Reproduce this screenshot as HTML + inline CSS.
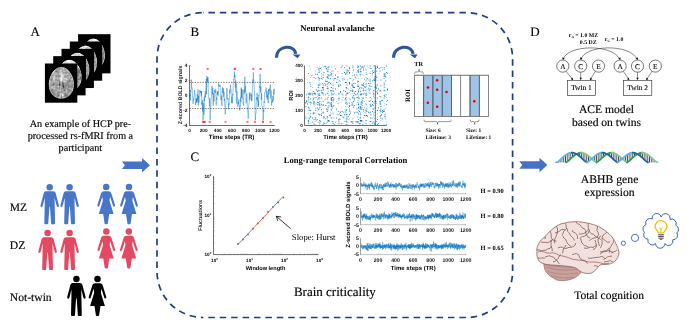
<!DOCTYPE html><html><head><meta charset="utf-8"><style>html,body{margin:0;padding:0;background:#fff;width:692px;height:336px;overflow:hidden}svg{display:block;will-change:transform}</style></head><body><svg text-rendering="geometricPrecision" width="692" height="336" viewBox="0 0 692 336"><text x="30.40" y="36.00" font-family='"Liberation Serif", serif' font-size="13" font-weight="normal" text-anchor="start" fill="#000" stroke="#000" stroke-width="0.15" >A</text><text x="190.50" y="35.70" font-family='"Liberation Serif", serif' font-size="13" font-weight="normal" text-anchor="start" fill="#000" stroke="#000" stroke-width="0.15" >B</text><text x="190.60" y="161.20" font-family='"Liberation Serif", serif' font-size="13" font-weight="normal" text-anchor="start" fill="#000" stroke="#000" stroke-width="0.15" >C</text><text x="530.20" y="35.80" font-family='"Liberation Serif", serif' font-size="13" font-weight="normal" text-anchor="start" fill="#000" stroke="#000" stroke-width="0.15" >D</text><rect x="78.10" y="34.18" width="32.4" height="39.2" fill="#000"/><path d="M91 38h1v1h-1zM104 60h1v1h-1z" fill="rgb(16,16,16)"/><path d="M97 39h1v1h-1z" fill="rgb(32,32,32)"/><path d="M104 50h1v1h-1z" fill="rgb(48,48,48)"/><path d="M94 38h1v1h-1zM89 39h1v1h-1zM103 47h1v1h-1zM102 64h1v1h-1z" fill="rgb(64,64,64)"/><path d="M92 38h1v1h-1zM102 45h1v1h-1z" fill="rgb(80,80,80)"/><path d="M93 38h1v1h-1zM98 40h1v1h-1zM104 51h1v1h-1zM104 59h1v1h-1zM103 62h1v1h-1z" fill="rgb(96,96,96)"/><path d="M102 53h1v1h-1zM102 59h1v1h-1z" fill="rgb(112,112,112)"/><path d="M102 48h1v1h-1zM103 52h1v1h-1zM104 52h1v1h-1zM103 53h1v1h-1zM102 54h1v1h-1zM102 57h1v1h-1zM103 57h1v1h-1zM102 58h1v1h-1zM103 58h1v1h-1zM102 60h1v1h-1zM102 61h1v1h-1z" fill="rgb(128,128,128)"/><path d="M88 40h1v1h-1zM99 41h1v1h-1zM103 48h1v1h-1zM103 51h1v1h-1zM103 54h1v1h-1zM102 55h1v1h-1zM103 55h1v1h-1zM102 56h1v1h-1zM103 56h1v1h-1zM104 58h1v1h-1zM103 59h1v1h-1zM102 62h1v1h-1z" fill="rgb(144,144,144)"/><path d="M102 49h1v1h-1zM103 49h1v1h-1zM103 50h1v1h-1zM102 52h1v1h-1zM104 53h1v1h-1zM104 55h1v1h-1z" fill="rgb(160,160,160)"/><path d="M96 39h1v1h-1zM102 47h1v1h-1zM102 50h1v1h-1zM104 54h1v1h-1zM104 56h1v1h-1zM104 57h1v1h-1zM103 60h1v1h-1zM103 61h1v1h-1z" fill="rgb(176,176,176)"/><path d="M87 41h1v1h-1zM102 46h1v1h-1zM102 51h1v1h-1zM102 63h1v1h-1z" fill="rgb(192,192,192)"/><path d="M90 39h1v1h-1zM92 39h1v1h-1z" fill="rgb(208,208,208)"/><path d="M91 39h1v1h-1zM91 40h1v1h-1zM92 40h1v1h-1zM97 40h1v1h-1zM88 41h1v1h-1zM89 41h1v1h-1zM95 41h1v1h-1zM96 41h1v1h-1zM97 41h1v1h-1z" fill="rgb(224,224,224)"/><path d="M93 39h1v1h-1zM95 39h1v1h-1zM89 40h1v1h-1zM90 40h1v1h-1zM93 40h1v1h-1zM96 40h1v1h-1zM90 41h1v1h-1zM93 41h1v1h-1zM94 41h1v1h-1z" fill="rgb(240,240,240)"/><path d="M94 39h1v1h-1zM94 40h1v1h-1zM95 40h1v1h-1zM91 41h1v1h-1zM92 41h1v1h-1zM98 41h1v1h-1z" fill="rgb(255,255,255)"/><rect x="69.80" y="41.51" width="32.4" height="39.2" fill="#000"/><path d="M89 46h1v1h-1zM96 56h1v1h-1zM96 68h1v1h-1z" fill="rgb(16,16,16)"/><path d="M84 45h1v1h-1zM86 45h1v1h-1zM81 46h1v1h-1zM95 70h1v1h-1z" fill="rgb(48,48,48)"/><path d="M85 45h1v1h-1zM96 67h1v1h-1z" fill="rgb(80,80,80)"/><path d="M90 47h1v1h-1zM95 54h1v1h-1zM96 57h1v1h-1z" fill="rgb(96,96,96)"/><path d="M94 52h1v1h-1z" fill="rgb(112,112,112)"/><path d="M91 48h1v1h-1zM94 56h1v1h-1zM94 57h1v1h-1zM94 58h1v1h-1zM94 61h1v1h-1zM94 62h1v1h-1zM96 64h1v1h-1zM96 65h1v1h-1zM94 71h1v1h-1z" fill="rgb(128,128,128)"/><path d="M94 54h1v1h-1zM94 55h1v1h-1zM94 59h1v1h-1zM95 62h1v1h-1zM95 64h1v1h-1zM94 65h1v1h-1zM95 65h1v1h-1zM96 66h1v1h-1z" fill="rgb(144,144,144)"/><path d="M80 47h1v1h-1zM95 55h1v1h-1zM95 56h1v1h-1zM95 57h1v1h-1zM95 58h1v1h-1zM96 58h1v1h-1zM94 60h1v1h-1zM95 60h1v1h-1zM95 61h1v1h-1zM94 63h1v1h-1zM95 63h1v1h-1zM96 63h1v1h-1zM94 66h1v1h-1zM94 67h1v1h-1zM94 68h1v1h-1zM94 69h1v1h-1zM95 69h1v1h-1z" fill="rgb(160,160,160)"/><path d="M82 46h1v1h-1zM88 46h1v1h-1zM79 48h1v1h-1zM94 53h1v1h-1zM95 59h1v1h-1zM96 59h1v1h-1zM96 60h1v1h-1zM96 62h1v1h-1zM94 64h1v1h-1zM95 66h1v1h-1zM95 67h1v1h-1zM95 68h1v1h-1zM94 70h1v1h-1z" fill="rgb(176,176,176)"/><path d="M87 47h1v1h-1zM96 61h1v1h-1z" fill="rgb(192,192,192)"/><path d="M83 46h1v1h-1zM83 47h1v1h-1zM86 47h1v1h-1zM88 47h1v1h-1zM89 47h1v1h-1zM81 48h1v1h-1zM85 48h1v1h-1zM86 48h1v1h-1zM87 48h1v1h-1zM88 48h1v1h-1zM89 48h1v1h-1zM90 48h1v1h-1z" fill="rgb(208,208,208)"/><path d="M87 46h1v1h-1zM81 47h1v1h-1zM84 47h1v1h-1zM85 47h1v1h-1z" fill="rgb(224,224,224)"/><path d="M84 46h1v1h-1zM82 47h1v1h-1zM80 48h1v1h-1zM82 48h1v1h-1zM84 48h1v1h-1z" fill="rgb(240,240,240)"/><path d="M85 46h1v1h-1zM86 46h1v1h-1zM83 48h1v1h-1z" fill="rgb(255,255,255)"/><rect x="61.50" y="48.84" width="32.4" height="39.2" fill="#000"/><path d="M78 52h1v1h-1zM87 60h1v1h-1zM88 76h1v1h-1zM87 78h1v1h-1z" fill="rgb(16,16,16)"/><path d="M76 52h1v1h-1zM77 52h1v1h-1zM89 67h1v1h-1zM89 72h1v1h-1z" fill="rgb(32,32,32)"/><path d="M73 53h1v1h-1zM89 71h1v1h-1z" fill="rgb(48,48,48)"/><path d="M88 63h1v1h-1zM89 68h1v1h-1zM89 69h1v1h-1zM89 70h1v1h-1zM86 79h1v1h-1z" fill="rgb(64,64,64)"/><path d="M88 75h1v1h-1z" fill="rgb(80,80,80)"/><path d="M82 54h1v1h-1z" fill="rgb(96,96,96)"/><path d="M86 65h1v1h-1zM86 75h1v1h-1zM87 75h1v1h-1zM86 76h1v1h-1zM87 76h1v1h-1zM87 77h1v1h-1z" fill="rgb(128,128,128)"/><path d="M74 53h1v1h-1zM80 53h1v1h-1zM72 54h1v1h-1zM83 55h1v1h-1zM87 61h1v1h-1zM86 62h1v1h-1zM88 64h1v1h-1zM87 65h1v1h-1zM86 66h1v1h-1zM87 66h1v1h-1zM86 69h1v1h-1zM86 71h1v1h-1zM87 71h1v1h-1zM87 73h1v1h-1zM87 74h1v1h-1zM86 77h1v1h-1z" fill="rgb(144,144,144)"/><path d="M86 59h1v1h-1zM86 61h1v1h-1zM87 62h1v1h-1zM86 64h1v1h-1zM87 64h1v1h-1zM88 66h1v1h-1zM88 67h1v1h-1zM87 68h1v1h-1zM88 68h1v1h-1zM87 69h1v1h-1zM88 69h1v1h-1zM86 70h1v1h-1zM87 70h1v1h-1zM88 70h1v1h-1zM88 71h1v1h-1zM87 72h1v1h-1zM86 73h1v1h-1zM86 74h1v1h-1zM88 74h1v1h-1zM86 78h1v1h-1z" fill="rgb(160,160,160)"/><path d="M86 63h1v1h-1zM87 63h1v1h-1zM88 65h1v1h-1zM86 67h1v1h-1zM87 67h1v1h-1zM86 68h1v1h-1zM86 72h1v1h-1zM88 72h1v1h-1zM88 73h1v1h-1z" fill="rgb(176,176,176)"/><path d="M78 55h1v1h-1zM81 55h1v1h-1zM86 60h1v1h-1z" fill="rgb(192,192,192)"/><path d="M75 53h1v1h-1zM76 53h1v1h-1zM73 54h1v1h-1zM74 54h1v1h-1zM75 54h1v1h-1zM76 54h1v1h-1zM77 54h1v1h-1zM78 54h1v1h-1zM79 54h1v1h-1zM81 54h1v1h-1zM71 55h1v1h-1zM74 55h1v1h-1zM75 55h1v1h-1zM76 55h1v1h-1zM77 55h1v1h-1zM79 55h1v1h-1zM82 55h1v1h-1z" fill="rgb(208,208,208)"/><path d="M77 53h1v1h-1zM78 53h1v1h-1zM80 54h1v1h-1zM73 55h1v1h-1zM80 55h1v1h-1z" fill="rgb(224,224,224)"/><path d="M79 53h1v1h-1zM72 55h1v1h-1z" fill="rgb(240,240,240)"/><rect x="53.20" y="56.17" width="32.4" height="39.2" fill="#000"/><path d="M68 59h1v1h-1zM69 59h1v1h-1zM78 65h1v1h-1zM80 69h1v1h-1z" fill="rgb(16,16,16)"/><path d="M65 60h1v1h-1z" fill="rgb(32,32,32)"/><path d="M81 73h1v1h-1z" fill="rgb(48,48,48)"/><path d="M79 67h1v1h-1zM81 80h1v1h-1z" fill="rgb(64,64,64)"/><path d="M77 64h1v1h-1zM81 79h1v1h-1zM80 83h1v1h-1zM79 85h1v1h-1z" fill="rgb(80,80,80)"/><path d="M74 61h1v1h-1zM80 70h1v1h-1zM81 74h1v1h-1zM81 77h1v1h-1zM81 78h1v1h-1z" fill="rgb(96,96,96)"/><path d="M75 62h1v1h-1zM78 70h1v1h-1zM79 70h1v1h-1zM77 71h1v1h-1zM78 71h1v1h-1zM79 71h1v1h-1zM77 72h1v1h-1zM78 72h1v1h-1zM79 72h1v1h-1zM81 76h1v1h-1zM80 77h1v1h-1zM80 78h1v1h-1zM78 79h1v1h-1z" fill="rgb(112,112,112)"/><path d="M72 60h1v1h-1zM76 63h1v1h-1zM78 69h1v1h-1zM77 73h1v1h-1zM78 73h1v1h-1zM79 73h1v1h-1zM77 74h1v1h-1zM78 74h1v1h-1zM77 75h1v1h-1zM78 75h1v1h-1zM81 75h1v1h-1zM79 78h1v1h-1zM79 79h1v1h-1zM78 86h1v1h-1z" fill="rgb(128,128,128)"/><path d="M64 61h1v1h-1zM79 69h1v1h-1zM77 70h1v1h-1zM80 72h1v1h-1zM80 73h1v1h-1zM77 76h1v1h-1zM78 76h1v1h-1zM80 76h1v1h-1zM78 78h1v1h-1zM77 79h1v1h-1zM80 79h1v1h-1zM77 80h1v1h-1zM77 81h1v1h-1zM78 81h1v1h-1zM77 82h1v1h-1zM77 87h1v1h-1z" fill="rgb(144,144,144)"/><path d="M66 60h1v1h-1zM78 68h1v1h-1zM77 69h1v1h-1zM80 71h1v1h-1zM79 74h1v1h-1zM79 75h1v1h-1zM79 76h1v1h-1zM77 77h1v1h-1zM78 77h1v1h-1zM79 77h1v1h-1zM77 78h1v1h-1zM78 80h1v1h-1zM78 82h1v1h-1zM78 83h1v1h-1zM78 84h1v1h-1zM77 85h1v1h-1zM78 85h1v1h-1zM77 86h1v1h-1z" fill="rgb(160,160,160)"/><path d="M77 68h1v1h-1zM79 68h1v1h-1zM80 74h1v1h-1zM80 75h1v1h-1zM79 80h1v1h-1zM80 80h1v1h-1zM79 81h1v1h-1zM79 82h1v1h-1zM77 83h1v1h-1zM79 83h1v1h-1zM77 84h1v1h-1zM79 84h1v1h-1z" fill="rgb(176,176,176)"/><path d="M64 63h1v1h-1zM77 65h1v1h-1zM77 67h1v1h-1zM80 81h1v1h-1zM80 82h1v1h-1z" fill="rgb(192,192,192)"/><path d="M73 61h1v1h-1zM65 63h1v1h-1zM66 63h1v1h-1zM67 63h1v1h-1zM68 63h1v1h-1zM71 63h1v1h-1zM73 63h1v1h-1zM77 66h1v1h-1z" fill="rgb(208,208,208)"/><path d="M71 60h1v1h-1zM65 61h1v1h-1zM71 61h1v1h-1zM64 62h1v1h-1zM65 62h1v1h-1zM66 62h1v1h-1zM67 62h1v1h-1zM70 62h1v1h-1zM71 62h1v1h-1zM73 62h1v1h-1zM70 63h1v1h-1zM72 63h1v1h-1zM75 63h1v1h-1zM78 66h1v1h-1zM78 67h1v1h-1z" fill="rgb(224,224,224)"/><path d="M70 60h1v1h-1zM66 61h1v1h-1zM70 61h1v1h-1zM72 61h1v1h-1zM63 62h1v1h-1zM68 62h1v1h-1zM69 62h1v1h-1zM72 62h1v1h-1zM74 62h1v1h-1zM62 63h1v1h-1zM63 63h1v1h-1zM69 63h1v1h-1zM74 63h1v1h-1z" fill="rgb(240,240,240)"/><path d="M67 60h1v1h-1zM68 60h1v1h-1zM69 60h1v1h-1zM67 61h1v1h-1zM68 61h1v1h-1zM69 61h1v1h-1z" fill="rgb(255,255,255)"/><rect x="44.90" y="63.50" width="32.4" height="39.2" fill="#000"/><path d="M57 67h1v1h-1zM48 82h1v1h-1zM48 86h1v1h-1zM73 89h1v1h-1z" fill="rgb(16,16,16)"/><path d="M70 72h1v1h-1zM48 84h1v1h-1zM48 85h1v1h-1zM49 90h1v1h-1zM50 92h1v1h-1zM71 93h1v1h-1zM55 97h1v1h-1z" fill="rgb(32,32,32)"/><path d="M51 73h1v1h-1zM50 75h1v1h-1zM73 79h1v1h-1zM48 83h1v1h-1zM63 86h1v1h-1zM68 96h1v1h-1zM64 98h1v1h-1z" fill="rgb(48,48,48)"/><path d="M66 68h1v1h-1zM49 78h1v1h-1zM59 84h1v1h-1zM72 91h1v1h-1zM58 98h1v1h-1z" fill="rgb(64,64,64)"/><path d="M64 67h1v1h-1zM71 74h1v1h-1zM72 76h1v1h-1zM59 85h1v1h-1zM63 85h1v1h-1zM63 87h1v1h-1zM73 88h1v1h-1zM70 94h1v1h-1zM69 95h1v1h-1zM66 97h1v1h-1zM61 98h1v1h-1zM63 98h1v1h-1z" fill="rgb(80,80,80)"/><path d="M56 68h1v1h-1zM69 71h1v1h-1zM59 83h1v1h-1zM62 83h1v1h-1zM62 84h1v1h-1zM62 85h1v1h-1zM54 96h1v1h-1z" fill="rgb(96,96,96)"/><path d="M58 67h1v1h-1zM67 69h1v1h-1zM68 70h1v1h-1zM56 71h1v1h-1zM69 80h1v1h-1zM73 80h1v1h-1zM59 82h1v1h-1zM62 82h1v1h-1zM63 83h1v1h-1zM53 84h1v1h-1zM63 84h1v1h-1zM62 86h1v1h-1zM49 89h1v1h-1zM64 90h1v1h-1zM51 93h1v1h-1zM58 95h1v1h-1zM65 95h1v1h-1zM66 95h1v1h-1zM56 97h1v1h-1zM61 97h1v1h-1zM59 98h1v1h-1zM62 98h1v1h-1z" fill="rgb(112,112,112)"/><path d="M55 71h1v1h-1zM57 71h1v1h-1zM49 79h1v1h-1zM59 81h1v1h-1zM69 81h1v1h-1zM73 81h1v1h-1zM67 82h1v1h-1zM53 83h1v1h-1zM60 84h1v1h-1zM60 85h1v1h-1zM65 85h1v1h-1zM66 85h1v1h-1zM68 85h1v1h-1zM72 85h1v1h-1zM64 86h1v1h-1zM68 86h1v1h-1zM69 86h1v1h-1zM71 86h1v1h-1zM59 87h1v1h-1zM64 87h1v1h-1zM73 87h1v1h-1zM63 88h1v1h-1zM51 89h1v1h-1zM52 89h1v1h-1zM64 89h1v1h-1zM51 90h1v1h-1zM52 90h1v1h-1zM68 90h1v1h-1zM69 90h1v1h-1zM50 91h1v1h-1zM52 91h1v1h-1zM52 92h1v1h-1zM53 92h1v1h-1zM53 93h1v1h-1zM65 93h1v1h-1zM54 94h1v1h-1zM65 94h1v1h-1zM66 94h1v1h-1zM53 95h1v1h-1zM57 95h1v1h-1zM57 96h1v1h-1zM61 96h1v1h-1zM65 96h1v1h-1zM66 96h1v1h-1zM60 98h1v1h-1z" fill="rgb(128,128,128)"/><path d="M59 67h1v1h-1zM63 67h1v1h-1zM59 68h1v1h-1zM59 69h1v1h-1zM65 69h1v1h-1zM56 70h1v1h-1zM58 72h1v1h-1zM65 72h1v1h-1zM66 72h1v1h-1zM69 73h1v1h-1zM51 75h1v1h-1zM56 75h1v1h-1zM58 75h1v1h-1zM59 75h1v1h-1zM68 75h1v1h-1zM70 75h1v1h-1zM56 76h1v1h-1zM58 76h1v1h-1zM59 76h1v1h-1zM65 76h1v1h-1zM70 77h1v1h-1zM71 77h1v1h-1zM51 78h1v1h-1zM70 78h1v1h-1zM50 79h1v1h-1zM51 79h1v1h-1zM69 79h1v1h-1zM51 80h1v1h-1zM57 80h1v1h-1zM58 80h1v1h-1zM59 80h1v1h-1zM68 80h1v1h-1zM70 80h1v1h-1zM67 81h1v1h-1zM68 81h1v1h-1zM70 81h1v1h-1zM72 81h1v1h-1zM63 82h1v1h-1zM68 82h1v1h-1zM54 83h1v1h-1zM60 83h1v1h-1zM64 83h1v1h-1zM65 83h1v1h-1zM66 83h1v1h-1zM67 83h1v1h-1zM68 83h1v1h-1zM52 84h1v1h-1zM54 84h1v1h-1zM56 84h1v1h-1zM57 84h1v1h-1zM58 84h1v1h-1zM66 84h1v1h-1zM67 84h1v1h-1zM68 84h1v1h-1zM71 84h1v1h-1zM72 84h1v1h-1zM51 85h1v1h-1zM52 85h1v1h-1zM53 85h1v1h-1zM56 85h1v1h-1zM57 85h1v1h-1zM64 85h1v1h-1zM67 85h1v1h-1zM69 85h1v1h-1zM71 85h1v1h-1zM59 86h1v1h-1zM65 86h1v1h-1zM70 86h1v1h-1zM72 86h1v1h-1zM56 87h1v1h-1zM62 87h1v1h-1zM65 87h1v1h-1zM68 87h1v1h-1zM69 87h1v1h-1zM70 87h1v1h-1zM71 87h1v1h-1zM72 87h1v1h-1zM56 88h1v1h-1zM59 88h1v1h-1zM61 88h1v1h-1zM62 88h1v1h-1zM64 88h1v1h-1zM65 88h1v1h-1zM67 88h1v1h-1zM61 89h1v1h-1zM63 89h1v1h-1zM67 89h1v1h-1zM68 89h1v1h-1zM69 89h1v1h-1zM55 90h1v1h-1zM63 90h1v1h-1zM65 90h1v1h-1zM70 90h1v1h-1zM53 91h1v1h-1zM61 91h1v1h-1zM68 91h1v1h-1zM70 91h1v1h-1zM58 92h1v1h-1zM59 92h1v1h-1zM61 92h1v1h-1zM67 92h1v1h-1zM68 92h1v1h-1zM71 92h1v1h-1zM54 93h1v1h-1zM57 93h1v1h-1zM58 93h1v1h-1zM64 93h1v1h-1zM52 94h1v1h-1zM53 94h1v1h-1zM55 94h1v1h-1zM57 94h1v1h-1zM58 94h1v1h-1zM64 94h1v1h-1zM67 94h1v1h-1zM61 95h1v1h-1zM64 95h1v1h-1zM67 95h1v1h-1zM58 96h1v1h-1zM64 96h1v1h-1zM67 96h1v1h-1z" fill="rgb(144,144,144)"/><path d="M60 67h1v1h-1zM62 67h1v1h-1zM57 68h1v1h-1zM58 68h1v1h-1zM60 68h1v1h-1zM55 69h1v1h-1zM56 69h1v1h-1zM57 69h1v1h-1zM58 69h1v1h-1zM62 69h1v1h-1zM64 69h1v1h-1zM55 70h1v1h-1zM57 70h1v1h-1zM58 70h1v1h-1zM62 70h1v1h-1zM65 70h1v1h-1zM58 71h1v1h-1zM62 71h1v1h-1zM66 71h1v1h-1zM52 72h1v1h-1zM55 72h1v1h-1zM56 72h1v1h-1zM57 72h1v1h-1zM63 72h1v1h-1zM64 72h1v1h-1zM67 72h1v1h-1zM68 72h1v1h-1zM57 73h1v1h-1zM58 73h1v1h-1zM65 73h1v1h-1zM66 73h1v1h-1zM68 73h1v1h-1zM70 73h1v1h-1zM51 74h1v1h-1zM58 74h1v1h-1zM52 75h1v1h-1zM55 75h1v1h-1zM57 75h1v1h-1zM65 75h1v1h-1zM67 75h1v1h-1zM69 75h1v1h-1zM50 76h1v1h-1zM51 76h1v1h-1zM55 76h1v1h-1zM57 76h1v1h-1zM64 76h1v1h-1zM66 76h1v1h-1zM67 76h1v1h-1zM68 76h1v1h-1zM70 76h1v1h-1zM51 77h1v1h-1zM52 77h1v1h-1zM58 77h1v1h-1zM64 77h1v1h-1zM65 77h1v1h-1zM72 77h1v1h-1zM52 78h1v1h-1zM68 78h1v1h-1zM71 78h1v1h-1zM52 79h1v1h-1zM55 79h1v1h-1zM56 79h1v1h-1zM57 79h1v1h-1zM58 79h1v1h-1zM70 79h1v1h-1zM50 80h1v1h-1zM52 80h1v1h-1zM55 80h1v1h-1zM56 80h1v1h-1zM67 80h1v1h-1zM71 80h1v1h-1zM72 80h1v1h-1zM57 81h1v1h-1zM62 81h1v1h-1zM71 81h1v1h-1zM51 82h1v1h-1zM53 82h1v1h-1zM54 82h1v1h-1zM55 82h1v1h-1zM56 82h1v1h-1zM57 82h1v1h-1zM60 82h1v1h-1zM66 82h1v1h-1zM69 82h1v1h-1zM71 82h1v1h-1zM72 82h1v1h-1zM50 83h1v1h-1zM51 83h1v1h-1zM52 83h1v1h-1zM55 83h1v1h-1zM56 83h1v1h-1zM57 83h1v1h-1zM69 83h1v1h-1zM71 83h1v1h-1zM72 83h1v1h-1zM73 83h1v1h-1zM51 84h1v1h-1zM55 84h1v1h-1zM61 84h1v1h-1zM64 84h1v1h-1zM65 84h1v1h-1zM69 84h1v1h-1zM73 84h1v1h-1zM50 85h1v1h-1zM54 85h1v1h-1zM55 85h1v1h-1zM58 85h1v1h-1zM61 85h1v1h-1zM70 85h1v1h-1zM73 85h1v1h-1zM56 86h1v1h-1zM66 86h1v1h-1zM67 86h1v1h-1zM73 86h1v1h-1zM49 87h1v1h-1zM50 87h1v1h-1zM55 87h1v1h-1zM57 87h1v1h-1zM61 87h1v1h-1zM66 87h1v1h-1zM67 87h1v1h-1zM50 88h1v1h-1zM55 88h1v1h-1zM57 88h1v1h-1zM58 88h1v1h-1zM66 88h1v1h-1zM68 88h1v1h-1zM71 88h1v1h-1zM50 89h1v1h-1zM53 89h1v1h-1zM55 89h1v1h-1zM56 89h1v1h-1zM59 89h1v1h-1zM62 89h1v1h-1zM65 89h1v1h-1zM70 89h1v1h-1zM50 90h1v1h-1zM53 90h1v1h-1zM54 90h1v1h-1zM56 90h1v1h-1zM67 90h1v1h-1zM71 90h1v1h-1zM51 91h1v1h-1zM54 91h1v1h-1zM55 91h1v1h-1zM57 91h1v1h-1zM58 91h1v1h-1zM59 91h1v1h-1zM62 91h1v1h-1zM63 91h1v1h-1zM64 91h1v1h-1zM67 91h1v1h-1zM69 91h1v1h-1zM71 91h1v1h-1zM51 92h1v1h-1zM54 92h1v1h-1zM57 92h1v1h-1zM60 92h1v1h-1zM62 92h1v1h-1zM65 92h1v1h-1zM69 92h1v1h-1zM70 92h1v1h-1zM52 93h1v1h-1zM55 93h1v1h-1zM56 93h1v1h-1zM59 93h1v1h-1zM66 93h1v1h-1zM67 93h1v1h-1zM56 94h1v1h-1zM59 94h1v1h-1zM54 95h1v1h-1zM55 95h1v1h-1zM56 95h1v1h-1zM59 95h1v1h-1zM68 95h1v1h-1zM56 96h1v1h-1zM65 97h1v1h-1z" fill="rgb(160,160,160)"/><path d="M61 67h1v1h-1zM61 68h1v1h-1zM64 68h1v1h-1zM65 68h1v1h-1zM60 69h1v1h-1zM61 69h1v1h-1zM66 69h1v1h-1zM59 70h1v1h-1zM63 70h1v1h-1zM64 70h1v1h-1zM66 70h1v1h-1zM59 71h1v1h-1zM65 71h1v1h-1zM67 71h1v1h-1zM54 72h1v1h-1zM59 72h1v1h-1zM62 72h1v1h-1zM69 72h1v1h-1zM53 73h1v1h-1zM54 73h1v1h-1zM55 73h1v1h-1zM56 73h1v1h-1zM63 73h1v1h-1zM64 73h1v1h-1zM67 73h1v1h-1zM52 74h1v1h-1zM53 74h1v1h-1zM55 74h1v1h-1zM56 74h1v1h-1zM57 74h1v1h-1zM65 74h1v1h-1zM68 74h1v1h-1zM69 74h1v1h-1zM70 74h1v1h-1zM53 75h1v1h-1zM60 75h1v1h-1zM64 75h1v1h-1zM66 75h1v1h-1zM71 75h1v1h-1zM52 76h1v1h-1zM60 76h1v1h-1zM71 76h1v1h-1zM55 77h1v1h-1zM56 77h1v1h-1zM57 77h1v1h-1zM66 77h1v1h-1zM67 77h1v1h-1zM68 77h1v1h-1zM50 78h1v1h-1zM55 78h1v1h-1zM56 78h1v1h-1zM58 78h1v1h-1zM67 78h1v1h-1zM69 78h1v1h-1zM59 79h1v1h-1zM68 79h1v1h-1zM53 80h1v1h-1zM65 80h1v1h-1zM66 80h1v1h-1zM50 81h1v1h-1zM51 81h1v1h-1zM52 81h1v1h-1zM53 81h1v1h-1zM55 81h1v1h-1zM56 81h1v1h-1zM58 81h1v1h-1zM60 81h1v1h-1zM66 81h1v1h-1zM50 82h1v1h-1zM52 82h1v1h-1zM61 82h1v1h-1zM64 82h1v1h-1zM65 82h1v1h-1zM70 82h1v1h-1zM73 82h1v1h-1zM58 83h1v1h-1zM61 83h1v1h-1zM70 83h1v1h-1zM49 84h1v1h-1zM50 84h1v1h-1zM70 84h1v1h-1zM49 85h1v1h-1zM49 86h1v1h-1zM50 86h1v1h-1zM51 86h1v1h-1zM53 86h1v1h-1zM55 86h1v1h-1zM57 86h1v1h-1zM61 86h1v1h-1zM53 87h1v1h-1zM54 87h1v1h-1zM58 87h1v1h-1zM60 87h1v1h-1zM49 88h1v1h-1zM51 88h1v1h-1zM52 88h1v1h-1zM60 88h1v1h-1zM69 88h1v1h-1zM70 88h1v1h-1zM54 89h1v1h-1zM57 89h1v1h-1zM58 89h1v1h-1zM60 89h1v1h-1zM66 89h1v1h-1zM71 89h1v1h-1zM57 90h1v1h-1zM58 90h1v1h-1zM59 90h1v1h-1zM61 90h1v1h-1zM62 90h1v1h-1zM56 91h1v1h-1zM60 91h1v1h-1zM65 91h1v1h-1zM55 92h1v1h-1zM56 92h1v1h-1zM63 92h1v1h-1zM64 92h1v1h-1zM66 92h1v1h-1zM63 93h1v1h-1zM68 93h1v1h-1zM69 93h1v1h-1zM70 93h1v1h-1zM68 94h1v1h-1zM69 94h1v1h-1zM63 96h1v1h-1zM57 97h1v1h-1zM63 97h1v1h-1zM64 97h1v1h-1z" fill="rgb(176,176,176)"/><path d="M62 68h1v1h-1zM63 69h1v1h-1zM54 70h1v1h-1zM67 70h1v1h-1zM54 71h1v1h-1zM60 71h1v1h-1zM61 71h1v1h-1zM63 71h1v1h-1zM64 71h1v1h-1zM68 71h1v1h-1zM60 72h1v1h-1zM59 73h1v1h-1zM62 73h1v1h-1zM54 74h1v1h-1zM59 74h1v1h-1zM63 74h1v1h-1zM64 74h1v1h-1zM66 74h1v1h-1zM67 74h1v1h-1zM54 75h1v1h-1zM53 76h1v1h-1zM69 76h1v1h-1zM50 77h1v1h-1zM53 77h1v1h-1zM59 77h1v1h-1zM63 77h1v1h-1zM69 77h1v1h-1zM57 78h1v1h-1zM59 78h1v1h-1zM72 78h1v1h-1zM53 79h1v1h-1zM62 79h1v1h-1zM63 79h1v1h-1zM64 79h1v1h-1zM65 79h1v1h-1zM67 79h1v1h-1zM71 79h1v1h-1zM49 80h1v1h-1zM54 80h1v1h-1zM62 80h1v1h-1zM63 80h1v1h-1zM64 80h1v1h-1zM54 81h1v1h-1zM61 81h1v1h-1zM63 81h1v1h-1zM65 81h1v1h-1zM58 82h1v1h-1zM49 83h1v1h-1zM52 86h1v1h-1zM54 86h1v1h-1zM60 86h1v1h-1zM51 87h1v1h-1zM52 87h1v1h-1zM53 88h1v1h-1zM54 88h1v1h-1zM72 88h1v1h-1zM60 90h1v1h-1zM66 90h1v1h-1zM72 90h1v1h-1zM66 91h1v1h-1zM60 93h1v1h-1zM61 93h1v1h-1zM62 93h1v1h-1zM60 94h1v1h-1zM63 94h1v1h-1zM55 96h1v1h-1zM59 96h1v1h-1zM60 96h1v1h-1zM62 96h1v1h-1zM58 97h1v1h-1zM59 97h1v1h-1zM60 97h1v1h-1zM62 97h1v1h-1z" fill="rgb(192,192,192)"/><path d="M63 68h1v1h-1zM60 70h1v1h-1zM61 70h1v1h-1zM53 71h1v1h-1zM53 72h1v1h-1zM61 72h1v1h-1zM52 73h1v1h-1zM60 73h1v1h-1zM61 73h1v1h-1zM60 74h1v1h-1zM62 74h1v1h-1zM63 75h1v1h-1zM54 76h1v1h-1zM63 76h1v1h-1zM54 77h1v1h-1zM60 77h1v1h-1zM62 77h1v1h-1zM53 78h1v1h-1zM54 78h1v1h-1zM62 78h1v1h-1zM63 78h1v1h-1zM64 78h1v1h-1zM65 78h1v1h-1zM66 78h1v1h-1zM54 79h1v1h-1zM66 79h1v1h-1zM72 79h1v1h-1zM49 81h1v1h-1zM64 81h1v1h-1zM49 82h1v1h-1zM58 86h1v1h-1zM72 89h1v1h-1zM61 94h1v1h-1zM60 95h1v1h-1zM63 95h1v1h-1z" fill="rgb(208,208,208)"/><path d="M61 74h1v1h-1zM61 75h1v1h-1zM62 75h1v1h-1zM61 76h1v1h-1zM62 76h1v1h-1zM60 78h1v1h-1zM60 79h1v1h-1zM60 80h1v1h-1zM62 94h1v1h-1z" fill="rgb(224,224,224)"/><path d="M61 77h1v1h-1zM61 78h1v1h-1zM61 79h1v1h-1zM61 80h1v1h-1zM62 95h1v1h-1z" fill="rgb(240,240,240)"/><text x="80.40" y="127.10" font-family='"Liberation Serif", serif' font-size="10.2" font-weight="normal" text-anchor="middle" fill="#000" stroke="#000" stroke-width="0.15" >An example of HCP pre-</text><text x="80.40" y="138.80" font-family='"Liberation Serif", serif' font-size="10.2" font-weight="normal" text-anchor="middle" fill="#000" stroke="#000" stroke-width="0.15" >processed rs-fMRI from a</text><text x="80.40" y="150.50" font-family='"Liberation Serif", serif' font-size="10.2" font-weight="normal" text-anchor="middle" fill="#000" stroke="#000" stroke-width="0.15" >participant</text><path d="M121.90,161.60 L142.10,161.60 L142.10,158.10 L149.90,165.30 L142.10,172.50 L142.10,169.00 L121.90,169.00 L124.90,165.30Z" fill="#4472c4"/><path d="M519.30,161.30 L539.50,161.30 L539.50,157.80 L547.30,165.00 L539.50,172.20 L539.50,168.70 L519.30,168.70 L522.30,165.00Z" fill="#4472c4"/><g transform="translate(49.70,187.20) scale(1.0)" fill="#4876c8"><circle cx="0" cy="0" r="3.25"/><path d="M-3.8,4.1 L3.8,4.1 Q5.4,4.1 5.9,5.6 L9.2,18.2 Q9.5,19.5 8.4,19.8 Q7.4,20 7.1,19 L4.9,10.5 L5.0,19 L5.4,36.0 Q5.4,37.0 4.4,37.0 L2.3,37.0 Q1.5,37.0 1.4,36.0 L0.3,19.5 L-0.3,19.5 L-1.4,36.0 Q-1.5,37.0 -2.3,37.0 L-4.4,37.0 Q-5.4,37.0 -5.4,36.0 L-5.0,19 L-4.9,10.5 L-7.1,19 Q-7.4,20 -8.4,19.8 Q-9.5,19.5 -9.2,18.2 L-5.9,5.6 Q-5.4,4.1 -3.8,4.1Z"/></g><g transform="translate(69.60,187.20) scale(1.0)" fill="#4876c8"><circle cx="0" cy="0" r="3.25"/><path d="M-3.8,4.1 L3.8,4.1 Q5.4,4.1 5.9,5.6 L9.2,18.2 Q9.5,19.5 8.4,19.8 Q7.4,20 7.1,19 L4.9,10.5 L5.0,19 L5.4,36.0 Q5.4,37.0 4.4,37.0 L2.3,37.0 Q1.5,37.0 1.4,36.0 L0.3,19.5 L-0.3,19.5 L-1.4,36.0 Q-1.5,37.0 -2.3,37.0 L-4.4,37.0 Q-5.4,37.0 -5.4,36.0 L-5.0,19 L-4.9,10.5 L-7.1,19 Q-7.4,20 -8.4,19.8 Q-9.5,19.5 -9.2,18.2 L-5.9,5.6 Q-5.4,4.1 -3.8,4.1Z"/></g><g transform="translate(106.20,187.00) scale(1.0)" fill="#4876c8"><circle cx="0" cy="0" r="3.25"/><path d="M-2.6,4.3 L2.6,4.3 Q4.4,4.3 5.0,5.9 L8.8,18.0 Q9.1,19.3 8.0,19.6 Q7.1,19.8 6.8,18.8 L4.0,10.0 Q3.2,12.5 3.4,14.0 L7.4,27.1 L3.0,27.1 L1.6,36.4 Q1.5,37.2 0.7,37.2 L-0.7,37.2 Q-1.5,37.2 -1.6,36.4 L-3.0,27.1 L-7.4,27.1 L-3.4,14.0 Q-3.2,12.5 -4.0,10.0 L-6.8,18.8 Q-7.1,19.8 -8.0,19.6 Q-9.1,19.3 -8.8,18.0 L-5.0,5.9 Q-4.4,4.3 -2.6,4.3Z"/></g><g transform="translate(129.00,187.00) scale(1.0)" fill="#4876c8"><circle cx="0" cy="0" r="3.25"/><path d="M-2.6,4.3 L2.6,4.3 Q4.4,4.3 5.0,5.9 L8.8,18.0 Q9.1,19.3 8.0,19.6 Q7.1,19.8 6.8,18.8 L4.0,10.0 Q3.2,12.5 3.4,14.0 L7.4,27.1 L3.0,27.1 L1.6,36.4 Q1.5,37.2 0.7,37.2 L-0.7,37.2 Q-1.5,37.2 -1.6,36.4 L-3.0,27.1 L-7.4,27.1 L-3.4,14.0 Q-3.2,12.5 -4.0,10.0 L-6.8,18.8 Q-7.1,19.8 -8.0,19.6 Q-9.1,19.3 -8.8,18.0 L-5.0,5.9 Q-4.4,4.3 -2.6,4.3Z"/></g><g transform="translate(47.60,233.10) scale(1.0)" fill="#e24a62"><circle cx="0" cy="0" r="3.25"/><path d="M-3.8,4.1 L3.8,4.1 Q5.4,4.1 5.9,5.6 L9.2,18.2 Q9.5,19.5 8.4,19.8 Q7.4,20 7.1,19 L4.9,10.5 L5.0,19 L5.4,36.0 Q5.4,37.0 4.4,37.0 L2.3,37.0 Q1.5,37.0 1.4,36.0 L0.3,19.5 L-0.3,19.5 L-1.4,36.0 Q-1.5,37.0 -2.3,37.0 L-4.4,37.0 Q-5.4,37.0 -5.4,36.0 L-5.0,19 L-4.9,10.5 L-7.1,19 Q-7.4,20 -8.4,19.8 Q-9.5,19.5 -9.2,18.2 L-5.9,5.6 Q-5.4,4.1 -3.8,4.1Z"/></g><g transform="translate(69.60,233.10) scale(1.0)" fill="#e24a62"><circle cx="0" cy="0" r="3.25"/><path d="M-3.8,4.1 L3.8,4.1 Q5.4,4.1 5.9,5.6 L9.2,18.2 Q9.5,19.5 8.4,19.8 Q7.4,20 7.1,19 L4.9,10.5 L5.0,19 L5.4,36.0 Q5.4,37.0 4.4,37.0 L2.3,37.0 Q1.5,37.0 1.4,36.0 L0.3,19.5 L-0.3,19.5 L-1.4,36.0 Q-1.5,37.0 -2.3,37.0 L-4.4,37.0 Q-5.4,37.0 -5.4,36.0 L-5.0,19 L-4.9,10.5 L-7.1,19 Q-7.4,20 -8.4,19.8 Q-9.5,19.5 -9.2,18.2 L-5.9,5.6 Q-5.4,4.1 -3.8,4.1Z"/></g><g transform="translate(106.30,231.40) scale(1.0)" fill="#e24a62"><circle cx="0" cy="0" r="3.25"/><path d="M-2.6,4.3 L2.6,4.3 Q4.4,4.3 5.0,5.9 L8.8,18.0 Q9.1,19.3 8.0,19.6 Q7.1,19.8 6.8,18.8 L4.0,10.0 Q3.2,12.5 3.4,14.0 L7.4,27.1 L3.0,27.1 L1.6,36.4 Q1.5,37.2 0.7,37.2 L-0.7,37.2 Q-1.5,37.2 -1.6,36.4 L-3.0,27.1 L-7.4,27.1 L-3.4,14.0 Q-3.2,12.5 -4.0,10.0 L-6.8,18.8 Q-7.1,19.8 -8.0,19.6 Q-9.1,19.3 -8.8,18.0 L-5.0,5.9 Q-4.4,4.3 -2.6,4.3Z"/></g><g transform="translate(128.80,231.40) scale(1.0)" fill="#e24a62"><circle cx="0" cy="0" r="3.25"/><path d="M-2.6,4.3 L2.6,4.3 Q4.4,4.3 5.0,5.9 L8.8,18.0 Q9.1,19.3 8.0,19.6 Q7.1,19.8 6.8,18.8 L4.0,10.0 Q3.2,12.5 3.4,14.0 L7.4,27.1 L3.0,27.1 L1.6,36.4 Q1.5,37.2 0.7,37.2 L-0.7,37.2 Q-1.5,37.2 -1.6,36.4 L-3.0,27.1 L-7.4,27.1 L-3.4,14.0 Q-3.2,12.5 -4.0,10.0 L-6.8,18.8 Q-7.1,19.8 -8.0,19.6 Q-9.1,19.3 -8.8,18.0 L-5.0,5.9 Q-4.4,4.3 -2.6,4.3Z"/></g><g transform="translate(76.40,278.90) scale(1.0)" fill="#000"><circle cx="0" cy="0" r="3.25"/><path d="M-3.8,4.1 L3.8,4.1 Q5.4,4.1 5.9,5.6 L9.2,18.2 Q9.5,19.5 8.4,19.8 Q7.4,20 7.1,19 L4.9,10.5 L5.0,19 L5.4,36.0 Q5.4,37.0 4.4,37.0 L2.3,37.0 Q1.5,37.0 1.4,36.0 L0.3,19.5 L-0.3,19.5 L-1.4,36.0 Q-1.5,37.0 -2.3,37.0 L-4.4,37.0 Q-5.4,37.0 -5.4,36.0 L-5.0,19 L-4.9,10.5 L-7.1,19 Q-7.4,20 -8.4,19.8 Q-9.5,19.5 -9.2,18.2 L-5.9,5.6 Q-5.4,4.1 -3.8,4.1Z"/></g><g transform="translate(97.50,278.90) scale(1.0)" fill="#000"><circle cx="0" cy="0" r="3.25"/><path d="M-2.6,4.3 L2.6,4.3 Q4.4,4.3 5.0,5.9 L8.8,18.0 Q9.1,19.3 8.0,19.6 Q7.1,19.8 6.8,18.8 L4.0,10.0 Q3.2,12.5 3.4,14.0 L7.4,27.1 L3.0,27.1 L1.6,36.4 Q1.5,37.2 0.7,37.2 L-0.7,37.2 Q-1.5,37.2 -1.6,36.4 L-3.0,27.1 L-7.4,27.1 L-3.4,14.0 Q-3.2,12.5 -4.0,10.0 L-6.8,18.8 Q-7.1,19.8 -8.0,19.6 Q-9.1,19.3 -8.8,18.0 L-5.0,5.9 Q-4.4,4.3 -2.6,4.3Z"/></g><text x="9.80" y="211.00" font-family='"Liberation Serif", serif' font-size="11.5" font-weight="normal" text-anchor="start" fill="#000" stroke="#000" stroke-width="0.15" >MZ</text><text x="9.80" y="248.60" font-family='"Liberation Serif", serif' font-size="11.6" font-weight="normal" text-anchor="start" fill="#000" stroke="#000" stroke-width="0.15" >DZ</text><text x="9.80" y="301.00" font-family='"Liberation Serif", serif' font-size="11.6" font-weight="normal" text-anchor="start" fill="#000" stroke="#000" stroke-width="0.15" >Not-twin</text><path d="M203.0,12.6 L466.6,12.6 A46,46 0 0,1 512.6,58.6 L512.6,271.5 A46,46 0 0,1 466.6,317.5 L203.0,317.5" fill="none" stroke="#1f3d85" stroke-width="1.7" stroke-dasharray="6.5 4.91" stroke-dashoffset="-5.4"/><path d="M203.0,317.5 A46,46 0 0,1 157.0,271.5 L157.0,58.6 A46,46 0 0,1 203.0,12.6" fill="none" stroke="#1f3d85" stroke-width="1.7" stroke-dasharray="6.5 4.91" stroke-dashoffset="-7.08"/><text x="337.50" y="30.70" font-family='"Liberation Serif", serif' font-size="8.75" font-weight="bold" text-anchor="middle" fill="#000" >Neuronal avalanche</text><path d="M189.5,65.5 L189.5,125.5 L274.8,125.5" fill="none" stroke="#333" stroke-width="0.7"/><text x="187.50" y="67.20" font-family='"Liberation Sans", sans-serif' font-size="4.8" font-weight="bold" text-anchor="end" fill="#111" >4</text><line x1="189.5" y1="65.50" x2="190.5" y2="65.50" stroke="#333" stroke-width="0.5"/><text x="187.50" y="82.20" font-family='"Liberation Sans", sans-serif' font-size="4.8" font-weight="bold" text-anchor="end" fill="#111" >2</text><line x1="189.5" y1="80.50" x2="190.5" y2="80.50" stroke="#333" stroke-width="0.5"/><text x="187.50" y="97.20" font-family='"Liberation Sans", sans-serif' font-size="4.8" font-weight="bold" text-anchor="end" fill="#111" >0</text><line x1="189.5" y1="95.50" x2="190.5" y2="95.50" stroke="#333" stroke-width="0.5"/><text x="187.50" y="112.20" font-family='"Liberation Sans", sans-serif' font-size="4.8" font-weight="bold" text-anchor="end" fill="#111" >-2</text><line x1="189.5" y1="110.50" x2="190.5" y2="110.50" stroke="#333" stroke-width="0.5"/><text x="187.50" y="127.20" font-family='"Liberation Sans", sans-serif' font-size="4.8" font-weight="bold" text-anchor="end" fill="#111" >-4</text><line x1="189.5" y1="125.50" x2="190.5" y2="125.50" stroke="#333" stroke-width="0.5"/><text x="189.50" y="131.60" font-family='"Liberation Sans", sans-serif' font-size="4.7" font-weight="bold" text-anchor="middle" fill="#111" >0</text><text x="203.63" y="131.60" font-family='"Liberation Sans", sans-serif' font-size="4.7" font-weight="bold" text-anchor="middle" fill="#111" >200</text><text x="217.77" y="131.60" font-family='"Liberation Sans", sans-serif' font-size="4.7" font-weight="bold" text-anchor="middle" fill="#111" >400</text><text x="231.90" y="131.60" font-family='"Liberation Sans", sans-serif' font-size="4.7" font-weight="bold" text-anchor="middle" fill="#111" >600</text><text x="246.03" y="131.60" font-family='"Liberation Sans", sans-serif' font-size="4.7" font-weight="bold" text-anchor="middle" fill="#111" >800</text><text x="260.17" y="131.60" font-family='"Liberation Sans", sans-serif' font-size="4.7" font-weight="bold" text-anchor="middle" fill="#111" >1000</text><text x="274.30" y="131.60" font-family='"Liberation Sans", sans-serif' font-size="4.7" font-weight="bold" text-anchor="middle" fill="#111" >1200</text><text x="231.60" y="139.20" font-family='"Liberation Sans", sans-serif' font-size="6.1" font-weight="bold" text-anchor="middle" fill="#000" >Time steps (TR)</text><text x="0.00" y="0.00" font-family='"Liberation Sans", sans-serif' font-size="5.3" font-weight="bold" text-anchor="middle" fill="#222" transform="translate(181.7,94.9) rotate(-90)">Z-scored BOLD signals</text><polyline points="189.80,98.67 190.05,93.27 190.30,100.51 190.55,90.05 190.80,92.45 191.05,90.04 191.30,79.54 191.54,86.33 191.79,88.31 192.04,87.66 192.29,89.29 192.54,97.17 192.79,96.75 193.04,103.77 193.29,100.33 193.54,98.52 193.79,99.50 194.04,97.63 194.29,96.32 194.54,90.09 194.79,90.97 195.03,94.23 195.28,96.05 195.53,105.15 195.78,102.26 196.03,101.63 196.28,98.57 196.53,102.95 196.78,98.22 197.03,102.10 197.28,93.91 197.53,100.29 197.78,97.89 198.03,89.41 198.27,105.55 198.52,95.63 198.77,99.30 199.02,102.48 199.27,98.29 199.52,95.57 199.77,90.20 200.02,92.30 200.27,91.55 200.52,90.87 200.77,93.15 201.02,91.02 201.27,96.40 201.52,91.04 201.76,104.80 202.01,102.15 202.26,103.10 202.51,111.55 202.76,99.72 203.01,120.25 203.26,114.44 203.51,114.77 203.76,103.23 204.01,114.38 204.26,97.38 204.51,100.82 204.76,95.68 205.01,96.84 205.25,91.05 205.50,97.32 205.75,91.30 206.00,87.43 206.25,78.99 206.50,94.20 206.75,75.91 207.00,76.64 207.25,81.48 207.50,77.85 207.75,82.29 208.00,77.06 208.25,87.77 208.49,94.34 208.74,97.94 208.99,99.17 209.24,100.26 209.49,106.34 209.74,98.10 209.99,117.46 210.24,120.25 210.49,109.68 210.74,106.84 210.99,100.61 211.24,98.54 211.49,94.30 211.74,89.51 211.98,85.81 212.23,92.40 212.48,94.35 212.73,87.97 212.98,97.01 213.23,105.70 213.48,93.03 213.73,98.54 213.98,101.44 214.23,100.00 214.48,89.97 214.73,91.64 214.98,91.32 215.22,93.03 215.47,92.11 215.72,88.77 215.97,98.55 216.22,105.35 216.47,97.72 216.72,99.73 216.97,94.94 217.22,91.20 217.47,94.51 217.72,92.61 217.97,91.42 218.22,95.66 218.47,87.37 218.71,83.14 218.96,86.48 219.21,86.53 219.46,85.18 219.71,86.33 219.96,86.00 220.21,85.07 220.46,89.50 220.71,91.64 220.96,100.32 221.21,95.48 221.46,98.11 221.71,102.68 221.95,105.88 222.20,94.20 222.45,87.25 222.70,92.98 222.95,91.10 223.20,91.79 223.45,88.16 223.70,96.93 223.95,92.03 224.20,100.59 224.45,98.69 224.70,105.11 224.95,108.18 225.20,114.32 225.44,110.87 225.69,107.33 225.94,100.47 226.19,98.48 226.44,98.80 226.69,91.55 226.94,87.91 227.19,93.08 227.44,96.41 227.69,99.45 227.94,97.95 228.19,101.85 228.44,109.25 228.68,103.54 228.93,105.38 229.18,103.73 229.43,92.08 229.68,90.21 229.93,93.40 230.18,87.76 230.43,84.94 230.68,90.03 230.93,89.86 231.18,89.64 231.43,103.06 231.68,97.00 231.93,96.65 232.17,97.38 232.42,103.48 232.67,94.02 232.92,95.43 233.17,85.54 233.42,81.29 233.67,79.06 233.92,79.92 234.17,76.98 234.42,71.50 234.67,77.70 234.92,74.80 235.17,79.23 235.42,87.44 235.66,80.49 235.91,92.20 236.16,83.90 236.41,101.62 236.66,103.49 236.91,91.36 237.16,94.03 237.41,99.07 237.66,98.83 237.91,106.88 238.16,101.80 238.41,104.24 238.66,102.22 238.90,99.35 239.15,104.58 239.40,104.90 239.65,110.53 239.90,110.06 240.15,107.49 240.40,107.01 240.65,97.19 240.90,102.16 241.15,87.50 241.40,97.58 241.65,89.17 241.90,97.82 242.15,89.63 242.39,97.89 242.64,98.52 242.89,98.03 243.14,103.62 243.39,104.00 243.64,105.75 243.89,89.38 244.14,94.10 244.39,90.75 244.64,86.23 244.89,76.74 245.14,92.20 245.39,85.76 245.63,91.33 245.88,90.81 246.13,103.26 246.38,99.09 246.63,94.47 246.88,93.57 247.13,96.95 247.38,111.10 247.63,110.84 247.88,113.51 248.13,118.80 248.38,117.62 248.63,105.90 248.88,104.55 249.12,102.41 249.37,93.35 249.62,99.85 249.87,92.10 250.12,94.16 250.37,95.44 250.62,94.92 250.87,98.24 251.12,99.63 251.37,100.67 251.62,93.71 251.87,101.19 252.12,92.35 252.36,89.56 252.61,88.66 252.86,79.42 253.11,82.75 253.36,72.48 253.61,80.62 253.86,82.11 254.11,84.11 254.36,89.11 254.61,96.56 254.86,103.86 255.11,114.04 255.36,120.25 255.61,114.34 255.85,112.72 256.10,113.09 256.35,99.45 256.60,97.58 256.85,99.27 257.10,93.04 257.35,101.08 257.60,100.62 257.85,96.99 258.10,106.55 258.35,100.88 258.60,106.53 258.85,95.21 259.09,96.19 259.34,86.38 259.59,87.89 259.84,79.74 260.09,73.98 260.34,78.42 260.59,92.46 260.84,86.56 261.09,91.66 261.34,100.01 261.59,93.38 261.84,105.73 262.09,105.80 262.34,105.80 262.58,109.48 262.83,112.44 263.08,120.25 263.33,120.25 263.58,109.69 263.83,111.71 264.08,101.34 264.33,102.89 264.58,92.49 264.83,92.72 265.08,92.10 265.33,92.31 265.58,90.35 265.83,90.58 266.07,87.58 266.32,89.40 266.57,91.05 266.82,97.82 267.07,91.09 267.32,99.61 267.57,95.40 267.82,94.79 268.07,102.14 268.32,103.28 268.57,89.11 268.82,94.56 269.07,92.25 269.31,92.44 269.56,88.44 269.81,91.15 270.06,84.56 270.31,85.30 270.56,85.13 270.81,98.76 271.06,90.52 271.31,96.06 271.56,105.51 271.81,102.30 272.06,100.74 272.31,99.65 272.56,102.59 272.80,95.87 273.05,99.33 273.30,100.82 273.55,96.91 273.80,89.33 274.05,94.47 274.30,88.47" fill="none" stroke="#0072bd" stroke-width="0.55" stroke-linejoin="round" opacity="0.75"/><line x1="189.5" y1="82.4" x2="274.8" y2="82.4" stroke="#222" stroke-width="0.6" stroke-dasharray="1.3 1.3"/><line x1="189.5" y1="108.5" x2="274.8" y2="108.5" stroke="#222" stroke-width="0.6" stroke-dasharray="1.3 1.3"/><rect x="206.60" y="67.9" width="2.0" height="2.0" fill="#f03838" opacity="0.75"/><rect x="233.80" y="67.9" width="2.0" height="2.0" fill="#f03838" opacity="1.0"/><rect x="252.30" y="67.9" width="2.0" height="2.0" fill="#f03838" opacity="0.75"/><rect x="259.50" y="67.9" width="2.0" height="2.0" fill="#f03838" opacity="0.85"/><rect x="202.20" y="120.9" width="2.0" height="2.0" fill="#f03838" opacity="1.0"/><rect x="203.60" y="120.9" width="2.0" height="2.0" fill="#f03838" opacity="1.0"/><rect x="208.70" y="120.9" width="2.0" height="2.0" fill="#f03838" opacity="0.7"/><rect x="224.50" y="120.9" width="2.0" height="2.0" fill="#f03838" opacity="0.6"/><rect x="246.50" y="120.9" width="2.0" height="2.0" fill="#f03838" opacity="0.7"/><rect x="254.00" y="120.9" width="2.0" height="2.0" fill="#f03838" opacity="0.7"/><rect x="262.00" y="120.9" width="2.0" height="2.0" fill="#f03838" opacity="0.85"/><rect x="269.60" y="120.9" width="2.0" height="2.0" fill="#f03838" opacity="0.65"/><path d="M304.5,65.5 L304.5,125.5 L386.6,125.5" fill="none" stroke="#333" stroke-width="0.7"/><text x="302.90" y="67.20" font-family='"Liberation Sans", sans-serif' font-size="4.6" font-weight="bold" text-anchor="end" fill="#111" >400</text><text x="302.90" y="82.20" font-family='"Liberation Sans", sans-serif' font-size="4.6" font-weight="bold" text-anchor="end" fill="#111" >300</text><text x="302.90" y="97.20" font-family='"Liberation Sans", sans-serif' font-size="4.6" font-weight="bold" text-anchor="end" fill="#111" >200</text><text x="302.90" y="112.20" font-family='"Liberation Sans", sans-serif' font-size="4.6" font-weight="bold" text-anchor="end" fill="#111" >100</text><text x="302.90" y="127.20" font-family='"Liberation Sans", sans-serif' font-size="4.6" font-weight="bold" text-anchor="end" fill="#111" >0</text><text x="304.50" y="131.60" font-family='"Liberation Sans", sans-serif' font-size="4.6" font-weight="bold" text-anchor="middle" fill="#111" >0</text><text x="318.10" y="131.60" font-family='"Liberation Sans", sans-serif' font-size="4.6" font-weight="bold" text-anchor="middle" fill="#111" >200</text><text x="331.70" y="131.60" font-family='"Liberation Sans", sans-serif' font-size="4.6" font-weight="bold" text-anchor="middle" fill="#111" >400</text><text x="345.30" y="131.60" font-family='"Liberation Sans", sans-serif' font-size="4.6" font-weight="bold" text-anchor="middle" fill="#111" >600</text><text x="358.90" y="131.60" font-family='"Liberation Sans", sans-serif' font-size="4.6" font-weight="bold" text-anchor="middle" fill="#111" >800</text><text x="372.50" y="131.60" font-family='"Liberation Sans", sans-serif' font-size="4.6" font-weight="bold" text-anchor="middle" fill="#111" >1000</text><text x="386.10" y="131.60" font-family='"Liberation Sans", sans-serif' font-size="4.6" font-weight="bold" text-anchor="middle" fill="#111" >1200</text><text x="345.50" y="139.00" font-family='"Liberation Sans", sans-serif' font-size="5.95" font-weight="bold" text-anchor="middle" fill="#000" >Time steps (TR)</text><text x="0.00" y="0.00" font-family='"Liberation Sans", sans-serif' font-size="5.8" font-weight="bold" text-anchor="middle" fill="#000" transform="translate(293.4,95.5) rotate(-90)">ROI</text><path d="M305.4 101.9h0.9v0.9h-0.9zM305.4 102.7h0.9v0.9h-0.9zM305.4 106.0h0.9v0.9h-0.9zM305.4 117.6h0.9v0.9h-0.9zM306.2 94.4h0.9v0.9h-0.9zM306.2 100.2h0.9v0.9h-0.9zM306.2 101.0h0.9v0.9h-0.9zM307.0 103.5h0.9v0.9h-0.9zM307.9 72.9h0.9v0.9h-0.9zM307.9 93.6h0.9v0.9h-0.9zM307.9 96.9h0.9v0.9h-0.9zM307.9 99.4h0.9v0.9h-0.9zM307.9 106.8h0.9v0.9h-0.9zM307.9 120.0h0.9v0.9h-0.9zM307.9 120.9h0.9v0.9h-0.9zM307.9 122.5h0.9v0.9h-0.9zM308.7 93.6h0.9v0.9h-0.9zM308.7 101.9h0.9v0.9h-0.9zM308.7 108.5h0.9v0.9h-0.9zM308.7 110.1h0.9v0.9h-0.9zM308.7 117.6h0.9v0.9h-0.9zM308.7 118.4h0.9v0.9h-0.9zM309.5 82.0h0.9v0.9h-0.9zM309.5 92.8h0.9v0.9h-0.9zM309.5 93.6h0.9v0.9h-0.9zM310.3 83.7h0.9v0.9h-0.9zM310.3 86.2h0.9v0.9h-0.9zM310.3 94.4h0.9v0.9h-0.9zM310.3 98.6h0.9v0.9h-0.9zM310.3 101.9h0.9v0.9h-0.9zM310.3 110.1h0.9v0.9h-0.9zM310.3 113.4h0.9v0.9h-0.9zM310.3 115.9h0.9v0.9h-0.9zM310.3 116.7h0.9v0.9h-0.9zM311.2 75.4h0.9v0.9h-0.9zM312.0 93.6h0.9v0.9h-0.9zM312.0 117.6h0.9v0.9h-0.9zM312.0 121.7h0.9v0.9h-0.9zM312.8 91.1h0.9v0.9h-0.9zM312.8 98.6h0.9v0.9h-0.9zM312.8 102.7h0.9v0.9h-0.9zM312.8 112.6h0.9v0.9h-0.9zM312.8 113.4h0.9v0.9h-0.9zM313.6 77.1h0.9v0.9h-0.9zM313.6 92.8h0.9v0.9h-0.9zM313.6 93.6h0.9v0.9h-0.9zM313.6 97.7h0.9v0.9h-0.9zM313.6 101.0h0.9v0.9h-0.9zM313.6 101.9h0.9v0.9h-0.9zM313.6 102.7h0.9v0.9h-0.9zM313.6 104.3h0.9v0.9h-0.9zM313.6 112.6h0.9v0.9h-0.9zM313.6 119.2h0.9v0.9h-0.9zM313.6 123.3h0.9v0.9h-0.9zM314.5 92.8h0.9v0.9h-0.9zM315.3 73.8h0.9v0.9h-0.9zM315.3 77.9h0.9v0.9h-0.9zM315.3 93.6h0.9v0.9h-0.9zM315.3 96.9h0.9v0.9h-0.9zM315.3 110.1h0.9v0.9h-0.9zM315.3 117.6h0.9v0.9h-0.9zM315.3 119.2h0.9v0.9h-0.9zM316.1 89.5h0.9v0.9h-0.9zM316.9 73.8h0.9v0.9h-0.9zM316.9 91.1h0.9v0.9h-0.9zM316.9 99.4h0.9v0.9h-0.9zM316.9 101.9h0.9v0.9h-0.9zM316.9 104.3h0.9v0.9h-0.9zM316.9 107.6h0.9v0.9h-0.9zM316.9 119.2h0.9v0.9h-0.9zM317.8 77.1h0.9v0.9h-0.9zM317.8 84.5h0.9v0.9h-0.9zM317.8 87.0h0.9v0.9h-0.9zM317.8 90.3h0.9v0.9h-0.9zM317.8 94.4h0.9v0.9h-0.9zM317.8 97.7h0.9v0.9h-0.9zM317.8 101.9h0.9v0.9h-0.9zM317.8 109.3h0.9v0.9h-0.9zM317.8 113.4h0.9v0.9h-0.9zM318.6 68.0h0.9v0.9h-0.9zM318.6 69.6h0.9v0.9h-0.9zM318.6 72.1h0.9v0.9h-0.9zM318.6 77.9h0.9v0.9h-0.9zM318.6 79.5h0.9v0.9h-0.9zM318.6 93.6h0.9v0.9h-0.9zM318.6 95.2h0.9v0.9h-0.9zM318.6 96.9h0.9v0.9h-0.9zM318.6 102.7h0.9v0.9h-0.9zM318.6 104.3h0.9v0.9h-0.9zM318.6 108.5h0.9v0.9h-0.9zM318.6 114.3h0.9v0.9h-0.9zM318.6 121.7h0.9v0.9h-0.9zM319.4 77.9h0.9v0.9h-0.9zM319.4 84.5h0.9v0.9h-0.9zM319.4 90.3h0.9v0.9h-0.9zM319.4 95.2h0.9v0.9h-0.9zM319.4 101.0h0.9v0.9h-0.9zM319.4 103.5h0.9v0.9h-0.9zM319.4 105.2h0.9v0.9h-0.9zM319.4 106.8h0.9v0.9h-0.9zM319.4 114.3h0.9v0.9h-0.9zM319.4 120.0h0.9v0.9h-0.9zM319.4 123.3h0.9v0.9h-0.9zM320.2 68.0h0.9v0.9h-0.9zM320.2 120.9h0.9v0.9h-0.9zM321.1 77.9h0.9v0.9h-0.9zM321.1 90.3h0.9v0.9h-0.9zM321.1 97.7h0.9v0.9h-0.9zM321.1 104.3h0.9v0.9h-0.9zM321.1 109.3h0.9v0.9h-0.9zM321.1 113.4h0.9v0.9h-0.9zM321.1 115.1h0.9v0.9h-0.9zM321.9 78.7h0.9v0.9h-0.9zM321.9 82.9h0.9v0.9h-0.9zM321.9 87.0h0.9v0.9h-0.9zM321.9 91.9h0.9v0.9h-0.9zM322.7 74.6h0.9v0.9h-0.9zM322.7 77.1h0.9v0.9h-0.9zM322.7 84.5h0.9v0.9h-0.9zM322.7 87.0h0.9v0.9h-0.9zM322.7 88.6h0.9v0.9h-0.9zM322.7 89.5h0.9v0.9h-0.9zM322.7 92.8h0.9v0.9h-0.9zM322.7 94.4h0.9v0.9h-0.9zM322.7 101.0h0.9v0.9h-0.9zM322.7 104.3h0.9v0.9h-0.9zM322.7 105.2h0.9v0.9h-0.9zM322.7 111.8h0.9v0.9h-0.9zM322.7 112.6h0.9v0.9h-0.9zM322.7 124.2h0.9v0.9h-0.9zM323.5 72.1h0.9v0.9h-0.9zM323.5 115.9h0.9v0.9h-0.9zM323.5 116.7h0.9v0.9h-0.9zM323.5 117.6h0.9v0.9h-0.9zM323.5 122.5h0.9v0.9h-0.9zM324.4 66.3h0.9v0.9h-0.9zM324.4 82.9h0.9v0.9h-0.9zM324.4 123.3h0.9v0.9h-0.9zM325.2 66.3h0.9v0.9h-0.9zM325.2 81.2h0.9v0.9h-0.9zM325.2 84.5h0.9v0.9h-0.9zM325.2 94.4h0.9v0.9h-0.9zM325.2 105.2h0.9v0.9h-0.9zM325.2 118.4h0.9v0.9h-0.9zM326.0 68.0h0.9v0.9h-0.9zM326.0 81.2h0.9v0.9h-0.9zM326.0 108.5h0.9v0.9h-0.9zM326.8 70.5h0.9v0.9h-0.9zM326.8 76.2h0.9v0.9h-0.9zM326.8 77.1h0.9v0.9h-0.9zM326.8 81.2h0.9v0.9h-0.9zM326.8 83.7h0.9v0.9h-0.9zM326.8 86.2h0.9v0.9h-0.9zM326.8 87.8h0.9v0.9h-0.9zM326.8 92.8h0.9v0.9h-0.9zM326.8 98.6h0.9v0.9h-0.9zM326.8 102.7h0.9v0.9h-0.9zM326.8 109.3h0.9v0.9h-0.9zM326.8 111.0h0.9v0.9h-0.9zM326.8 115.9h0.9v0.9h-0.9zM326.8 116.7h0.9v0.9h-0.9zM326.8 118.4h0.9v0.9h-0.9zM326.8 121.7h0.9v0.9h-0.9zM327.6 67.2h0.9v0.9h-0.9zM327.6 68.8h0.9v0.9h-0.9zM327.6 71.3h0.9v0.9h-0.9zM327.6 74.6h0.9v0.9h-0.9zM327.6 77.9h0.9v0.9h-0.9zM327.6 82.9h0.9v0.9h-0.9zM327.6 87.8h0.9v0.9h-0.9zM327.6 96.9h0.9v0.9h-0.9zM327.6 106.8h0.9v0.9h-0.9zM327.6 120.0h0.9v0.9h-0.9zM328.5 66.3h0.9v0.9h-0.9zM328.5 75.4h0.9v0.9h-0.9zM328.5 82.0h0.9v0.9h-0.9zM328.5 95.2h0.9v0.9h-0.9zM328.5 101.9h0.9v0.9h-0.9zM328.5 102.7h0.9v0.9h-0.9zM328.5 105.2h0.9v0.9h-0.9zM328.5 120.0h0.9v0.9h-0.9zM328.5 120.9h0.9v0.9h-0.9zM329.3 115.1h0.9v0.9h-0.9zM330.1 74.6h0.9v0.9h-0.9zM330.1 77.9h0.9v0.9h-0.9zM330.1 82.9h0.9v0.9h-0.9zM330.1 90.3h0.9v0.9h-0.9zM330.1 103.5h0.9v0.9h-0.9zM330.9 72.9h0.9v0.9h-0.9zM330.9 74.6h0.9v0.9h-0.9zM330.9 87.0h0.9v0.9h-0.9zM330.9 90.3h0.9v0.9h-0.9zM330.9 93.6h0.9v0.9h-0.9zM330.9 97.7h0.9v0.9h-0.9zM330.9 98.6h0.9v0.9h-0.9zM330.9 99.4h0.9v0.9h-0.9zM330.9 100.2h0.9v0.9h-0.9zM330.9 101.9h0.9v0.9h-0.9zM330.9 103.5h0.9v0.9h-0.9zM330.9 104.3h0.9v0.9h-0.9zM330.9 105.2h0.9v0.9h-0.9zM330.9 106.0h0.9v0.9h-0.9zM330.9 109.3h0.9v0.9h-0.9zM330.9 117.6h0.9v0.9h-0.9zM331.8 96.9h0.9v0.9h-0.9zM331.8 107.6h0.9v0.9h-0.9zM331.8 120.9h0.9v0.9h-0.9zM332.6 70.5h0.9v0.9h-0.9zM332.6 84.5h0.9v0.9h-0.9zM332.6 87.8h0.9v0.9h-0.9zM332.6 90.3h0.9v0.9h-0.9zM332.6 91.1h0.9v0.9h-0.9zM332.6 93.6h0.9v0.9h-0.9zM332.6 94.4h0.9v0.9h-0.9zM332.6 96.9h0.9v0.9h-0.9zM332.6 99.4h0.9v0.9h-0.9zM332.6 100.2h0.9v0.9h-0.9zM332.6 106.0h0.9v0.9h-0.9zM332.6 113.4h0.9v0.9h-0.9zM332.6 122.5h0.9v0.9h-0.9zM332.6 123.3h0.9v0.9h-0.9zM333.4 79.5h0.9v0.9h-0.9zM333.4 98.6h0.9v0.9h-0.9zM333.4 105.2h0.9v0.9h-0.9zM334.2 77.9h0.9v0.9h-0.9zM334.2 124.2h0.9v0.9h-0.9zM335.1 74.6h0.9v0.9h-0.9zM335.1 77.9h0.9v0.9h-0.9zM335.1 88.6h0.9v0.9h-0.9zM335.1 121.7h0.9v0.9h-0.9zM335.9 82.0h0.9v0.9h-0.9zM335.9 108.5h0.9v0.9h-0.9zM335.9 117.6h0.9v0.9h-0.9zM336.7 78.7h0.9v0.9h-0.9zM337.5 76.2h0.9v0.9h-0.9zM337.5 77.1h0.9v0.9h-0.9zM337.5 102.7h0.9v0.9h-0.9zM337.5 114.3h0.9v0.9h-0.9zM338.4 84.5h0.9v0.9h-0.9zM338.4 85.3h0.9v0.9h-0.9zM338.4 86.2h0.9v0.9h-0.9zM338.4 93.6h0.9v0.9h-0.9zM338.4 97.7h0.9v0.9h-0.9zM338.4 98.6h0.9v0.9h-0.9zM338.4 111.0h0.9v0.9h-0.9zM338.4 119.2h0.9v0.9h-0.9zM338.4 120.9h0.9v0.9h-0.9zM338.4 123.3h0.9v0.9h-0.9zM339.2 80.4h0.9v0.9h-0.9zM339.2 113.4h0.9v0.9h-0.9zM339.2 118.4h0.9v0.9h-0.9zM340.0 84.5h0.9v0.9h-0.9zM340.0 91.1h0.9v0.9h-0.9zM340.0 91.9h0.9v0.9h-0.9zM340.0 111.8h0.9v0.9h-0.9zM340.0 115.1h0.9v0.9h-0.9zM340.8 67.2h0.9v0.9h-0.9zM340.8 115.1h0.9v0.9h-0.9zM340.8 123.3h0.9v0.9h-0.9zM341.7 65.5h0.9v0.9h-0.9zM341.7 72.9h0.9v0.9h-0.9zM341.7 93.6h0.9v0.9h-0.9zM341.7 99.4h0.9v0.9h-0.9zM341.7 111.0h0.9v0.9h-0.9zM342.5 77.9h0.9v0.9h-0.9zM342.5 79.5h0.9v0.9h-0.9zM342.5 96.9h0.9v0.9h-0.9zM343.3 90.3h0.9v0.9h-0.9zM343.3 111.8h0.9v0.9h-0.9zM343.3 116.7h0.9v0.9h-0.9zM344.1 67.2h0.9v0.9h-0.9zM344.1 72.1h0.9v0.9h-0.9zM344.1 78.7h0.9v0.9h-0.9zM344.1 114.3h0.9v0.9h-0.9zM345.0 73.8h0.9v0.9h-0.9zM345.0 82.0h0.9v0.9h-0.9zM345.0 91.1h0.9v0.9h-0.9zM345.0 97.7h0.9v0.9h-0.9zM345.0 98.6h0.9v0.9h-0.9zM345.0 102.7h0.9v0.9h-0.9zM345.8 72.9h0.9v0.9h-0.9zM345.8 82.0h0.9v0.9h-0.9zM345.8 87.0h0.9v0.9h-0.9zM345.8 94.4h0.9v0.9h-0.9zM345.8 96.9h0.9v0.9h-0.9zM345.8 99.4h0.9v0.9h-0.9zM345.8 101.9h0.9v0.9h-0.9zM345.8 109.3h0.9v0.9h-0.9zM345.8 110.1h0.9v0.9h-0.9zM345.8 114.3h0.9v0.9h-0.9zM345.8 118.4h0.9v0.9h-0.9zM345.8 120.9h0.9v0.9h-0.9zM345.8 124.2h0.9v0.9h-0.9zM346.6 65.5h0.9v0.9h-0.9zM346.6 69.6h0.9v0.9h-0.9zM346.6 70.5h0.9v0.9h-0.9zM346.6 72.1h0.9v0.9h-0.9zM346.6 84.5h0.9v0.9h-0.9zM346.6 92.8h0.9v0.9h-0.9zM346.6 103.5h0.9v0.9h-0.9zM346.6 114.3h0.9v0.9h-0.9zM346.6 116.7h0.9v0.9h-0.9zM346.6 118.4h0.9v0.9h-0.9zM346.6 121.7h0.9v0.9h-0.9zM347.4 92.8h0.9v0.9h-0.9zM348.2 70.5h0.9v0.9h-0.9zM348.2 115.9h0.9v0.9h-0.9zM349.1 67.2h0.9v0.9h-0.9zM349.1 68.0h0.9v0.9h-0.9zM349.1 72.1h0.9v0.9h-0.9zM349.1 72.9h0.9v0.9h-0.9zM349.1 82.0h0.9v0.9h-0.9zM349.1 82.9h0.9v0.9h-0.9zM349.1 83.7h0.9v0.9h-0.9zM349.1 102.7h0.9v0.9h-0.9zM349.1 105.2h0.9v0.9h-0.9zM349.1 106.0h0.9v0.9h-0.9zM349.1 108.5h0.9v0.9h-0.9zM349.1 114.3h0.9v0.9h-0.9zM349.9 77.9h0.9v0.9h-0.9zM349.9 90.3h0.9v0.9h-0.9zM349.9 99.4h0.9v0.9h-0.9zM349.9 112.6h0.9v0.9h-0.9zM350.7 120.9h0.9v0.9h-0.9zM350.7 121.7h0.9v0.9h-0.9zM351.5 83.7h0.9v0.9h-0.9zM351.5 85.3h0.9v0.9h-0.9zM351.5 90.3h0.9v0.9h-0.9zM351.5 101.9h0.9v0.9h-0.9zM352.4 65.5h0.9v0.9h-0.9zM352.4 67.2h0.9v0.9h-0.9zM352.4 75.4h0.9v0.9h-0.9zM352.4 80.4h0.9v0.9h-0.9zM352.4 84.5h0.9v0.9h-0.9zM352.4 86.2h0.9v0.9h-0.9zM352.4 89.5h0.9v0.9h-0.9zM352.4 91.1h0.9v0.9h-0.9zM352.4 96.9h0.9v0.9h-0.9zM352.4 97.7h0.9v0.9h-0.9zM352.4 105.2h0.9v0.9h-0.9zM352.4 118.4h0.9v0.9h-0.9zM352.4 120.9h0.9v0.9h-0.9zM352.4 122.5h0.9v0.9h-0.9zM353.2 69.6h0.9v0.9h-0.9zM353.2 78.7h0.9v0.9h-0.9zM353.2 82.9h0.9v0.9h-0.9zM353.2 87.0h0.9v0.9h-0.9zM353.2 95.2h0.9v0.9h-0.9zM353.2 101.0h0.9v0.9h-0.9zM353.2 106.8h0.9v0.9h-0.9zM354.0 74.6h0.9v0.9h-0.9zM354.0 87.0h0.9v0.9h-0.9zM354.0 92.8h0.9v0.9h-0.9zM354.0 97.7h0.9v0.9h-0.9zM354.0 99.4h0.9v0.9h-0.9zM354.0 105.2h0.9v0.9h-0.9zM354.0 112.6h0.9v0.9h-0.9zM354.8 77.1h0.9v0.9h-0.9zM354.8 82.9h0.9v0.9h-0.9zM354.8 91.1h0.9v0.9h-0.9zM354.8 94.4h0.9v0.9h-0.9zM355.7 94.4h0.9v0.9h-0.9zM355.7 111.8h0.9v0.9h-0.9zM355.7 120.9h0.9v0.9h-0.9zM355.7 121.7h0.9v0.9h-0.9zM356.5 74.6h0.9v0.9h-0.9zM356.5 96.9h0.9v0.9h-0.9zM357.3 65.5h0.9v0.9h-0.9zM357.3 67.2h0.9v0.9h-0.9zM357.3 70.5h0.9v0.9h-0.9zM357.3 80.4h0.9v0.9h-0.9zM357.3 84.5h0.9v0.9h-0.9zM357.3 86.2h0.9v0.9h-0.9zM357.3 93.6h0.9v0.9h-0.9zM357.3 96.9h0.9v0.9h-0.9zM357.3 101.9h0.9v0.9h-0.9zM357.3 111.8h0.9v0.9h-0.9zM357.3 116.7h0.9v0.9h-0.9zM357.3 120.9h0.9v0.9h-0.9zM357.3 121.7h0.9v0.9h-0.9zM358.1 66.3h0.9v0.9h-0.9zM358.1 69.6h0.9v0.9h-0.9zM358.1 71.3h0.9v0.9h-0.9zM358.1 81.2h0.9v0.9h-0.9zM358.1 86.2h0.9v0.9h-0.9zM358.1 89.5h0.9v0.9h-0.9zM358.1 91.1h0.9v0.9h-0.9zM358.1 97.7h0.9v0.9h-0.9zM358.1 103.5h0.9v0.9h-0.9zM358.1 104.3h0.9v0.9h-0.9zM358.1 106.8h0.9v0.9h-0.9zM358.1 107.6h0.9v0.9h-0.9zM358.1 113.4h0.9v0.9h-0.9zM358.1 119.2h0.9v0.9h-0.9zM358.1 121.7h0.9v0.9h-0.9zM359.0 87.8h0.9v0.9h-0.9zM359.0 97.7h0.9v0.9h-0.9zM359.0 111.0h0.9v0.9h-0.9zM359.0 123.3h0.9v0.9h-0.9zM359.8 65.5h0.9v0.9h-0.9zM359.8 68.8h0.9v0.9h-0.9zM359.8 71.3h0.9v0.9h-0.9zM359.8 73.8h0.9v0.9h-0.9zM359.8 75.4h0.9v0.9h-0.9zM359.8 91.1h0.9v0.9h-0.9zM359.8 94.4h0.9v0.9h-0.9zM359.8 106.0h0.9v0.9h-0.9zM359.8 106.8h0.9v0.9h-0.9zM359.8 107.6h0.9v0.9h-0.9zM359.8 108.5h0.9v0.9h-0.9zM359.8 112.6h0.9v0.9h-0.9zM359.8 114.3h0.9v0.9h-0.9zM359.8 116.7h0.9v0.9h-0.9zM359.8 117.6h0.9v0.9h-0.9zM359.8 120.0h0.9v0.9h-0.9zM359.8 120.9h0.9v0.9h-0.9zM359.8 123.3h0.9v0.9h-0.9zM360.6 71.3h0.9v0.9h-0.9zM360.6 93.6h0.9v0.9h-0.9zM360.6 94.4h0.9v0.9h-0.9zM360.6 102.7h0.9v0.9h-0.9zM360.6 104.3h0.9v0.9h-0.9zM360.6 120.0h0.9v0.9h-0.9zM361.4 67.2h0.9v0.9h-0.9zM361.4 84.5h0.9v0.9h-0.9zM361.4 87.8h0.9v0.9h-0.9zM361.4 93.6h0.9v0.9h-0.9zM361.4 101.0h0.9v0.9h-0.9zM361.4 101.9h0.9v0.9h-0.9zM361.4 106.8h0.9v0.9h-0.9zM361.4 108.5h0.9v0.9h-0.9zM361.4 120.0h0.9v0.9h-0.9zM361.4 120.9h0.9v0.9h-0.9zM362.3 66.3h0.9v0.9h-0.9zM362.3 84.5h0.9v0.9h-0.9zM362.3 97.7h0.9v0.9h-0.9zM362.3 100.2h0.9v0.9h-0.9zM362.3 102.7h0.9v0.9h-0.9zM362.3 105.2h0.9v0.9h-0.9zM362.3 124.2h0.9v0.9h-0.9zM363.1 69.6h0.9v0.9h-0.9zM363.1 82.9h0.9v0.9h-0.9zM363.1 85.3h0.9v0.9h-0.9zM363.1 88.6h0.9v0.9h-0.9zM363.1 90.3h0.9v0.9h-0.9zM363.1 93.6h0.9v0.9h-0.9zM363.1 97.7h0.9v0.9h-0.9zM363.1 109.3h0.9v0.9h-0.9zM363.9 65.5h0.9v0.9h-0.9zM363.9 78.7h0.9v0.9h-0.9zM363.9 86.2h0.9v0.9h-0.9zM363.9 115.1h0.9v0.9h-0.9zM364.7 87.0h0.9v0.9h-0.9zM364.7 90.3h0.9v0.9h-0.9zM365.6 69.6h0.9v0.9h-0.9zM365.6 80.4h0.9v0.9h-0.9zM365.6 83.7h0.9v0.9h-0.9zM365.6 86.2h0.9v0.9h-0.9zM365.6 92.8h0.9v0.9h-0.9zM365.6 95.2h0.9v0.9h-0.9zM365.6 96.9h0.9v0.9h-0.9zM365.6 103.5h0.9v0.9h-0.9zM365.6 110.1h0.9v0.9h-0.9zM365.6 115.1h0.9v0.9h-0.9zM365.6 120.0h0.9v0.9h-0.9zM365.6 123.3h0.9v0.9h-0.9zM366.4 73.8h0.9v0.9h-0.9zM366.4 78.7h0.9v0.9h-0.9zM366.4 94.4h0.9v0.9h-0.9zM366.4 108.5h0.9v0.9h-0.9zM366.4 111.0h0.9v0.9h-0.9zM366.4 115.1h0.9v0.9h-0.9zM367.2 77.9h0.9v0.9h-0.9zM367.2 115.9h0.9v0.9h-0.9zM368.0 82.9h0.9v0.9h-0.9zM368.0 111.8h0.9v0.9h-0.9zM368.8 85.3h0.9v0.9h-0.9zM368.8 90.3h0.9v0.9h-0.9zM368.8 101.0h0.9v0.9h-0.9zM369.7 65.5h0.9v0.9h-0.9zM369.7 72.9h0.9v0.9h-0.9zM369.7 79.5h0.9v0.9h-0.9zM369.7 81.2h0.9v0.9h-0.9zM369.7 82.9h0.9v0.9h-0.9zM369.7 88.6h0.9v0.9h-0.9zM369.7 92.8h0.9v0.9h-0.9zM369.7 96.9h0.9v0.9h-0.9zM369.7 100.2h0.9v0.9h-0.9zM369.7 104.3h0.9v0.9h-0.9zM369.7 111.8h0.9v0.9h-0.9zM369.7 120.9h0.9v0.9h-0.9zM370.5 68.0h0.9v0.9h-0.9zM370.5 105.2h0.9v0.9h-0.9zM370.5 106.0h0.9v0.9h-0.9zM370.5 114.3h0.9v0.9h-0.9zM370.5 117.6h0.9v0.9h-0.9zM370.5 120.9h0.9v0.9h-0.9zM371.3 86.2h0.9v0.9h-0.9zM372.1 70.5h0.9v0.9h-0.9zM372.1 72.9h0.9v0.9h-0.9zM372.1 80.4h0.9v0.9h-0.9zM372.1 101.0h0.9v0.9h-0.9zM372.1 104.3h0.9v0.9h-0.9zM372.1 111.0h0.9v0.9h-0.9zM372.1 122.5h0.9v0.9h-0.9zM373.0 72.1h0.9v0.9h-0.9zM373.0 90.3h0.9v0.9h-0.9zM373.0 92.8h0.9v0.9h-0.9zM373.0 94.4h0.9v0.9h-0.9zM373.0 105.2h0.9v0.9h-0.9zM373.0 108.5h0.9v0.9h-0.9zM373.0 121.7h0.9v0.9h-0.9zM373.8 65.5h0.9v0.9h-0.9zM373.8 79.5h0.9v0.9h-0.9zM373.8 102.7h0.9v0.9h-0.9zM373.8 123.3h0.9v0.9h-0.9zM374.6 76.2h0.9v0.9h-0.9zM374.6 77.9h0.9v0.9h-0.9zM374.6 79.5h0.9v0.9h-0.9zM374.6 80.4h0.9v0.9h-0.9zM374.6 94.4h0.9v0.9h-0.9zM374.6 96.9h0.9v0.9h-0.9zM374.6 101.0h0.9v0.9h-0.9zM374.6 107.6h0.9v0.9h-0.9zM374.6 111.8h0.9v0.9h-0.9zM374.6 121.7h0.9v0.9h-0.9zM374.6 124.2h0.9v0.9h-0.9zM375.4 68.0h0.9v0.9h-0.9zM375.4 76.2h0.9v0.9h-0.9zM375.4 78.7h0.9v0.9h-0.9zM375.4 80.4h0.9v0.9h-0.9zM375.4 85.3h0.9v0.9h-0.9zM375.4 86.2h0.9v0.9h-0.9zM375.4 87.0h0.9v0.9h-0.9zM375.4 91.9h0.9v0.9h-0.9zM375.4 101.0h0.9v0.9h-0.9zM376.3 70.5h0.9v0.9h-0.9zM376.3 77.1h0.9v0.9h-0.9zM376.3 87.8h0.9v0.9h-0.9zM376.3 102.7h0.9v0.9h-0.9zM376.3 120.9h0.9v0.9h-0.9zM377.1 66.3h0.9v0.9h-0.9zM377.1 67.2h0.9v0.9h-0.9zM377.1 84.5h0.9v0.9h-0.9zM377.1 92.8h0.9v0.9h-0.9zM377.1 97.7h0.9v0.9h-0.9zM377.1 110.1h0.9v0.9h-0.9zM377.1 119.2h0.9v0.9h-0.9zM377.1 124.2h0.9v0.9h-0.9zM377.9 88.6h0.9v0.9h-0.9zM377.9 107.6h0.9v0.9h-0.9zM377.9 123.3h0.9v0.9h-0.9zM378.7 68.0h0.9v0.9h-0.9zM379.6 70.5h0.9v0.9h-0.9zM379.6 90.3h0.9v0.9h-0.9zM379.6 96.1h0.9v0.9h-0.9zM379.6 101.0h0.9v0.9h-0.9zM379.6 101.9h0.9v0.9h-0.9zM379.6 103.5h0.9v0.9h-0.9zM379.6 110.1h0.9v0.9h-0.9zM379.6 115.9h0.9v0.9h-0.9zM380.4 67.2h0.9v0.9h-0.9zM380.4 79.5h0.9v0.9h-0.9zM380.4 85.3h0.9v0.9h-0.9zM380.4 90.3h0.9v0.9h-0.9zM380.4 103.5h0.9v0.9h-0.9zM380.4 106.0h0.9v0.9h-0.9zM380.4 108.5h0.9v0.9h-0.9zM380.4 111.0h0.9v0.9h-0.9zM380.4 115.1h0.9v0.9h-0.9zM380.4 117.6h0.9v0.9h-0.9zM381.2 100.2h0.9v0.9h-0.9zM381.2 114.3h0.9v0.9h-0.9zM382.0 100.2h0.9v0.9h-0.9zM382.0 110.1h0.9v0.9h-0.9zM382.0 111.8h0.9v0.9h-0.9zM382.0 118.4h0.9v0.9h-0.9zM382.9 111.0h0.9v0.9h-0.9zM383.7 67.2h0.9v0.9h-0.9zM383.7 68.8h0.9v0.9h-0.9zM383.7 73.8h0.9v0.9h-0.9zM383.7 75.4h0.9v0.9h-0.9zM383.7 76.2h0.9v0.9h-0.9zM383.7 77.9h0.9v0.9h-0.9zM383.7 84.5h0.9v0.9h-0.9zM383.7 89.5h0.9v0.9h-0.9zM383.7 90.3h0.9v0.9h-0.9zM383.7 95.2h0.9v0.9h-0.9zM383.7 97.7h0.9v0.9h-0.9zM383.7 109.3h0.9v0.9h-0.9zM383.7 111.0h0.9v0.9h-0.9zM384.5 72.9h0.9v0.9h-0.9zM384.5 74.6h0.9v0.9h-0.9zM384.5 94.4h0.9v0.9h-0.9zM384.5 96.1h0.9v0.9h-0.9zM384.5 114.3h0.9v0.9h-0.9zM384.5 115.9h0.9v0.9h-0.9zM384.5 116.7h0.9v0.9h-0.9zM385.3 76.2h0.9v0.9h-0.9zM385.3 80.4h0.9v0.9h-0.9zM385.3 118.4h0.9v0.9h-0.9zM386.2 65.5h0.9v0.9h-0.9zM386.2 72.1h0.9v0.9h-0.9zM386.2 94.4h0.9v0.9h-0.9zM386.2 104.3h0.9v0.9h-0.9zM386.2 124.2h0.9v0.9h-0.9zM387.0 72.9h0.9v0.9h-0.9zM387.0 88.6h0.9v0.9h-0.9zM387.0 89.5h0.9v0.9h-0.9zM387.0 100.2h0.9v0.9h-0.9z" fill="#0072bd"/><path d="M305.4 96.9h0.9v0.9h-0.9zM305.4 115.9h0.9v0.9h-0.9zM307.0 82.0h0.9v0.9h-0.9zM307.9 96.1h0.9v0.9h-0.9zM307.9 97.7h0.9v0.9h-0.9zM307.9 101.0h0.9v0.9h-0.9zM307.9 112.6h0.9v0.9h-0.9zM308.7 65.5h0.9v0.9h-0.9zM308.7 75.4h0.9v0.9h-0.9zM308.7 83.7h0.9v0.9h-0.9zM308.7 94.4h0.9v0.9h-0.9zM308.7 96.9h0.9v0.9h-0.9zM308.7 99.4h0.9v0.9h-0.9zM308.7 107.6h0.9v0.9h-0.9zM308.7 120.9h0.9v0.9h-0.9zM309.5 115.1h0.9v0.9h-0.9zM310.3 68.8h0.9v0.9h-0.9zM310.3 77.1h0.9v0.9h-0.9zM310.3 89.5h0.9v0.9h-0.9zM310.3 93.6h0.9v0.9h-0.9zM310.3 101.0h0.9v0.9h-0.9zM310.3 102.7h0.9v0.9h-0.9zM310.3 103.5h0.9v0.9h-0.9zM310.3 104.3h0.9v0.9h-0.9zM310.3 122.5h0.9v0.9h-0.9zM311.2 92.8h0.9v0.9h-0.9zM311.2 102.7h0.9v0.9h-0.9zM312.0 74.6h0.9v0.9h-0.9zM312.0 87.0h0.9v0.9h-0.9zM312.0 95.2h0.9v0.9h-0.9zM312.0 100.2h0.9v0.9h-0.9zM312.8 99.4h0.9v0.9h-0.9zM313.6 96.9h0.9v0.9h-0.9zM313.6 120.9h0.9v0.9h-0.9zM313.6 124.2h0.9v0.9h-0.9zM314.5 116.7h0.9v0.9h-0.9zM315.3 70.5h0.9v0.9h-0.9zM315.3 103.5h0.9v0.9h-0.9zM315.3 107.6h0.9v0.9h-0.9zM315.3 108.5h0.9v0.9h-0.9zM315.3 112.6h0.9v0.9h-0.9zM315.3 120.9h0.9v0.9h-0.9zM315.3 124.2h0.9v0.9h-0.9zM316.1 96.9h0.9v0.9h-0.9zM316.1 102.7h0.9v0.9h-0.9zM316.1 120.0h0.9v0.9h-0.9zM316.9 67.2h0.9v0.9h-0.9zM316.9 93.6h0.9v0.9h-0.9zM316.9 96.1h0.9v0.9h-0.9zM316.9 121.7h0.9v0.9h-0.9zM317.8 68.8h0.9v0.9h-0.9zM317.8 85.3h0.9v0.9h-0.9zM317.8 88.6h0.9v0.9h-0.9zM317.8 98.6h0.9v0.9h-0.9zM318.6 71.3h0.9v0.9h-0.9zM318.6 82.0h0.9v0.9h-0.9zM318.6 84.5h0.9v0.9h-0.9zM318.6 92.8h0.9v0.9h-0.9zM318.6 98.6h0.9v0.9h-0.9zM319.4 66.3h0.9v0.9h-0.9zM319.4 70.5h0.9v0.9h-0.9zM319.4 82.9h0.9v0.9h-0.9zM319.4 93.6h0.9v0.9h-0.9zM319.4 97.7h0.9v0.9h-0.9zM319.4 98.6h0.9v0.9h-0.9zM319.4 121.7h0.9v0.9h-0.9zM321.1 67.2h0.9v0.9h-0.9zM321.1 69.6h0.9v0.9h-0.9zM321.1 72.9h0.9v0.9h-0.9zM321.1 74.6h0.9v0.9h-0.9zM321.1 76.2h0.9v0.9h-0.9zM321.1 83.7h0.9v0.9h-0.9zM321.1 91.9h0.9v0.9h-0.9zM321.1 92.8h0.9v0.9h-0.9zM321.1 96.9h0.9v0.9h-0.9zM321.1 102.7h0.9v0.9h-0.9zM321.9 92.8h0.9v0.9h-0.9zM322.7 66.3h0.9v0.9h-0.9zM323.5 108.5h0.9v0.9h-0.9zM324.4 93.6h0.9v0.9h-0.9zM324.4 99.4h0.9v0.9h-0.9zM325.2 79.5h0.9v0.9h-0.9zM325.2 98.6h0.9v0.9h-0.9zM326.0 68.8h0.9v0.9h-0.9zM326.0 105.2h0.9v0.9h-0.9zM326.0 123.3h0.9v0.9h-0.9zM326.8 67.2h0.9v0.9h-0.9zM326.8 80.4h0.9v0.9h-0.9zM326.8 101.9h0.9v0.9h-0.9zM326.8 120.9h0.9v0.9h-0.9zM327.6 77.1h0.9v0.9h-0.9zM327.6 89.5h0.9v0.9h-0.9zM327.6 91.1h0.9v0.9h-0.9zM327.6 93.6h0.9v0.9h-0.9zM327.6 101.0h0.9v0.9h-0.9zM327.6 107.6h0.9v0.9h-0.9zM327.6 109.3h0.9v0.9h-0.9zM328.5 74.6h0.9v0.9h-0.9zM328.5 76.2h0.9v0.9h-0.9zM328.5 84.5h0.9v0.9h-0.9zM328.5 106.0h0.9v0.9h-0.9zM330.1 72.1h0.9v0.9h-0.9zM330.1 78.7h0.9v0.9h-0.9zM330.1 97.7h0.9v0.9h-0.9zM330.1 111.8h0.9v0.9h-0.9zM330.1 114.3h0.9v0.9h-0.9zM330.1 115.1h0.9v0.9h-0.9zM330.1 116.7h0.9v0.9h-0.9zM330.9 66.3h0.9v0.9h-0.9zM330.9 71.3h0.9v0.9h-0.9zM330.9 73.8h0.9v0.9h-0.9zM330.9 83.7h0.9v0.9h-0.9zM330.9 91.9h0.9v0.9h-0.9zM330.9 95.2h0.9v0.9h-0.9zM330.9 96.9h0.9v0.9h-0.9zM330.9 102.7h0.9v0.9h-0.9zM330.9 110.1h0.9v0.9h-0.9zM330.9 113.4h0.9v0.9h-0.9zM332.6 72.9h0.9v0.9h-0.9zM332.6 76.2h0.9v0.9h-0.9zM332.6 82.9h0.9v0.9h-0.9zM332.6 101.0h0.9v0.9h-0.9zM332.6 105.2h0.9v0.9h-0.9zM332.6 111.8h0.9v0.9h-0.9zM332.6 117.6h0.9v0.9h-0.9zM333.4 77.9h0.9v0.9h-0.9zM333.4 117.6h0.9v0.9h-0.9zM333.4 120.9h0.9v0.9h-0.9zM334.2 65.5h0.9v0.9h-0.9zM334.2 92.8h0.9v0.9h-0.9zM335.1 68.0h0.9v0.9h-0.9zM335.1 68.8h0.9v0.9h-0.9zM335.1 94.4h0.9v0.9h-0.9zM335.9 94.4h0.9v0.9h-0.9zM335.9 101.0h0.9v0.9h-0.9zM337.5 71.3h0.9v0.9h-0.9zM338.4 79.5h0.9v0.9h-0.9zM338.4 92.8h0.9v0.9h-0.9zM338.4 100.2h0.9v0.9h-0.9zM338.4 102.7h0.9v0.9h-0.9zM338.4 118.4h0.9v0.9h-0.9zM338.4 120.0h0.9v0.9h-0.9zM339.2 93.6h0.9v0.9h-0.9zM339.2 97.7h0.9v0.9h-0.9zM339.2 122.5h0.9v0.9h-0.9zM340.0 81.2h0.9v0.9h-0.9zM340.0 119.2h0.9v0.9h-0.9zM340.8 101.9h0.9v0.9h-0.9zM341.7 116.7h0.9v0.9h-0.9zM342.5 94.4h0.9v0.9h-0.9zM342.5 95.2h0.9v0.9h-0.9zM342.5 116.7h0.9v0.9h-0.9zM342.5 123.3h0.9v0.9h-0.9zM343.3 117.6h0.9v0.9h-0.9zM344.1 99.4h0.9v0.9h-0.9zM344.1 120.9h0.9v0.9h-0.9zM345.0 95.2h0.9v0.9h-0.9zM345.0 106.0h0.9v0.9h-0.9zM345.0 111.0h0.9v0.9h-0.9zM345.0 112.6h0.9v0.9h-0.9zM345.0 120.9h0.9v0.9h-0.9zM345.8 87.8h0.9v0.9h-0.9zM345.8 88.6h0.9v0.9h-0.9zM345.8 92.8h0.9v0.9h-0.9zM345.8 101.0h0.9v0.9h-0.9zM345.8 103.5h0.9v0.9h-0.9zM345.8 111.8h0.9v0.9h-0.9zM345.8 120.0h0.9v0.9h-0.9zM346.6 73.8h0.9v0.9h-0.9zM346.6 79.5h0.9v0.9h-0.9zM346.6 87.8h0.9v0.9h-0.9zM346.6 93.6h0.9v0.9h-0.9zM346.6 108.5h0.9v0.9h-0.9zM346.6 115.9h0.9v0.9h-0.9zM346.6 119.2h0.9v0.9h-0.9zM346.6 124.2h0.9v0.9h-0.9zM347.4 78.7h0.9v0.9h-0.9zM347.4 101.9h0.9v0.9h-0.9zM347.4 103.5h0.9v0.9h-0.9zM348.2 88.6h0.9v0.9h-0.9zM348.2 97.7h0.9v0.9h-0.9zM348.2 106.8h0.9v0.9h-0.9zM348.2 119.2h0.9v0.9h-0.9zM349.1 69.6h0.9v0.9h-0.9zM349.1 77.9h0.9v0.9h-0.9zM349.1 91.9h0.9v0.9h-0.9zM349.1 98.6h0.9v0.9h-0.9zM349.1 110.1h0.9v0.9h-0.9zM349.1 111.0h0.9v0.9h-0.9zM349.1 118.4h0.9v0.9h-0.9zM349.9 111.0h0.9v0.9h-0.9zM350.7 87.8h0.9v0.9h-0.9zM350.7 104.3h0.9v0.9h-0.9zM350.7 105.2h0.9v0.9h-0.9zM351.5 103.5h0.9v0.9h-0.9zM352.4 72.1h0.9v0.9h-0.9zM352.4 87.0h0.9v0.9h-0.9zM352.4 92.8h0.9v0.9h-0.9zM352.4 96.1h0.9v0.9h-0.9zM352.4 102.7h0.9v0.9h-0.9zM352.4 103.5h0.9v0.9h-0.9zM352.4 104.3h0.9v0.9h-0.9zM352.4 123.3h0.9v0.9h-0.9zM353.2 86.2h0.9v0.9h-0.9zM353.2 98.6h0.9v0.9h-0.9zM354.8 97.7h0.9v0.9h-0.9zM355.7 77.9h0.9v0.9h-0.9zM356.5 72.1h0.9v0.9h-0.9zM356.5 104.3h0.9v0.9h-0.9zM356.5 107.6h0.9v0.9h-0.9zM356.5 108.5h0.9v0.9h-0.9zM357.3 81.2h0.9v0.9h-0.9zM357.3 82.0h0.9v0.9h-0.9zM357.3 92.8h0.9v0.9h-0.9zM357.3 99.4h0.9v0.9h-0.9zM357.3 122.5h0.9v0.9h-0.9zM358.1 72.1h0.9v0.9h-0.9zM358.1 77.9h0.9v0.9h-0.9zM358.1 85.3h0.9v0.9h-0.9zM358.1 91.9h0.9v0.9h-0.9zM358.1 95.2h0.9v0.9h-0.9zM358.1 96.1h0.9v0.9h-0.9zM358.1 100.2h0.9v0.9h-0.9zM358.1 110.1h0.9v0.9h-0.9zM359.8 69.6h0.9v0.9h-0.9zM359.8 87.0h0.9v0.9h-0.9zM359.8 89.5h0.9v0.9h-0.9zM359.8 93.6h0.9v0.9h-0.9zM359.8 101.9h0.9v0.9h-0.9zM360.6 68.0h0.9v0.9h-0.9zM360.6 99.4h0.9v0.9h-0.9zM361.4 66.3h0.9v0.9h-0.9zM361.4 73.8h0.9v0.9h-0.9zM361.4 77.9h0.9v0.9h-0.9zM361.4 87.0h0.9v0.9h-0.9zM361.4 96.9h0.9v0.9h-0.9zM361.4 103.5h0.9v0.9h-0.9zM361.4 109.3h0.9v0.9h-0.9zM361.4 121.7h0.9v0.9h-0.9zM362.3 90.3h0.9v0.9h-0.9zM362.3 98.6h0.9v0.9h-0.9zM363.1 67.2h0.9v0.9h-0.9zM363.1 68.0h0.9v0.9h-0.9zM363.1 75.4h0.9v0.9h-0.9zM363.1 84.5h0.9v0.9h-0.9zM363.1 111.0h0.9v0.9h-0.9zM363.1 117.6h0.9v0.9h-0.9zM363.1 121.7h0.9v0.9h-0.9zM363.9 92.8h0.9v0.9h-0.9zM363.9 101.0h0.9v0.9h-0.9zM363.9 106.8h0.9v0.9h-0.9zM363.9 107.6h0.9v0.9h-0.9zM364.7 94.4h0.9v0.9h-0.9zM364.7 109.3h0.9v0.9h-0.9zM364.7 111.8h0.9v0.9h-0.9zM365.6 72.1h0.9v0.9h-0.9zM365.6 77.1h0.9v0.9h-0.9zM365.6 82.9h0.9v0.9h-0.9zM365.6 84.5h0.9v0.9h-0.9zM365.6 87.8h0.9v0.9h-0.9zM365.6 89.5h0.9v0.9h-0.9zM365.6 93.6h0.9v0.9h-0.9zM365.6 94.4h0.9v0.9h-0.9zM365.6 112.6h0.9v0.9h-0.9zM365.6 116.7h0.9v0.9h-0.9zM365.6 121.7h0.9v0.9h-0.9zM366.4 104.3h0.9v0.9h-0.9zM367.2 65.5h0.9v0.9h-0.9zM368.0 79.5h0.9v0.9h-0.9zM368.0 87.8h0.9v0.9h-0.9zM368.0 88.6h0.9v0.9h-0.9zM368.0 91.9h0.9v0.9h-0.9zM368.8 67.2h0.9v0.9h-0.9zM368.8 88.6h0.9v0.9h-0.9zM368.8 113.4h0.9v0.9h-0.9zM369.7 71.3h0.9v0.9h-0.9zM369.7 77.9h0.9v0.9h-0.9zM369.7 85.3h0.9v0.9h-0.9zM369.7 86.2h0.9v0.9h-0.9zM369.7 102.7h0.9v0.9h-0.9zM369.7 116.7h0.9v0.9h-0.9zM369.7 124.2h0.9v0.9h-0.9zM370.5 111.8h0.9v0.9h-0.9zM371.3 98.6h0.9v0.9h-0.9zM372.1 74.6h0.9v0.9h-0.9zM372.1 108.5h0.9v0.9h-0.9zM372.1 117.6h0.9v0.9h-0.9zM373.0 79.5h0.9v0.9h-0.9zM373.0 96.1h0.9v0.9h-0.9zM373.0 101.9h0.9v0.9h-0.9zM373.0 112.6h0.9v0.9h-0.9zM373.0 114.3h0.9v0.9h-0.9zM373.0 116.7h0.9v0.9h-0.9zM373.8 70.5h0.9v0.9h-0.9zM373.8 78.7h0.9v0.9h-0.9zM373.8 80.4h0.9v0.9h-0.9zM373.8 115.1h0.9v0.9h-0.9zM373.8 118.4h0.9v0.9h-0.9zM374.6 65.5h0.9v0.9h-0.9zM374.6 71.3h0.9v0.9h-0.9zM374.6 72.1h0.9v0.9h-0.9zM374.6 77.1h0.9v0.9h-0.9zM374.6 86.2h0.9v0.9h-0.9zM374.6 87.0h0.9v0.9h-0.9zM374.6 91.1h0.9v0.9h-0.9zM374.6 99.4h0.9v0.9h-0.9zM375.4 74.6h0.9v0.9h-0.9zM375.4 88.6h0.9v0.9h-0.9zM375.4 96.9h0.9v0.9h-0.9zM375.4 105.2h0.9v0.9h-0.9zM375.4 114.3h0.9v0.9h-0.9zM375.4 124.2h0.9v0.9h-0.9zM376.3 75.4h0.9v0.9h-0.9zM376.3 91.1h0.9v0.9h-0.9zM377.1 65.5h0.9v0.9h-0.9zM377.1 80.4h0.9v0.9h-0.9zM377.1 90.3h0.9v0.9h-0.9zM377.1 91.9h0.9v0.9h-0.9zM377.1 93.6h0.9v0.9h-0.9zM377.1 113.4h0.9v0.9h-0.9zM377.1 115.9h0.9v0.9h-0.9zM378.7 72.9h0.9v0.9h-0.9zM379.6 102.7h0.9v0.9h-0.9zM379.6 112.6h0.9v0.9h-0.9zM379.6 121.7h0.9v0.9h-0.9zM380.4 96.9h0.9v0.9h-0.9zM380.4 101.0h0.9v0.9h-0.9zM380.4 120.0h0.9v0.9h-0.9zM382.0 67.2h0.9v0.9h-0.9zM382.0 69.6h0.9v0.9h-0.9zM383.7 82.0h0.9v0.9h-0.9zM383.7 82.9h0.9v0.9h-0.9zM383.7 83.7h0.9v0.9h-0.9zM383.7 86.2h0.9v0.9h-0.9zM383.7 87.0h0.9v0.9h-0.9zM383.7 102.7h0.9v0.9h-0.9zM383.7 105.2h0.9v0.9h-0.9zM383.7 124.2h0.9v0.9h-0.9zM384.5 87.0h0.9v0.9h-0.9zM384.5 103.5h0.9v0.9h-0.9zM385.3 75.4h0.9v0.9h-0.9zM385.3 77.1h0.9v0.9h-0.9zM385.3 90.3h0.9v0.9h-0.9zM385.3 107.6h0.9v0.9h-0.9zM385.3 112.6h0.9v0.9h-0.9zM385.3 121.7h0.9v0.9h-0.9zM386.2 96.9h0.9v0.9h-0.9zM386.2 101.0h0.9v0.9h-0.9z" fill="#0072bd" opacity="0.45"/><rect x="374.8" y="65.5" width="1.2" height="60.0" fill="#0072bd" opacity="0.7"/><path d="M276.50,57.80 C276.50,45.00 294.70,44.00 295.70,53.80" fill="none" stroke="#2f5597" stroke-width="3.0"/><path d="M292.50,54.40 L300.30,54.40 L297.70,58.20Z" fill="#2f5597"/><path d="M393.50,57.80 C393.50,45.00 412.00,44.00 413.00,53.80" fill="none" stroke="#2f5597" stroke-width="3.0"/><path d="M409.80,54.40 L417.60,54.40 L415.00,58.20Z" fill="#2f5597"/><rect x="414.40" y="75.2" width="9.28" height="41.20" fill="#ffffff" stroke="#666" stroke-width="0.6"/><rect x="423.67" y="75.2" width="9.28" height="41.20" fill="#9dc3e6" stroke="#666" stroke-width="0.6"/><rect x="432.95" y="75.2" width="9.28" height="41.20" fill="#9dc3e6" stroke="#666" stroke-width="0.6"/><rect x="442.23" y="75.2" width="9.28" height="41.20" fill="#9dc3e6" stroke="#666" stroke-width="0.6"/><rect x="451.50" y="75.2" width="9.28" height="41.20" fill="#ffffff" stroke="#666" stroke-width="0.6"/><rect x="460.77" y="75.2" width="9.28" height="41.20" fill="#ffffff" stroke="#666" stroke-width="0.6"/><rect x="470.05" y="75.2" width="9.28" height="41.20" fill="#9dc3e6" stroke="#666" stroke-width="0.6"/><rect x="479.33" y="75.2" width="9.28" height="41.20" fill="#ffffff" stroke="#666" stroke-width="0.6"/><line x1="423.67" y1="75.2" x2="423.67" y2="116.4" stroke="#44546a" stroke-width="0.7"/><line x1="432.95" y1="75.2" x2="432.95" y2="116.4" stroke="#44546a" stroke-width="0.7"/><line x1="442.23" y1="75.2" x2="442.23" y2="116.4" stroke="#44546a" stroke-width="0.7"/><line x1="451.50" y1="75.2" x2="451.50" y2="116.4" stroke="#44546a" stroke-width="0.7"/><line x1="470.05" y1="75.2" x2="470.05" y2="116.4" stroke="#44546a" stroke-width="0.7"/><line x1="479.33" y1="75.2" x2="479.33" y2="116.4" stroke="#44546a" stroke-width="0.7"/><rect x="414.4" y="75.2" width="74.20" height="41.20" fill="none" stroke="#777" stroke-width="0.7"/><circle cx="428.0" cy="87.6" r="1.25" fill="#e00000"/><circle cx="437.1" cy="80.2" r="1.25" fill="#e00000"/><circle cx="437.1" cy="89.8" r="1.25" fill="#e00000"/><circle cx="446.5" cy="91.9" r="1.25" fill="#e00000"/><circle cx="427.8" cy="102.7" r="1.25" fill="#e00000"/><circle cx="437.2" cy="106.7" r="1.25" fill="#e00000"/><circle cx="474.3" cy="101.2" r="1.25" fill="#e00000"/><path d="M414.70,73.90 Q414.70,71.90 415.70,71.90 L418.24,71.90 Q419.04,71.90 419.04,69.10 Q419.04,71.90 419.84,71.90 L422.37,71.90 Q423.37,71.90 423.37,73.90" fill="none" stroke="#444" stroke-width="0.55"/><path d="M423.97,119.60 Q423.97,121.60 424.97,121.60 L436.79,121.60 Q437.59,121.60 437.59,124.40 Q437.59,121.60 438.39,121.60 L450.20,121.60 Q451.20,121.60 451.20,119.60" fill="none" stroke="#444" stroke-width="0.55"/><path d="M470.35,119.60 Q470.35,121.60 471.35,121.60 L473.89,121.60 Q474.69,121.60 474.69,124.40 Q474.69,121.60 475.49,121.60 L478.03,121.60 Q479.03,121.60 479.03,119.60" fill="none" stroke="#444" stroke-width="0.55"/><text x="418.60" y="65.50" font-family='"Liberation Serif", serif' font-size="6.3" font-weight="bold" text-anchor="middle" fill="#000" >TR</text><text x="0.00" y="0.00" font-family='"Liberation Serif", serif' font-size="6.8" font-weight="bold" text-anchor="middle" fill="#000" transform="translate(410.0,95.6) rotate(-90)">ROI</text><text x="425.60" y="132.20" font-family='"Liberation Serif", serif' font-size="5.4" font-weight="bold" text-anchor="start" fill="#000" >Size: 6</text><text x="425.60" y="138.70" font-family='"Liberation Serif", serif' font-size="5.4" font-weight="bold" text-anchor="start" fill="#000" >Lifetime: 3</text><text x="466.00" y="132.20" font-family='"Liberation Serif", serif' font-size="5.4" font-weight="bold" text-anchor="start" fill="#000" >Size: 1</text><text x="466.00" y="138.70" font-family='"Liberation Serif", serif' font-size="5.4" font-weight="bold" text-anchor="start" fill="#000" >Lifetime: 1</text><text x="345.50" y="162.90" font-family='"Liberation Serif", serif' font-size="8.6" font-weight="bold" text-anchor="middle" fill="#000" >Long-range temporal Correlation</text><path d="M213.5,176.0 L213.5,254.6 L318.5,254.6" fill="none" stroke="#333" stroke-width="0.7"/><line x1="213.5" y1="242.77" x2="214.5" y2="242.77" stroke="#333" stroke-width="0.4"/><line x1="213.5" y1="235.85" x2="214.5" y2="235.85" stroke="#333" stroke-width="0.4"/><line x1="213.5" y1="230.94" x2="214.5" y2="230.94" stroke="#333" stroke-width="0.4"/><line x1="213.5" y1="227.13" x2="214.5" y2="227.13" stroke="#333" stroke-width="0.4"/><line x1="213.5" y1="224.02" x2="214.5" y2="224.02" stroke="#333" stroke-width="0.4"/><line x1="213.5" y1="221.39" x2="214.5" y2="221.39" stroke="#333" stroke-width="0.4"/><line x1="213.5" y1="219.11" x2="214.5" y2="219.11" stroke="#333" stroke-width="0.4"/><line x1="213.5" y1="217.10" x2="214.5" y2="217.10" stroke="#333" stroke-width="0.4"/><line x1="213.5" y1="203.47" x2="214.5" y2="203.47" stroke="#333" stroke-width="0.4"/><line x1="213.5" y1="196.55" x2="214.5" y2="196.55" stroke="#333" stroke-width="0.4"/><line x1="213.5" y1="191.64" x2="214.5" y2="191.64" stroke="#333" stroke-width="0.4"/><line x1="213.5" y1="187.83" x2="214.5" y2="187.83" stroke="#333" stroke-width="0.4"/><line x1="213.5" y1="184.72" x2="214.5" y2="184.72" stroke="#333" stroke-width="0.4"/><line x1="213.5" y1="182.09" x2="214.5" y2="182.09" stroke="#333" stroke-width="0.4"/><line x1="213.5" y1="179.81" x2="214.5" y2="179.81" stroke="#333" stroke-width="0.4"/><line x1="213.5" y1="177.80" x2="214.5" y2="177.80" stroke="#333" stroke-width="0.4"/><line x1="224.04" y1="254.6" x2="224.04" y2="253.6" stroke="#333" stroke-width="0.4"/><line x1="230.20" y1="254.6" x2="230.20" y2="253.6" stroke="#333" stroke-width="0.4"/><line x1="234.57" y1="254.6" x2="234.57" y2="253.6" stroke="#333" stroke-width="0.4"/><line x1="237.96" y1="254.6" x2="237.96" y2="253.6" stroke="#333" stroke-width="0.4"/><line x1="240.74" y1="254.6" x2="240.74" y2="253.6" stroke="#333" stroke-width="0.4"/><line x1="243.08" y1="254.6" x2="243.08" y2="253.6" stroke="#333" stroke-width="0.4"/><line x1="245.11" y1="254.6" x2="245.11" y2="253.6" stroke="#333" stroke-width="0.4"/><line x1="246.90" y1="254.6" x2="246.90" y2="253.6" stroke="#333" stroke-width="0.4"/><line x1="259.04" y1="254.6" x2="259.04" y2="253.6" stroke="#333" stroke-width="0.4"/><line x1="265.20" y1="254.6" x2="265.20" y2="253.6" stroke="#333" stroke-width="0.4"/><line x1="269.57" y1="254.6" x2="269.57" y2="253.6" stroke="#333" stroke-width="0.4"/><line x1="272.96" y1="254.6" x2="272.96" y2="253.6" stroke="#333" stroke-width="0.4"/><line x1="275.74" y1="254.6" x2="275.74" y2="253.6" stroke="#333" stroke-width="0.4"/><line x1="278.08" y1="254.6" x2="278.08" y2="253.6" stroke="#333" stroke-width="0.4"/><line x1="280.11" y1="254.6" x2="280.11" y2="253.6" stroke="#333" stroke-width="0.4"/><line x1="281.90" y1="254.6" x2="281.90" y2="253.6" stroke="#333" stroke-width="0.4"/><line x1="294.04" y1="254.6" x2="294.04" y2="253.6" stroke="#333" stroke-width="0.4"/><line x1="300.20" y1="254.6" x2="300.20" y2="253.6" stroke="#333" stroke-width="0.4"/><line x1="304.57" y1="254.6" x2="304.57" y2="253.6" stroke="#333" stroke-width="0.4"/><line x1="307.96" y1="254.6" x2="307.96" y2="253.6" stroke="#333" stroke-width="0.4"/><line x1="310.74" y1="254.6" x2="310.74" y2="253.6" stroke="#333" stroke-width="0.4"/><line x1="313.08" y1="254.6" x2="313.08" y2="253.6" stroke="#333" stroke-width="0.4"/><line x1="315.11" y1="254.6" x2="315.11" y2="253.6" stroke="#333" stroke-width="0.4"/><line x1="316.90" y1="254.6" x2="316.90" y2="253.6" stroke="#333" stroke-width="0.4"/><text x="211.30" y="256.30" font-family='"Liberation Sans", sans-serif' font-size="4.6" font-weight="bold" text-anchor="end" fill="#000" >10<tspan font-size="3" dy="-2">0</tspan></text><text x="211.30" y="217.00" font-family='"Liberation Sans", sans-serif' font-size="4.6" font-weight="bold" text-anchor="end" fill="#000" >10<tspan font-size="3" dy="-2">1</tspan></text><text x="211.30" y="177.70" font-family='"Liberation Sans", sans-serif' font-size="4.6" font-weight="bold" text-anchor="end" fill="#000" >10<tspan font-size="3" dy="-2">2</tspan></text><text x="214.50" y="262.30" font-family='"Liberation Sans", sans-serif' font-size="4.6" font-weight="bold" text-anchor="middle" fill="#000" >10<tspan font-size="3" dy="-2">0</tspan></text><text x="249.50" y="262.30" font-family='"Liberation Sans", sans-serif' font-size="4.6" font-weight="bold" text-anchor="middle" fill="#000" >10<tspan font-size="3" dy="-2">1</tspan></text><text x="284.50" y="262.30" font-family='"Liberation Sans", sans-serif' font-size="4.6" font-weight="bold" text-anchor="middle" fill="#000" >10<tspan font-size="3" dy="-2">2</tspan></text><text x="319.50" y="262.30" font-family='"Liberation Sans", sans-serif' font-size="4.6" font-weight="bold" text-anchor="middle" fill="#000" >10<tspan font-size="3" dy="-2">3</tspan></text><text x="265.50" y="269.60" font-family='"Liberation Sans", sans-serif' font-size="5.6" font-weight="bold" text-anchor="middle" fill="#000" >Window length</text><text x="0.00" y="0.00" font-family='"Liberation Sans", sans-serif' font-size="5.2" font-weight="bold" text-anchor="middle" fill="#222" transform="translate(202.0,215.3) rotate(-90)">Fluctuations</text><line x1="237.6" y1="244.9" x2="283.3" y2="196.3" stroke="#e66a35" stroke-width="1.0"/><circle cx="238" cy="244" r="0.9" fill="#3a78b8"/><circle cx="242.9" cy="239.5" r="0.9" fill="#3a78b8"/><circle cx="247.9" cy="234.6" r="0.9" fill="#3a78b8"/><circle cx="252.9" cy="228.75" r="0.9" fill="#3a78b8"/><circle cx="257.7" cy="223.4" r="0.9" fill="#3a78b8"/><circle cx="263" cy="218" r="0.9" fill="#3a78b8"/><circle cx="268" cy="211.8" r="0.9" fill="#3a78b8"/><circle cx="272.9" cy="206.8" r="0.9" fill="#3a78b8"/><circle cx="278.2" cy="202.5" r="0.9" fill="#3a78b8"/><circle cx="283.4" cy="197.6" r="0.9" fill="#3a78b8"/><line x1="290.6" y1="228.6" x2="276.3" y2="216.3" stroke="#000" stroke-width="0.8"/><path d="M281.2,217.0 L276.3,216.3 L277.8,220.9" fill="none" stroke="#000" stroke-width="0.8"/><text x="291.80" y="239.90" font-family='"Liberation Serif", serif' font-size="8.7" font-weight="normal" text-anchor="start" fill="#000" >Slope: Hurst</text><path d="M360.5,177.3 L360.5,193.70000000000002" fill="none" stroke="#555" stroke-width="0.55"/><path d="M360.5,193.70000000000002 L466.0,193.70000000000002" fill="none" stroke="#999" stroke-width="0.6"/><text x="358.90" y="179.10" font-family='"Liberation Sans", sans-serif' font-size="5.2" font-weight="bold" text-anchor="end" fill="#111" >5</text><text x="358.90" y="187.30" font-family='"Liberation Sans", sans-serif' font-size="5.2" font-weight="bold" text-anchor="end" fill="#111" >0</text><text x="358.90" y="195.50" font-family='"Liberation Sans", sans-serif' font-size="5.2" font-weight="bold" text-anchor="end" fill="#111" >-5</text><text x="360.50" y="200.90" font-family='"Liberation Sans", sans-serif' font-size="5.2" font-weight="bold" text-anchor="middle" fill="#111" >0</text><line x1="360.50" y1="193.70000000000002" x2="360.50" y2="192.8" stroke="#555" stroke-width="0.4"/><text x="378.03" y="200.90" font-family='"Liberation Sans", sans-serif' font-size="5.2" font-weight="bold" text-anchor="middle" fill="#111" >200</text><line x1="378.03" y1="193.70000000000002" x2="378.03" y2="192.8" stroke="#555" stroke-width="0.4"/><text x="395.57" y="200.90" font-family='"Liberation Sans", sans-serif' font-size="5.2" font-weight="bold" text-anchor="middle" fill="#111" >400</text><line x1="395.57" y1="193.70000000000002" x2="395.57" y2="192.8" stroke="#555" stroke-width="0.4"/><text x="413.10" y="200.90" font-family='"Liberation Sans", sans-serif' font-size="5.2" font-weight="bold" text-anchor="middle" fill="#111" >600</text><line x1="413.10" y1="193.70000000000002" x2="413.10" y2="192.8" stroke="#555" stroke-width="0.4"/><text x="430.63" y="200.90" font-family='"Liberation Sans", sans-serif' font-size="5.2" font-weight="bold" text-anchor="middle" fill="#111" >800</text><line x1="430.63" y1="193.70000000000002" x2="430.63" y2="192.8" stroke="#555" stroke-width="0.4"/><text x="448.17" y="200.90" font-family='"Liberation Sans", sans-serif' font-size="5.2" font-weight="bold" text-anchor="middle" fill="#111" >1000</text><line x1="448.17" y1="193.70000000000002" x2="448.17" y2="192.8" stroke="#555" stroke-width="0.4"/><text x="465.70" y="200.90" font-family='"Liberation Sans", sans-serif' font-size="5.2" font-weight="bold" text-anchor="middle" fill="#111" >1200</text><line x1="465.70" y1="193.70000000000002" x2="465.70" y2="192.8" stroke="#555" stroke-width="0.4"/><polyline points="361.00,184.35 361.10,183.07 361.19,185.20 361.29,186.23 361.38,185.45 361.48,183.36 361.57,183.70 361.67,185.90 361.76,186.55 361.86,186.15 361.95,184.78 362.05,185.39 362.14,185.95 362.24,186.27 362.33,185.86 362.43,186.79 362.52,186.56 362.62,185.90 362.71,183.91 362.81,185.01 362.91,184.27 363.00,186.21 363.10,185.07 363.19,185.24 363.29,186.05 363.38,186.01 363.48,184.89 363.57,185.74 363.67,184.59 363.76,183.22 363.86,182.34 363.95,181.81 364.05,185.21 364.14,184.91 364.24,186.05 364.33,184.71 364.43,184.88 364.52,184.70 364.62,184.32 364.72,185.45 364.81,185.35 364.91,186.28 365.00,183.30 365.10,184.60 365.19,184.84 365.29,187.17 365.38,188.11 365.48,187.94 365.57,185.94 365.67,184.78 365.76,184.86 365.86,186.13 365.95,183.65 366.05,185.76 366.14,186.73 366.24,185.56 366.34,186.71 366.43,186.05 366.53,184.81 366.62,185.20 366.72,184.85 366.81,185.35 366.91,186.36 367.00,190.13 367.10,189.70 367.19,188.08 367.29,189.22 367.38,188.52 367.48,187.25 367.57,185.05 367.67,187.19 367.76,187.33 367.86,186.60 367.95,185.71 368.05,187.43 368.15,184.57 368.24,186.16 368.34,184.64 368.43,185.43 368.53,185.16 368.62,183.41 368.72,183.67 368.81,184.57 368.91,186.54 369.00,187.02 369.10,188.32 369.19,184.79 369.29,187.17 369.38,189.79 369.48,185.92 369.57,184.37 369.67,185.53 369.76,184.57 369.86,185.94 369.96,186.24 370.05,185.10 370.15,184.69 370.24,185.31 370.34,183.22 370.43,183.44 370.53,184.13 370.62,186.16 370.72,185.62 370.81,186.20 370.91,186.01 371.00,184.98 371.10,186.01 371.19,185.54 371.29,184.62 371.38,184.49 371.48,182.03 371.57,185.60 371.67,185.55 371.77,187.06 371.86,186.45 371.96,183.10 372.05,186.29 372.15,186.39 372.24,185.34 372.34,185.54 372.43,184.52 372.53,187.11 372.62,185.34 372.72,186.73 372.81,187.90 372.91,186.27 373.00,185.48 373.10,186.69 373.19,187.46 373.29,187.00 373.38,186.49 373.48,186.41 373.58,187.37 373.67,189.59 373.77,186.42 373.86,186.04 373.96,187.56 374.05,188.87 374.15,188.51 374.24,187.90 374.34,189.62 374.43,186.17 374.53,185.61 374.62,186.19 374.72,185.77 374.81,185.53 374.91,184.20 375.00,184.67 375.10,183.46 375.19,182.50 375.29,184.28 375.39,185.44 375.48,186.59 375.58,186.41 375.67,186.83 375.77,186.09 375.86,185.39 375.96,185.01 376.05,186.96 376.15,185.17 376.24,186.01 376.34,186.08 376.43,186.63 376.53,188.80 376.62,187.10 376.72,188.78 376.81,186.34 376.91,186.09 377.01,184.35 377.10,184.28 377.20,184.26 377.29,183.42 377.39,184.68 377.48,183.43 377.58,184.84 377.67,185.20 377.77,186.42 377.86,185.64 377.96,185.00 378.05,186.05 378.15,187.65 378.24,187.08 378.34,186.32 378.43,186.67 378.53,187.83 378.62,188.33 378.72,187.91 378.82,190.56 378.91,189.57 379.01,186.47 379.10,188.13 379.20,187.85 379.29,185.31 379.39,185.13 379.48,184.90 379.58,185.87 379.67,188.00 379.77,183.97 379.86,185.04 379.96,185.66 380.05,184.13 380.15,184.50 380.24,185.51 380.34,187.49 380.43,187.37 380.53,187.10 380.63,187.72 380.72,188.28 380.82,188.83 380.91,188.08 381.01,188.19 381.10,186.96 381.20,185.58 381.29,185.80 381.39,186.13 381.48,184.46 381.58,184.79 381.67,187.36 381.77,187.93 381.86,187.17 381.96,188.04 382.05,186.29 382.15,188.54 382.24,189.97 382.34,187.41 382.44,186.29 382.53,188.52 382.63,187.60 382.72,185.54 382.82,187.40 382.91,188.48 383.01,189.17 383.10,189.34 383.20,190.24 383.29,189.21 383.39,189.80 383.48,188.03 383.58,184.41 383.67,186.40 383.77,185.19 383.86,183.94 383.96,187.72 384.05,186.80 384.15,186.50 384.25,186.69 384.34,185.35 384.44,186.17 384.53,185.65 384.63,186.13 384.72,186.23 384.82,186.97 384.91,183.72 385.01,184.69 385.10,186.69 385.20,184.00 385.29,182.72 385.39,184.14 385.48,185.56 385.58,186.69 385.67,184.80 385.77,185.63 385.87,186.62 385.96,185.30 386.06,185.82 386.15,185.92 386.25,183.51 386.34,183.47 386.44,183.01 386.53,183.53 386.63,182.83 386.72,184.51 386.82,183.93 386.91,183.66 387.01,184.96 387.10,186.86 387.20,185.68 387.29,185.86 387.39,185.00 387.48,186.10 387.58,185.29 387.68,184.29 387.77,182.08 387.87,181.44 387.96,182.95 388.06,182.44 388.15,184.64 388.25,183.57 388.34,184.40 388.44,183.33 388.53,184.10 388.63,185.15 388.72,186.38 388.82,184.59 388.91,185.14 389.01,184.55 389.10,184.54 389.20,187.69 389.29,186.14 389.39,186.28 389.49,185.47 389.58,184.91 389.68,187.46 389.77,187.07 389.87,186.41 389.96,185.44 390.06,184.23 390.15,185.69 390.25,185.80 390.34,184.89 390.44,187.52 390.53,184.17 390.63,185.86 390.72,183.97 390.82,184.28 390.91,182.37 391.01,182.39 391.10,183.46 391.20,186.36 391.30,185.69 391.39,185.05 391.49,184.61 391.58,186.46 391.68,187.04 391.77,187.49 391.87,186.26 391.96,187.23 392.06,186.73 392.15,185.24 392.25,186.03 392.34,184.06 392.44,184.49 392.53,185.40 392.63,184.18 392.72,184.29 392.82,185.26 392.91,186.23 393.01,186.21 393.11,185.67 393.20,184.37 393.30,184.74 393.39,186.07 393.49,187.69 393.58,186.54 393.68,185.69 393.77,184.28 393.87,185.63 393.96,187.33 394.06,185.83 394.15,186.04 394.25,187.62 394.34,184.95 394.44,184.37 394.53,185.14 394.63,185.13 394.73,186.31 394.82,185.00 394.92,185.80 395.01,186.27 395.11,186.17 395.20,187.26 395.30,185.16 395.39,183.20 395.49,183.29 395.58,186.88 395.68,186.76 395.77,187.06 395.87,185.91 395.96,188.39 396.06,189.69 396.15,188.61 396.25,185.80 396.34,185.93 396.44,182.97 396.54,185.15 396.63,185.53 396.73,185.63 396.82,186.45 396.92,184.80 397.01,186.82 397.11,187.53 397.20,187.05 397.30,186.87 397.39,184.72 397.49,185.57 397.58,184.80 397.68,185.47 397.77,183.94 397.87,184.35 397.96,184.19 398.06,186.61 398.15,185.05 398.25,185.91 398.35,184.37 398.44,184.17 398.54,183.82 398.63,182.79 398.73,183.36 398.82,185.24 398.92,184.89 399.01,184.56 399.11,186.09 399.20,184.71 399.30,182.87 399.39,183.46 399.49,183.94 399.58,183.88 399.68,183.14 399.77,184.66 399.87,183.70 399.96,185.30 400.06,184.55 400.16,184.21 400.25,186.22 400.35,185.09 400.44,185.05 400.54,187.05 400.63,186.81 400.73,186.98 400.82,187.17 400.92,185.88 401.01,186.55 401.11,185.88 401.20,187.09 401.30,186.64 401.39,183.80 401.49,184.34 401.58,186.80 401.68,187.50 401.77,186.96 401.87,188.53 401.97,186.16 402.06,186.15 402.16,186.21 402.25,185.93 402.35,186.52 402.44,187.72 402.54,190.56 402.63,190.41 402.73,187.69 402.82,185.59 402.92,185.74 403.01,187.89 403.11,187.29 403.20,186.49 403.30,187.72 403.39,185.36 403.49,187.11 403.58,186.68 403.68,187.73 403.78,185.90 403.87,187.62 403.97,188.08 404.06,185.82 404.16,187.10 404.25,187.25 404.35,185.84 404.44,185.39 404.54,187.61 404.63,185.95 404.73,186.29 404.82,184.72 404.92,187.40 405.01,186.17 405.11,185.81 405.20,186.63 405.30,187.13 405.40,186.42 405.49,187.16 405.59,187.20 405.68,187.77 405.78,186.95 405.87,185.90 405.97,188.11 406.06,187.28 406.16,186.54 406.25,184.78 406.35,186.57 406.44,184.96 406.54,186.33 406.63,185.88 406.73,186.01 406.82,185.91 406.92,186.71 407.01,188.18 407.11,185.74 407.21,184.27 407.30,185.59 407.40,186.27 407.49,186.54 407.59,188.30 407.68,188.87 407.78,187.36 407.87,185.92 407.97,186.48 408.06,187.84 408.16,188.64 408.25,188.45 408.35,186.64 408.44,186.55 408.54,188.29 408.63,188.75 408.73,187.19 408.82,186.33 408.92,183.97 409.02,183.13 409.11,184.32 409.21,186.30 409.30,186.20 409.40,187.79 409.49,188.09 409.59,186.11 409.68,185.59 409.78,184.92 409.87,183.76 409.97,185.63 410.06,185.00 410.16,185.64 410.25,185.53 410.35,185.57 410.44,185.16 410.54,187.49 410.63,188.72 410.73,187.61 410.83,186.59 410.92,187.05 411.02,187.07 411.11,188.68 411.21,186.56 411.30,186.12 411.40,184.50 411.49,186.24 411.59,186.77 411.68,186.88 411.78,185.07 411.87,185.18 411.97,185.50 412.06,188.26 412.16,188.56 412.25,189.76 412.35,188.73 412.44,186.71 412.54,186.43 412.64,187.60 412.73,184.58 412.83,186.94 412.92,185.25 413.02,184.61 413.11,185.16 413.21,184.25 413.30,186.73 413.40,187.29 413.49,187.24 413.59,186.48 413.68,186.76 413.78,184.55 413.87,185.91 413.97,186.59 414.06,188.18 414.16,187.06 414.26,186.12 414.35,187.33 414.45,188.64 414.54,189.43 414.64,186.84 414.73,185.91 414.83,185.88 414.92,185.22 415.02,185.15 415.11,185.02 415.21,187.64 415.30,186.41 415.40,185.51 415.49,184.57 415.59,184.26 415.68,186.04 415.78,185.72 415.87,187.77 415.97,185.21 416.07,187.31 416.16,185.96 416.26,187.04 416.35,187.57 416.45,188.05 416.54,187.42 416.64,186.20 416.73,184.62 416.83,185.40 416.92,184.41 417.02,183.90 417.11,182.11 417.21,184.33 417.30,184.43 417.40,184.00 417.49,184.47 417.59,184.27 417.68,185.60 417.78,186.06 417.88,186.72 417.97,187.01 418.07,187.39 418.16,186.77 418.26,187.70 418.35,187.45 418.45,185.89 418.54,187.72 418.64,188.14 418.73,187.59 418.83,188.26 418.92,188.20 419.02,184.66 419.11,184.65 419.21,185.66 419.30,186.79 419.40,188.53 419.49,188.76 419.59,190.39 419.69,187.70 419.78,187.50 419.88,185.41 419.97,185.56 420.07,188.03 420.16,184.46 420.26,184.51 420.35,183.83 420.45,185.27 420.54,185.81 420.64,185.76 420.73,183.24 420.83,185.56 420.92,186.54 421.02,185.08 421.11,187.39 421.21,184.43 421.30,185.92 421.40,183.94 421.50,184.32 421.59,184.91 421.69,186.26 421.78,183.98 421.88,184.77 421.97,186.62 422.07,185.03 422.16,185.19 422.26,184.46 422.35,185.23 422.45,184.62 422.54,184.21 422.64,184.65 422.73,186.88 422.83,185.67 422.92,183.86 423.02,183.93 423.12,183.53 423.21,183.46 423.31,184.60 423.40,183.84 423.50,184.87 423.59,186.47 423.69,187.59 423.78,185.27 423.88,184.51 423.97,183.90 424.07,185.19 424.16,187.46 424.26,185.50 424.35,185.41 424.45,186.12 424.54,186.35 424.64,186.37 424.73,187.84 424.83,185.66 424.93,184.42 425.02,183.56 425.12,184.62 425.21,186.36 425.31,187.43 425.40,186.72 425.50,183.50 425.59,183.01 425.69,183.76 425.78,183.59 425.88,183.01 425.97,183.82 426.07,184.09 426.16,184.21 426.26,185.39 426.35,186.57 426.45,186.55 426.54,184.29 426.64,186.31 426.74,186.09 426.83,185.94 426.93,185.31 427.02,185.42 427.12,183.93 427.21,184.54 427.31,184.54 427.40,183.64 427.50,185.88 427.59,184.17 427.69,183.14 427.78,185.61 427.88,185.25 427.97,186.03 428.07,185.93 428.16,184.58 428.26,187.25 428.35,185.07 428.45,184.55 428.55,184.84 428.64,182.20 428.74,183.97 428.83,186.19 428.93,185.12 429.02,184.93 429.12,185.68 429.21,187.91 429.31,188.80 429.40,185.02 429.50,186.74 429.59,184.37 429.69,183.57 429.78,187.07 429.88,185.83 429.97,184.49 430.07,183.09 430.16,182.26 430.26,181.88 430.36,183.29 430.45,184.20 430.55,184.70 430.64,184.04 430.74,185.34 430.83,186.32 430.93,182.67 431.02,182.43 431.12,181.91 431.21,183.34 431.31,184.77 431.40,185.12 431.50,185.78 431.59,185.74 431.69,187.05 431.78,184.98 431.88,184.43 431.97,183.55 432.07,183.96 432.17,185.04 432.26,182.44 432.36,182.24 432.45,182.52 432.55,182.37 432.64,183.97 432.74,183.42 432.83,184.92 432.93,183.65 433.02,183.11 433.12,182.92 433.21,183.31 433.31,183.86 433.40,184.08 433.50,183.60 433.59,184.63 433.69,183.79 433.79,183.30 433.88,185.42 433.98,187.30 434.07,185.88 434.17,185.65 434.26,186.20 434.36,186.92 434.45,187.17 434.55,188.18 434.64,187.00 434.74,187.94 434.83,188.46 434.93,186.99 435.02,184.11 435.12,182.88 435.21,183.84 435.31,183.59 435.40,184.31 435.50,184.51 435.60,185.58 435.69,185.13 435.79,186.51 435.88,186.53 435.98,185.75 436.07,185.36 436.17,182.61 436.26,184.49 436.36,185.95 436.45,184.52 436.55,183.91 436.64,183.54 436.74,184.13 436.83,186.14 436.93,185.84 437.02,186.78 437.12,186.09 437.21,183.33 437.31,184.36 437.41,184.35 437.50,183.17 437.60,185.50 437.69,184.27 437.79,184.89 437.88,185.80 437.98,185.80 438.07,186.39 438.17,184.34 438.26,184.35 438.36,184.98 438.45,184.13 438.55,186.34 438.64,188.90 438.74,185.30 438.83,185.48 438.93,184.18 439.02,185.33 439.12,187.03 439.22,187.06 439.31,184.74 439.41,184.08 439.50,185.02 439.60,183.94 439.69,184.49 439.79,184.17 439.88,185.53 439.98,187.95 440.07,186.28 440.17,184.65 440.26,185.82 440.36,183.34 440.45,183.59 440.55,181.71 440.64,181.97 440.74,181.51 440.83,183.22 440.93,185.46 441.03,182.04 441.12,181.27 441.22,181.70 441.31,183.95 441.41,183.07 441.50,184.70 441.60,183.65 441.69,182.65 441.79,182.77 441.88,184.79 441.98,183.76 442.07,183.69 442.17,183.41 442.26,182.20 442.36,184.01 442.45,185.35 442.55,187.74 442.65,184.59 442.74,185.64 442.84,183.59 442.93,183.65 443.03,182.72 443.12,183.42 443.22,183.43 443.31,184.23 443.41,183.92 443.50,185.52 443.60,183.90 443.69,186.46 443.79,186.36 443.88,186.26 443.98,185.51 444.07,185.50 444.17,186.58 444.26,185.85 444.36,188.89 444.46,187.91 444.55,186.51 444.65,186.68 444.74,184.63 444.84,184.97 444.93,184.47 445.03,186.20 445.12,184.45 445.22,183.70 445.31,186.16 445.41,183.87 445.50,185.90 445.60,186.99 445.69,185.21 445.79,183.07 445.88,183.11 445.98,184.37 446.07,185.43 446.17,186.18 446.27,185.49 446.36,184.54 446.46,185.59 446.55,184.47 446.65,187.15 446.74,185.74 446.84,186.27 446.93,186.98 447.03,183.12 447.12,183.03 447.22,183.90 447.31,185.35 447.41,183.09 447.50,183.40 447.60,184.62 447.69,187.40 447.79,185.02 447.88,183.83 447.98,183.73 448.08,185.72 448.17,187.54 448.27,184.99 448.36,185.52 448.46,184.48 448.55,187.90 448.65,187.00 448.74,185.27 448.84,185.23 448.93,183.02 449.03,182.82 449.12,182.38 449.22,182.72 449.31,184.06 449.41,185.51 449.50,186.32 449.60,184.35 449.69,184.89 449.79,187.54 449.89,186.16 449.98,185.83 450.08,186.17 450.17,185.12 450.27,186.29 450.36,182.53 450.46,184.31 450.55,186.09 450.65,185.54 450.74,185.22 450.84,184.09 450.93,184.47 451.03,183.83 451.12,184.53 451.22,185.11 451.31,186.61 451.41,186.95 451.51,186.34 451.60,187.47 451.70,185.45 451.79,185.81 451.89,184.09 451.98,183.75 452.08,184.59 452.17,180.99 452.27,180.92 452.36,183.60 452.46,183.77 452.55,184.87 452.65,186.03 452.74,185.02 452.84,185.55 452.93,183.76 453.03,185.54 453.12,184.56 453.22,182.71 453.32,183.05 453.41,181.11 453.51,180.25 453.60,183.02 453.70,183.96 453.79,184.81 453.89,182.48 453.98,183.78 454.08,186.53 454.17,186.23 454.27,185.78 454.36,185.33 454.46,185.03 454.55,184.81 454.65,185.54 454.74,185.21 454.84,185.26 454.93,185.43 455.03,185.28 455.13,183.75 455.22,183.75 455.32,183.15 455.41,184.44 455.51,186.54 455.60,185.94 455.70,184.40 455.79,184.50 455.89,185.05 455.98,186.78 456.08,185.32 456.17,186.16 456.27,187.47 456.36,185.77 456.46,185.09 456.55,183.28 456.65,185.38 456.74,186.76 456.84,185.69 456.94,183.51 457.03,184.12 457.13,183.67 457.22,185.78 457.32,184.85 457.41,186.50 457.51,187.87 457.60,185.43 457.70,183.53 457.79,185.00 457.89,184.45 457.98,183.84 458.08,184.28 458.17,184.48 458.27,184.07 458.36,185.45 458.46,186.45 458.55,185.19 458.65,181.96 458.75,183.68 458.84,184.69 458.94,182.42 459.03,184.35 459.13,185.57 459.22,182.95 459.32,182.99 459.41,183.16 459.51,186.67 459.60,184.32 459.70,184.86 459.79,183.55 459.89,183.61 459.98,181.87 460.08,182.22 460.17,181.30 460.27,183.76 460.36,182.78 460.46,182.67 460.56,184.20 460.65,185.98 460.75,185.59 460.84,186.25 460.94,186.05 461.03,186.19 461.13,186.40 461.22,185.71 461.32,185.32 461.41,186.57 461.51,186.99 461.60,186.00 461.70,186.23 461.79,186.22 461.89,187.03 461.98,188.24 462.08,187.11 462.18,187.38 462.27,186.33 462.37,185.95 462.46,186.00 462.56,184.16 462.65,185.35 462.75,183.42 462.84,183.47 462.94,180.68 463.03,183.68 463.13,184.98 463.22,184.26 463.32,183.48 463.41,184.26 463.51,183.59 463.60,183.84 463.70,185.92 463.79,184.93 463.89,183.68 463.99,183.68 464.08,184.23 464.18,185.59 464.27,184.12 464.37,182.59 464.46,185.34 464.56,184.27 464.65,186.67 464.75,185.35 464.84,188.41 464.94,186.84 465.03,184.98 465.13,186.65 465.22,187.25 465.32,185.89 465.41,185.64 465.51,184.88 465.60,183.08 465.70,185.34" fill="none" stroke="#0072bd" stroke-width="0.42" opacity="0.85"/><text x="480.60" y="192.70" font-family='"Liberation Serif", serif' font-size="6.4" font-weight="bold" text-anchor="start" fill="#000" >H = 0.90</text><path d="M360.5,208.3 L360.5,224.70000000000002" fill="none" stroke="#555" stroke-width="0.55"/><path d="M360.5,224.70000000000002 L466.0,224.70000000000002" fill="none" stroke="#999" stroke-width="0.6"/><text x="358.90" y="210.10" font-family='"Liberation Sans", sans-serif' font-size="5.2" font-weight="bold" text-anchor="end" fill="#111" >5</text><text x="358.90" y="218.30" font-family='"Liberation Sans", sans-serif' font-size="5.2" font-weight="bold" text-anchor="end" fill="#111" >0</text><text x="358.90" y="226.50" font-family='"Liberation Sans", sans-serif' font-size="5.2" font-weight="bold" text-anchor="end" fill="#111" >-5</text><text x="360.50" y="231.90" font-family='"Liberation Sans", sans-serif' font-size="5.2" font-weight="bold" text-anchor="middle" fill="#111" >0</text><line x1="360.50" y1="224.70000000000002" x2="360.50" y2="223.8" stroke="#555" stroke-width="0.4"/><text x="378.03" y="231.90" font-family='"Liberation Sans", sans-serif' font-size="5.2" font-weight="bold" text-anchor="middle" fill="#111" >200</text><line x1="378.03" y1="224.70000000000002" x2="378.03" y2="223.8" stroke="#555" stroke-width="0.4"/><text x="395.57" y="231.90" font-family='"Liberation Sans", sans-serif' font-size="5.2" font-weight="bold" text-anchor="middle" fill="#111" >400</text><line x1="395.57" y1="224.70000000000002" x2="395.57" y2="223.8" stroke="#555" stroke-width="0.4"/><text x="413.10" y="231.90" font-family='"Liberation Sans", sans-serif' font-size="5.2" font-weight="bold" text-anchor="middle" fill="#111" >600</text><line x1="413.10" y1="224.70000000000002" x2="413.10" y2="223.8" stroke="#555" stroke-width="0.4"/><text x="430.63" y="231.90" font-family='"Liberation Sans", sans-serif' font-size="5.2" font-weight="bold" text-anchor="middle" fill="#111" >800</text><line x1="430.63" y1="224.70000000000002" x2="430.63" y2="223.8" stroke="#555" stroke-width="0.4"/><text x="448.17" y="231.90" font-family='"Liberation Sans", sans-serif' font-size="5.2" font-weight="bold" text-anchor="middle" fill="#111" >1000</text><line x1="448.17" y1="224.70000000000002" x2="448.17" y2="223.8" stroke="#555" stroke-width="0.4"/><text x="465.70" y="231.90" font-family='"Liberation Sans", sans-serif' font-size="5.2" font-weight="bold" text-anchor="middle" fill="#111" >1200</text><line x1="465.70" y1="224.70000000000002" x2="465.70" y2="223.8" stroke="#555" stroke-width="0.4"/><polyline points="361.00,215.84 361.10,216.55 361.19,211.47 361.29,213.89 361.38,215.30 361.48,215.56 361.57,217.19 361.67,217.97 361.76,216.38 361.86,217.41 361.95,215.76 362.05,216.69 362.14,219.30 362.24,219.56 362.33,219.04 362.43,220.46 362.52,218.04 362.62,217.47 362.71,215.43 362.81,217.53 362.91,217.45 363.00,215.99 363.10,215.37 363.19,217.80 363.29,214.69 363.38,216.83 363.48,214.91 363.57,216.47 363.67,217.09 363.76,218.65 363.86,217.65 363.95,213.48 364.05,216.76 364.14,214.41 364.24,213.98 364.33,216.49 364.43,215.28 364.52,214.30 364.62,216.54 364.72,217.67 364.81,215.50 364.91,215.99 365.00,213.48 365.10,215.05 365.19,217.99 365.29,217.23 365.38,218.80 365.48,216.45 365.57,215.75 365.67,217.16 365.76,218.42 365.86,216.29 365.95,217.30 366.05,215.23 366.14,217.76 366.24,217.85 366.34,218.16 366.43,219.23 366.53,213.94 366.62,213.74 366.72,217.12 366.81,216.20 366.91,219.80 367.00,216.53 367.10,215.65 367.19,217.48 367.29,217.98 367.38,217.34 367.48,216.75 367.57,217.84 367.67,218.91 367.76,218.34 367.86,218.46 367.95,216.58 368.05,216.99 368.15,216.98 368.24,219.79 368.34,218.83 368.43,218.64 368.53,218.60 368.62,218.13 368.72,218.19 368.81,219.98 368.91,216.99 369.00,215.91 369.10,217.68 369.19,216.48 369.29,218.45 369.38,219.67 369.48,218.47 369.57,215.46 369.67,216.88 369.76,219.46 369.86,217.58 369.96,218.24 370.05,218.77 370.15,217.17 370.24,220.02 370.34,220.99 370.43,220.84 370.53,217.04 370.62,217.17 370.72,218.18 370.81,218.73 370.91,216.92 371.00,215.34 371.10,217.75 371.19,216.93 371.29,213.37 371.38,214.81 371.48,216.70 371.57,216.36 371.67,216.55 371.77,215.71 371.86,215.85 371.96,217.34 372.05,217.14 372.15,216.40 372.24,217.83 372.34,217.15 372.43,218.53 372.53,215.74 372.62,214.31 372.72,217.28 372.81,215.68 372.91,215.96 373.00,216.28 373.10,216.89 373.19,216.21 373.29,214.82 373.38,217.71 373.48,215.35 373.58,216.38 373.67,218.02 373.77,217.00 373.86,215.66 373.96,216.33 374.05,215.92 374.15,216.70 374.24,217.29 374.34,215.25 374.43,217.33 374.53,215.21 374.62,215.58 374.72,216.50 374.81,216.84 374.91,217.11 375.00,216.90 375.10,216.91 375.19,216.76 375.29,219.38 375.39,220.47 375.48,217.26 375.58,217.57 375.67,217.66 375.77,216.98 375.86,218.16 375.96,214.57 376.05,215.67 376.15,216.09 376.24,217.64 376.34,215.35 376.43,214.78 376.53,213.48 376.62,213.84 376.72,216.49 376.81,218.25 376.91,214.68 377.01,216.45 377.10,216.18 377.20,216.02 377.29,214.93 377.39,214.53 377.48,216.98 377.58,217.21 377.67,218.95 377.77,215.93 377.86,216.10 377.96,218.46 378.05,215.33 378.15,215.77 378.24,217.52 378.34,217.22 378.43,217.31 378.53,216.40 378.62,215.94 378.72,216.99 378.82,215.89 378.91,219.86 379.01,217.86 379.10,215.79 379.20,214.66 379.29,214.51 379.39,217.39 379.48,219.37 379.58,218.04 379.67,213.63 379.77,215.10 379.86,217.23 379.96,219.32 380.05,217.32 380.15,217.44 380.24,215.91 380.34,215.92 380.43,219.63 380.53,217.51 380.63,215.36 380.72,216.74 380.82,218.08 380.91,218.55 381.01,218.97 381.10,213.85 381.20,213.36 381.29,216.14 381.39,214.20 381.48,217.07 381.58,217.38 381.67,217.93 381.77,217.19 381.86,215.78 381.96,213.13 382.05,214.11 382.15,215.62 382.24,215.68 382.34,216.18 382.44,215.41 382.53,216.95 382.63,215.82 382.72,215.23 382.82,214.34 382.91,216.65 383.01,215.59 383.10,215.54 383.20,217.02 383.29,219.48 383.39,218.09 383.48,215.59 383.58,216.47 383.67,212.93 383.77,214.24 383.86,216.62 383.96,216.35 384.05,215.41 384.15,215.13 384.25,216.09 384.34,215.34 384.44,211.52 384.53,213.19 384.63,214.90 384.72,216.30 384.82,218.82 384.91,216.78 385.01,216.85 385.10,216.28 385.20,216.88 385.29,215.34 385.39,214.33 385.48,216.53 385.58,218.26 385.67,216.46 385.77,214.33 385.87,214.89 385.96,214.97 386.06,217.73 386.15,217.30 386.25,215.43 386.34,215.27 386.44,215.82 386.53,215.15 386.63,214.37 386.72,215.37 386.82,216.90 386.91,218.48 387.01,216.71 387.10,216.71 387.20,216.77 387.29,214.81 387.39,216.71 387.48,216.85 387.58,215.46 387.68,217.25 387.77,219.75 387.87,218.39 387.96,215.85 388.06,216.96 388.15,216.86 388.25,219.09 388.34,215.37 388.44,218.43 388.53,217.91 388.63,216.93 388.72,213.48 388.82,215.30 388.91,217.03 389.01,218.74 389.10,217.59 389.20,218.53 389.29,217.84 389.39,216.68 389.49,214.62 389.58,217.25 389.68,214.37 389.77,218.17 389.87,213.83 389.96,216.11 390.06,216.59 390.15,216.75 390.25,215.90 390.34,216.02 390.44,216.49 390.53,217.21 390.63,217.14 390.72,216.30 390.82,217.05 390.91,217.36 391.01,218.60 391.10,216.82 391.20,215.64 391.30,217.24 391.39,215.05 391.49,215.45 391.58,215.48 391.68,218.19 391.77,215.64 391.87,213.78 391.96,212.12 392.06,215.26 392.15,215.56 392.25,214.43 392.34,214.34 392.44,215.97 392.53,215.64 392.63,214.23 392.72,214.33 392.82,215.32 392.91,214.03 393.01,217.28 393.11,215.47 393.20,216.49 393.30,216.41 393.39,214.75 393.49,212.78 393.58,213.94 393.68,214.81 393.77,212.87 393.87,213.47 393.96,218.05 394.06,217.42 394.15,217.10 394.25,217.05 394.34,218.18 394.44,215.50 394.53,215.17 394.63,212.77 394.73,214.74 394.82,214.95 394.92,216.17 395.01,214.06 395.11,212.88 395.20,211.93 395.30,212.62 395.39,215.23 395.49,213.52 395.58,215.96 395.68,216.37 395.77,216.00 395.87,212.44 395.96,215.39 396.06,216.97 396.15,215.73 396.25,213.96 396.34,214.22 396.44,214.33 396.54,216.45 396.63,216.47 396.73,214.23 396.82,215.30 396.92,216.55 397.01,216.64 397.11,214.25 397.20,212.81 397.30,214.09 397.39,216.27 397.49,213.53 397.58,215.96 397.68,215.68 397.77,215.14 397.87,215.57 397.96,216.07 398.06,213.56 398.15,214.46 398.25,217.49 398.35,217.25 398.44,214.51 398.54,215.62 398.63,217.33 398.73,215.16 398.82,214.89 398.92,215.49 399.01,214.94 399.11,215.99 399.20,215.58 399.30,214.81 399.39,216.22 399.49,214.38 399.58,217.10 399.68,213.57 399.77,215.15 399.87,215.37 399.96,217.60 400.06,215.57 400.16,217.29 400.25,215.95 400.35,216.18 400.44,217.42 400.54,214.12 400.63,215.35 400.73,216.71 400.82,216.94 400.92,216.06 401.01,216.19 401.11,215.08 401.20,216.89 401.30,216.36 401.39,217.19 401.49,217.80 401.58,215.91 401.68,217.63 401.77,219.27 401.87,216.64 401.97,217.50 402.06,216.20 402.16,215.69 402.25,215.51 402.35,216.08 402.44,214.11 402.54,217.16 402.63,215.20 402.73,216.57 402.82,216.27 402.92,217.08 403.01,215.54 403.11,215.48 403.20,216.70 403.30,216.44 403.39,215.66 403.49,216.40 403.58,212.89 403.68,214.41 403.78,216.37 403.87,215.03 403.97,215.54 404.06,216.77 404.16,217.05 404.25,218.76 404.35,216.08 404.44,214.17 404.54,215.69 404.63,217.21 404.73,218.98 404.82,218.81 404.92,216.96 405.01,217.37 405.11,216.89 405.20,217.51 405.30,216.92 405.40,216.78 405.49,216.18 405.59,216.06 405.68,215.84 405.78,217.21 405.87,216.86 405.97,218.15 406.06,217.61 406.16,216.64 406.25,215.75 406.35,217.88 406.44,218.01 406.54,217.49 406.63,218.30 406.73,217.22 406.82,216.85 406.92,217.33 407.01,214.00 407.11,215.96 407.21,215.69 407.30,218.70 407.40,216.03 407.49,215.90 407.59,215.97 407.68,219.24 407.78,217.47 407.87,217.77 407.97,216.31 408.06,216.38 408.16,217.11 408.25,217.41 408.35,215.11 408.44,214.42 408.54,218.19 408.63,217.70 408.73,216.09 408.82,216.86 408.92,215.94 409.02,216.48 409.11,213.94 409.21,214.24 409.30,215.63 409.40,213.87 409.49,214.36 409.59,212.96 409.68,215.57 409.78,217.86 409.87,215.39 409.97,215.70 410.06,218.36 410.16,221.75 410.25,217.98 410.35,216.48 410.44,217.20 410.54,216.94 410.63,216.07 410.73,217.82 410.83,214.68 410.92,217.33 411.02,216.48 411.11,216.27 411.21,216.94 411.30,217.51 411.40,215.46 411.49,218.15 411.59,216.81 411.68,214.04 411.78,216.38 411.87,218.30 411.97,217.65 412.06,220.76 412.16,218.76 412.25,218.68 412.35,218.22 412.44,217.99 412.54,215.90 412.64,215.81 412.73,217.32 412.83,214.43 412.92,216.61 413.02,213.90 413.11,215.92 413.21,217.31 413.30,217.13 413.40,214.37 413.49,215.37 413.59,215.96 413.68,218.54 413.78,217.12 413.87,216.95 413.97,217.08 414.06,217.82 414.16,219.20 414.26,215.58 414.35,217.60 414.45,215.97 414.54,215.60 414.64,216.02 414.73,216.22 414.83,215.40 414.92,216.69 415.02,216.83 415.11,216.24 415.21,216.21 415.30,216.81 415.40,220.54 415.49,218.07 415.59,219.02 415.68,215.85 415.78,214.56 415.87,215.66 415.97,215.93 416.07,219.35 416.16,217.91 416.26,218.23 416.35,214.59 416.45,217.88 416.54,213.88 416.64,215.93 416.73,219.49 416.83,215.14 416.92,216.57 417.02,216.14 417.11,215.03 417.21,218.48 417.30,217.91 417.40,216.91 417.49,215.04 417.59,216.45 417.68,215.89 417.78,219.00 417.88,216.82 417.97,218.12 418.07,217.67 418.16,216.92 418.26,215.60 418.35,217.32 418.45,216.43 418.54,217.14 418.64,215.92 418.73,217.18 418.83,214.77 418.92,217.49 419.02,218.39 419.11,215.45 419.21,217.32 419.30,215.89 419.40,215.34 419.49,218.70 419.59,217.81 419.69,217.68 419.78,217.23 419.88,219.12 419.97,217.26 420.07,216.67 420.16,218.41 420.26,217.50 420.35,216.76 420.45,219.29 420.54,217.87 420.64,216.06 420.73,215.51 420.83,217.85 420.92,218.39 421.02,217.24 421.11,216.31 421.21,215.48 421.30,216.12 421.40,215.26 421.50,217.05 421.59,214.14 421.69,216.10 421.78,217.89 421.88,218.10 421.97,219.98 422.07,219.09 422.16,218.20 422.26,216.67 422.35,215.26 422.45,217.45 422.54,218.20 422.64,216.31 422.73,215.35 422.83,215.43 422.92,216.22 423.02,218.43 423.12,218.41 423.21,219.85 423.31,219.16 423.40,216.00 423.50,214.52 423.59,216.66 423.69,216.06 423.78,214.83 423.88,217.82 423.97,219.41 424.07,218.84 424.16,220.69 424.26,217.34 424.35,217.34 424.45,217.46 424.54,217.03 424.64,216.09 424.73,216.67 424.83,218.56 424.93,216.72 425.02,217.73 425.12,216.94 425.21,218.02 425.31,217.40 425.40,219.41 425.50,217.76 425.59,217.72 425.69,215.94 425.78,217.91 425.88,218.76 425.97,216.84 426.07,219.95 426.16,217.30 426.26,217.30 426.35,217.83 426.45,217.21 426.54,217.56 426.64,218.61 426.74,216.62 426.83,218.18 426.93,217.33 427.02,217.36 427.12,218.04 427.21,218.12 427.31,216.80 427.40,217.23 427.50,215.04 427.59,214.88 427.69,216.54 427.78,215.02 427.88,219.20 427.97,214.93 428.07,217.85 428.16,218.84 428.26,215.78 428.35,218.62 428.45,218.25 428.55,216.60 428.64,219.54 428.74,217.81 428.83,215.76 428.93,217.33 429.02,214.65 429.12,217.14 429.21,214.70 429.31,215.30 429.40,215.95 429.50,216.71 429.59,218.01 429.69,215.62 429.78,218.03 429.88,216.99 429.97,215.63 430.07,215.34 430.16,214.89 430.26,216.67 430.36,218.12 430.45,216.49 430.55,216.47 430.64,214.68 430.74,218.49 430.83,216.90 430.93,215.70 431.02,216.59 431.12,218.44 431.21,216.75 431.31,214.83 431.40,216.74 431.50,217.80 431.59,218.30 431.69,218.30 431.78,219.44 431.88,212.85 431.97,215.23 432.07,214.12 432.17,213.76 432.26,215.98 432.36,215.25 432.45,213.07 432.55,213.03 432.64,213.50 432.74,216.19 432.83,216.96 432.93,216.35 433.02,213.94 433.12,216.57 433.21,215.45 433.31,214.35 433.40,214.25 433.50,215.52 433.59,216.94 433.69,215.49 433.79,216.42 433.88,215.73 433.98,216.65 434.07,217.09 434.17,217.26 434.26,218.01 434.36,215.51 434.45,217.86 434.55,216.11 434.64,216.63 434.74,215.37 434.83,218.15 434.93,216.76 435.02,215.93 435.12,213.75 435.21,213.57 435.31,214.47 435.40,215.48 435.50,215.64 435.60,214.35 435.69,213.45 435.79,214.07 435.88,213.38 435.98,217.11 436.07,214.80 436.17,212.64 436.26,214.55 436.36,216.33 436.45,214.01 436.55,217.96 436.64,214.96 436.74,217.28 436.83,215.75 436.93,217.65 437.02,214.46 437.12,215.49 437.21,216.84 437.31,216.58 437.41,214.52 437.50,213.55 437.60,215.21 437.69,216.38 437.79,214.36 437.88,215.60 437.98,217.07 438.07,213.93 438.17,217.85 438.26,216.35 438.36,213.88 438.45,214.86 438.55,215.34 438.64,214.51 438.74,216.94 438.83,216.51 438.93,216.53 439.02,214.82 439.12,214.98 439.22,215.56 439.31,214.08 439.41,213.43 439.50,216.95 439.60,212.75 439.69,214.45 439.79,216.26 439.88,213.66 439.98,218.81 440.07,218.87 440.17,216.72 440.26,217.28 440.36,218.26 440.45,217.23 440.55,214.25 440.64,215.43 440.74,214.73 440.83,214.56 440.93,215.67 441.03,215.79 441.12,216.98 441.22,216.21 441.31,215.14 441.41,216.22 441.50,216.34 441.60,215.68 441.69,216.15 441.79,215.92 441.88,219.01 441.98,216.80 442.07,218.92 442.17,216.48 442.26,216.80 442.36,217.08 442.45,218.39 442.55,215.93 442.65,216.85 442.74,217.09 442.84,219.46 442.93,215.33 443.03,216.90 443.12,217.87 443.22,215.39 443.31,215.43 443.41,219.73 443.50,217.83 443.60,214.89 443.69,216.40 443.79,217.42 443.88,215.61 443.98,215.00 444.07,217.07 444.17,217.63 444.26,217.57 444.36,217.48 444.46,218.47 444.55,218.00 444.65,215.83 444.74,218.23 444.84,215.44 444.93,215.28 445.03,214.76 445.12,214.54 445.22,216.89 445.31,218.64 445.41,215.56 445.50,216.13 445.60,215.64 445.69,214.68 445.79,217.55 445.88,216.70 445.98,216.46 446.07,217.67 446.17,218.03 446.27,216.76 446.36,215.75 446.46,214.20 446.55,214.21 446.65,213.55 446.74,216.02 446.84,215.86 446.93,216.26 447.03,216.75 447.12,217.13 447.22,214.64 447.31,213.52 447.41,215.13 447.50,219.60 447.60,219.01 447.69,218.31 447.79,214.46 447.88,213.90 447.98,215.62 448.08,214.91 448.17,215.23 448.27,216.11 448.36,216.32 448.46,217.56 448.55,218.14 448.65,217.05 448.74,218.07 448.84,216.34 448.93,216.59 449.03,217.53 449.12,216.21 449.22,217.20 449.31,217.07 449.41,217.95 449.50,216.00 449.60,216.09 449.69,216.61 449.79,216.88 449.89,215.93 449.98,216.97 450.08,219.12 450.17,214.95 450.27,215.70 450.36,215.07 450.46,216.98 450.55,218.75 450.65,218.72 450.74,216.34 450.84,216.78 450.93,216.61 451.03,216.86 451.12,218.64 451.22,214.69 451.31,216.99 451.41,217.83 451.51,218.31 451.60,216.49 451.70,214.51 451.79,215.33 451.89,215.21 451.98,216.27 452.08,214.40 452.17,215.23 452.27,215.24 452.36,217.33 452.46,214.91 452.55,214.69 452.65,216.26 452.74,217.28 452.84,215.98 452.93,217.95 453.03,216.69 453.12,217.49 453.22,218.12 453.32,215.40 453.41,217.41 453.51,219.15 453.60,215.31 453.70,216.91 453.79,215.07 453.89,215.96 453.98,217.58 454.08,219.04 454.17,217.71 454.27,216.56 454.36,217.41 454.46,217.25 454.55,217.86 454.65,217.08 454.74,216.50 454.84,216.88 454.93,219.57 455.03,218.77 455.13,217.97 455.22,217.83 455.32,219.65 455.41,218.51 455.51,219.41 455.60,219.81 455.70,217.12 455.79,217.99 455.89,215.41 455.98,214.64 456.08,218.45 456.17,216.94 456.27,218.84 456.36,216.56 456.46,215.07 456.55,214.04 456.65,213.76 456.74,217.50 456.84,216.36 456.94,218.40 457.03,216.50 457.13,215.29 457.22,216.31 457.32,215.31 457.41,217.33 457.51,217.60 457.60,218.59 457.70,219.95 457.79,217.69 457.89,217.15 457.98,218.42 458.08,218.69 458.17,219.53 458.27,216.80 458.36,216.10 458.46,217.28 458.55,217.54 458.65,217.64 458.75,218.34 458.84,216.83 458.94,215.33 459.03,218.90 459.13,216.04 459.22,217.54 459.32,217.34 459.41,218.73 459.51,217.83 459.60,216.95 459.70,216.88 459.79,212.77 459.89,215.36 459.98,216.24 460.08,216.54 460.17,215.52 460.27,214.79 460.36,214.42 460.46,215.41 460.56,215.51 460.65,219.10 460.75,216.98 460.84,217.81 460.94,216.38 461.03,217.21 461.13,215.79 461.22,216.68 461.32,215.63 461.41,219.09 461.51,216.04 461.60,218.43 461.70,214.96 461.79,218.11 461.89,217.17 461.98,218.18 462.08,217.05 462.18,215.23 462.27,217.31 462.37,216.31 462.46,215.31 462.56,217.52 462.65,215.66 462.75,217.08 462.84,215.96 462.94,217.92 463.03,212.62 463.13,215.40 463.22,219.02 463.32,216.81 463.41,217.14 463.51,218.97 463.60,217.80 463.70,218.58 463.79,216.86 463.89,217.78 463.99,218.32 464.08,216.66 464.18,215.92 464.27,216.19 464.37,215.74 464.46,216.14 464.56,215.71 464.65,214.34 464.75,214.20 464.84,214.53 464.94,213.24 465.03,217.45 465.13,215.19 465.22,218.42 465.32,217.83 465.41,218.04 465.51,216.00 465.60,214.14 465.70,216.51" fill="none" stroke="#0072bd" stroke-width="0.42" opacity="0.85"/><text x="480.60" y="218.20" font-family='"Liberation Serif", serif' font-size="6.4" font-weight="bold" text-anchor="start" fill="#000" >H = 0.80</text><path d="M360.5,238.2 L360.5,254.6" fill="none" stroke="#555" stroke-width="0.55"/><path d="M360.5,254.6 L466.0,254.6" fill="none" stroke="#999" stroke-width="0.6"/><text x="358.90" y="240.00" font-family='"Liberation Sans", sans-serif' font-size="5.2" font-weight="bold" text-anchor="end" fill="#111" >5</text><text x="358.90" y="248.20" font-family='"Liberation Sans", sans-serif' font-size="5.2" font-weight="bold" text-anchor="end" fill="#111" >0</text><text x="358.90" y="256.40" font-family='"Liberation Sans", sans-serif' font-size="5.2" font-weight="bold" text-anchor="end" fill="#111" >-5</text><text x="360.50" y="261.80" font-family='"Liberation Sans", sans-serif' font-size="5.2" font-weight="bold" text-anchor="middle" fill="#111" >0</text><line x1="360.50" y1="254.6" x2="360.50" y2="253.7" stroke="#555" stroke-width="0.4"/><text x="378.03" y="261.80" font-family='"Liberation Sans", sans-serif' font-size="5.2" font-weight="bold" text-anchor="middle" fill="#111" >200</text><line x1="378.03" y1="254.6" x2="378.03" y2="253.7" stroke="#555" stroke-width="0.4"/><text x="395.57" y="261.80" font-family='"Liberation Sans", sans-serif' font-size="5.2" font-weight="bold" text-anchor="middle" fill="#111" >400</text><line x1="395.57" y1="254.6" x2="395.57" y2="253.7" stroke="#555" stroke-width="0.4"/><text x="413.10" y="261.80" font-family='"Liberation Sans", sans-serif' font-size="5.2" font-weight="bold" text-anchor="middle" fill="#111" >600</text><line x1="413.10" y1="254.6" x2="413.10" y2="253.7" stroke="#555" stroke-width="0.4"/><text x="430.63" y="261.80" font-family='"Liberation Sans", sans-serif' font-size="5.2" font-weight="bold" text-anchor="middle" fill="#111" >800</text><line x1="430.63" y1="254.6" x2="430.63" y2="253.7" stroke="#555" stroke-width="0.4"/><text x="448.17" y="261.80" font-family='"Liberation Sans", sans-serif' font-size="5.2" font-weight="bold" text-anchor="middle" fill="#111" >1000</text><line x1="448.17" y1="254.6" x2="448.17" y2="253.7" stroke="#555" stroke-width="0.4"/><text x="465.70" y="261.80" font-family='"Liberation Sans", sans-serif' font-size="5.2" font-weight="bold" text-anchor="middle" fill="#111" >1200</text><line x1="465.70" y1="254.6" x2="465.70" y2="253.7" stroke="#555" stroke-width="0.4"/><polyline points="361.00,243.14 361.10,247.77 361.19,246.08 361.29,246.79 361.38,247.79 361.48,247.43 361.57,247.35 361.67,246.71 361.76,245.90 361.86,244.89 361.95,246.04 362.05,244.78 362.14,245.66 362.24,246.28 362.33,246.85 362.43,248.04 362.52,249.10 362.62,246.95 362.71,246.89 362.81,246.10 362.91,246.00 363.00,248.39 363.10,247.76 363.19,248.25 363.29,245.03 363.38,246.38 363.48,246.20 363.57,247.74 363.67,248.40 363.76,247.51 363.86,246.74 363.95,245.75 364.05,248.61 364.14,246.08 364.24,247.69 364.33,247.36 364.43,247.06 364.52,247.13 364.62,245.81 364.72,245.11 364.81,245.86 364.91,247.31 365.00,246.07 365.10,246.08 365.19,245.42 365.29,246.22 365.38,249.12 365.48,248.12 365.57,247.48 365.67,245.47 365.76,246.80 365.86,245.46 365.95,246.25 366.05,248.56 366.14,246.97 366.24,246.00 366.34,246.08 366.43,248.89 366.53,246.36 366.62,247.63 366.72,250.02 366.81,247.94 366.91,249.83 367.00,248.98 367.10,244.86 367.19,242.89 367.29,244.85 367.38,245.99 367.48,243.86 367.57,246.01 367.67,248.07 367.76,250.49 367.86,245.74 367.95,250.00 368.05,251.36 368.15,248.19 368.24,246.75 368.34,248.00 368.43,245.27 368.53,246.70 368.62,246.37 368.72,245.96 368.81,247.47 368.91,246.38 369.00,243.10 369.10,247.62 369.19,246.45 369.29,245.77 369.38,247.27 369.48,246.66 369.57,249.07 369.67,247.37 369.76,246.43 369.86,244.72 369.96,244.74 370.05,247.01 370.15,248.16 370.24,243.76 370.34,244.75 370.43,249.01 370.53,247.08 370.62,247.78 370.72,247.44 370.81,249.02 370.91,247.15 371.00,247.13 371.10,246.77 371.19,244.77 371.29,245.83 371.38,248.15 371.48,249.16 371.57,247.42 371.67,244.71 371.77,244.76 371.86,247.13 371.96,244.73 372.05,245.55 372.15,247.15 372.24,245.69 372.34,246.36 372.43,248.01 372.53,247.13 372.62,246.09 372.72,244.25 372.81,247.69 372.91,246.16 373.00,246.34 373.10,246.45 373.19,248.20 373.29,244.57 373.38,244.21 373.48,243.64 373.58,245.31 373.67,244.07 373.77,245.38 373.86,244.85 373.96,246.81 374.05,246.17 374.15,247.02 374.24,248.22 374.34,247.42 374.43,248.38 374.53,248.52 374.62,247.43 374.72,247.70 374.81,243.60 374.91,243.66 375.00,244.68 375.10,245.25 375.19,247.81 375.29,246.36 375.39,248.78 375.48,247.77 375.58,247.45 375.67,247.23 375.77,245.32 375.86,247.54 375.96,242.91 376.05,246.87 376.15,245.14 376.24,248.64 376.34,245.18 376.43,248.13 376.53,246.20 376.62,246.25 376.72,245.04 376.81,245.32 376.91,245.69 377.01,246.62 377.10,243.49 377.20,246.86 377.29,246.51 377.39,247.17 377.48,246.37 377.58,248.00 377.67,247.32 377.77,245.85 377.86,247.30 377.96,245.81 378.05,247.22 378.15,244.25 378.24,246.38 378.34,243.74 378.43,245.43 378.53,246.56 378.62,245.05 378.72,244.48 378.82,243.85 378.91,244.05 379.01,244.77 379.10,248.03 379.20,245.13 379.29,246.39 379.39,245.81 379.48,244.43 379.58,247.40 379.67,244.52 379.77,242.50 379.86,245.07 379.96,246.64 380.05,244.32 380.15,245.89 380.24,244.70 380.34,244.22 380.43,248.47 380.53,246.02 380.63,248.57 380.72,247.56 380.82,245.45 380.91,248.03 381.01,247.55 381.10,247.11 381.20,245.91 381.29,245.72 381.39,245.67 381.48,247.15 381.58,247.70 381.67,245.92 381.77,247.71 381.86,247.75 381.96,245.49 382.05,247.56 382.15,247.95 382.24,244.94 382.34,246.39 382.44,249.90 382.53,247.97 382.63,243.67 382.72,241.82 382.82,246.41 382.91,245.35 383.01,245.25 383.10,245.72 383.20,248.99 383.29,244.98 383.39,245.61 383.48,246.45 383.58,248.67 383.67,247.35 383.77,246.48 383.86,246.53 383.96,245.87 384.05,246.73 384.15,244.76 384.25,245.24 384.34,248.05 384.44,247.51 384.53,245.85 384.63,247.18 384.72,244.36 384.82,247.03 384.91,246.08 385.01,245.48 385.10,248.04 385.20,244.72 385.29,246.63 385.39,247.58 385.48,247.63 385.58,249.24 385.67,248.90 385.77,244.44 385.87,246.51 385.96,246.98 386.06,246.21 386.15,245.60 386.25,247.61 386.34,246.88 386.44,246.06 386.53,244.89 386.63,245.93 386.72,243.87 386.82,246.41 386.91,246.76 387.01,248.37 387.10,246.56 387.20,245.29 387.29,246.47 387.39,246.45 387.48,247.68 387.58,247.26 387.68,247.04 387.77,246.43 387.87,244.61 387.96,245.25 388.06,244.71 388.15,244.25 388.25,246.69 388.34,244.21 388.44,245.92 388.53,248.17 388.63,247.35 388.72,246.53 388.82,248.54 388.91,242.90 389.01,245.93 389.10,244.95 389.20,248.01 389.29,246.32 389.39,245.91 389.49,247.40 389.58,246.06 389.68,246.38 389.77,245.84 389.87,248.17 389.96,245.81 390.06,246.77 390.15,247.73 390.25,249.83 390.34,247.03 390.44,247.07 390.53,242.95 390.63,247.98 390.72,244.34 390.82,244.35 390.91,245.60 391.01,245.97 391.10,245.64 391.20,248.70 391.30,244.58 391.39,246.77 391.49,247.59 391.58,246.61 391.68,250.61 391.77,248.85 391.87,248.47 391.96,248.99 392.06,245.77 392.15,243.92 392.25,246.10 392.34,246.90 392.44,246.03 392.53,247.22 392.63,246.32 392.72,245.78 392.82,246.67 392.91,247.05 393.01,246.32 393.11,246.24 393.20,245.30 393.30,248.52 393.39,248.25 393.49,247.29 393.58,245.70 393.68,248.24 393.77,244.81 393.87,244.08 393.96,247.32 394.06,244.84 394.15,249.43 394.25,246.84 394.34,248.82 394.44,244.92 394.53,244.96 394.63,245.38 394.73,247.06 394.82,248.14 394.92,245.90 395.01,247.04 395.11,245.38 395.20,248.67 395.30,245.90 395.39,245.50 395.49,249.75 395.58,248.62 395.68,247.65 395.77,247.41 395.87,249.00 395.96,246.50 396.06,248.00 396.15,246.54 396.25,249.04 396.34,248.39 396.44,245.54 396.54,248.95 396.63,246.69 396.73,244.29 396.82,245.03 396.92,248.28 397.01,243.20 397.11,246.92 397.20,245.10 397.30,244.93 397.39,246.80 397.49,245.60 397.58,250.65 397.68,246.78 397.77,246.26 397.87,246.98 397.96,246.34 398.06,244.91 398.15,244.89 398.25,247.24 398.35,245.37 398.44,244.63 398.54,246.12 398.63,245.82 398.73,250.09 398.82,249.23 398.92,246.20 399.01,248.75 399.11,245.44 399.20,244.60 399.30,247.77 399.39,248.40 399.49,246.89 399.58,246.20 399.68,245.22 399.77,246.70 399.87,246.47 399.96,248.08 400.06,246.25 400.16,247.71 400.25,245.16 400.35,245.41 400.44,248.81 400.54,246.05 400.63,248.00 400.73,245.10 400.82,247.83 400.92,244.64 401.01,244.58 401.11,243.23 401.20,245.53 401.30,246.16 401.39,244.50 401.49,248.07 401.58,246.66 401.68,246.94 401.77,246.70 401.87,249.00 401.97,249.41 402.06,249.43 402.16,244.68 402.25,246.99 402.35,245.79 402.44,246.84 402.54,247.11 402.63,244.78 402.73,250.02 402.82,247.35 402.92,247.93 403.01,248.28 403.11,249.32 403.20,249.39 403.30,248.92 403.39,245.35 403.49,247.68 403.58,247.60 403.68,247.12 403.78,245.86 403.87,245.04 403.97,246.28 404.06,246.63 404.16,245.82 404.25,247.72 404.35,246.35 404.44,243.95 404.54,247.17 404.63,247.80 404.73,248.92 404.82,246.54 404.92,245.45 405.01,246.97 405.11,246.94 405.20,244.70 405.30,246.26 405.40,245.39 405.49,246.87 405.59,244.58 405.68,244.98 405.78,246.61 405.87,247.45 405.97,242.77 406.06,247.73 406.16,248.02 406.25,250.37 406.35,245.86 406.44,246.35 406.54,246.56 406.63,248.83 406.73,246.69 406.82,247.64 406.92,248.40 407.01,247.10 407.11,246.09 407.21,246.66 407.30,247.23 407.40,245.38 407.49,245.91 407.59,246.94 407.68,245.66 407.78,245.95 407.87,244.97 407.97,245.05 408.06,245.18 408.16,247.19 408.25,244.56 408.35,244.78 408.44,247.05 408.54,244.59 408.63,246.04 408.73,247.79 408.82,246.46 408.92,248.17 409.02,244.69 409.11,248.01 409.21,244.19 409.30,247.36 409.40,246.60 409.49,244.38 409.59,245.62 409.68,248.84 409.78,246.90 409.87,249.25 409.97,245.72 410.06,247.90 410.16,246.72 410.25,246.69 410.35,248.77 410.44,246.27 410.54,243.88 410.63,247.64 410.73,247.52 410.83,246.04 410.92,244.61 411.02,247.55 411.11,246.27 411.21,245.95 411.30,244.77 411.40,247.48 411.49,242.78 411.59,242.99 411.68,248.06 411.78,247.67 411.87,245.84 411.97,247.19 412.06,247.22 412.16,246.41 412.25,247.49 412.35,247.48 412.44,246.28 412.54,247.07 412.64,245.99 412.73,244.90 412.83,244.71 412.92,246.25 413.02,243.52 413.11,246.91 413.21,245.39 413.30,243.90 413.40,246.17 413.49,245.44 413.59,247.34 413.68,247.62 413.78,246.54 413.87,246.00 413.97,246.14 414.06,245.69 414.16,246.10 414.26,246.72 414.35,247.51 414.45,246.82 414.54,246.46 414.64,246.53 414.73,248.15 414.83,244.88 414.92,244.86 415.02,246.13 415.11,247.30 415.21,245.00 415.30,246.80 415.40,247.00 415.49,245.71 415.59,247.31 415.68,246.54 415.78,247.32 415.87,245.76 415.97,246.00 416.07,245.60 416.16,245.92 416.26,246.11 416.35,245.98 416.45,245.32 416.54,247.91 416.64,248.48 416.73,246.72 416.83,246.38 416.92,246.97 417.02,244.43 417.11,245.72 417.21,244.71 417.30,246.39 417.40,248.69 417.49,248.86 417.59,245.27 417.68,246.32 417.78,247.16 417.88,244.52 417.97,243.64 418.07,245.51 418.16,244.36 418.26,246.56 418.35,247.75 418.45,248.97 418.54,245.04 418.64,248.48 418.73,247.12 418.83,246.34 418.92,245.53 419.02,249.00 419.11,246.90 419.21,247.61 419.30,244.28 419.40,246.38 419.49,247.27 419.59,243.89 419.69,245.78 419.78,245.06 419.88,245.66 419.97,246.55 420.07,245.37 420.16,247.41 420.26,248.66 420.35,247.73 420.45,245.72 420.54,247.07 420.64,245.08 420.73,245.40 420.83,246.14 420.92,244.87 421.02,245.77 421.11,246.03 421.21,246.99 421.30,246.80 421.40,246.77 421.50,245.06 421.59,244.04 421.69,244.59 421.78,245.91 421.88,246.54 421.97,246.03 422.07,247.18 422.16,246.43 422.26,246.81 422.35,246.41 422.45,249.79 422.54,246.72 422.64,245.44 422.73,247.85 422.83,243.96 422.92,245.92 423.02,247.11 423.12,244.37 423.21,247.51 423.31,242.53 423.40,247.02 423.50,245.13 423.59,244.13 423.69,245.09 423.78,245.99 423.88,247.33 423.97,246.68 424.07,246.04 424.16,244.79 424.26,249.40 424.35,245.70 424.45,247.78 424.54,247.31 424.64,246.55 424.73,247.23 424.83,245.48 424.93,248.58 425.02,245.71 425.12,247.66 425.21,246.97 425.31,246.43 425.40,248.33 425.50,245.90 425.59,243.10 425.69,246.87 425.78,247.57 425.88,244.11 425.97,243.55 426.07,248.92 426.16,246.98 426.26,247.41 426.35,246.05 426.45,246.33 426.54,247.73 426.64,247.06 426.74,244.83 426.83,247.60 426.93,246.24 427.02,245.57 427.12,243.89 427.21,245.59 427.31,246.06 427.40,247.83 427.50,246.29 427.59,244.47 427.69,245.56 427.78,244.51 427.88,246.92 427.97,245.26 428.07,246.72 428.16,247.48 428.26,247.54 428.35,244.85 428.45,245.43 428.55,246.59 428.64,246.84 428.74,245.31 428.83,246.92 428.93,244.85 429.02,245.88 429.12,247.22 429.21,246.83 429.31,248.06 429.40,248.15 429.50,247.32 429.59,247.20 429.69,247.05 429.78,247.65 429.88,247.63 429.97,246.16 430.07,248.46 430.16,250.53 430.26,244.56 430.36,246.36 430.45,246.37 430.55,244.91 430.64,244.78 430.74,244.27 430.83,244.93 430.93,245.28 431.02,245.74 431.12,246.64 431.21,246.66 431.31,251.65 431.40,244.43 431.50,246.28 431.59,247.80 431.69,244.79 431.78,247.18 431.88,245.83 431.97,247.42 432.07,248.05 432.17,244.74 432.26,245.76 432.36,248.33 432.45,245.28 432.55,244.66 432.64,246.35 432.74,245.08 432.83,244.06 432.93,244.12 433.02,244.94 433.12,244.84 433.21,243.55 433.31,245.49 433.40,246.41 433.50,246.50 433.59,241.35 433.69,247.08 433.79,246.09 433.88,248.71 433.98,246.27 434.07,246.23 434.17,246.12 434.26,244.89 434.36,243.69 434.45,245.37 434.55,247.02 434.64,246.70 434.74,245.98 434.83,247.04 434.93,246.13 435.02,245.19 435.12,245.58 435.21,242.91 435.31,248.15 435.40,246.10 435.50,244.52 435.60,247.51 435.69,248.71 435.79,243.34 435.88,244.60 435.98,245.34 436.07,244.54 436.17,247.74 436.26,248.24 436.36,244.27 436.45,246.00 436.55,248.63 436.64,246.69 436.74,243.96 436.83,247.58 436.93,248.73 437.02,249.93 437.12,246.92 437.21,246.54 437.31,247.36 437.41,247.33 437.50,246.94 437.60,247.49 437.69,247.52 437.79,245.21 437.88,246.38 437.98,245.77 438.07,249.15 438.17,248.14 438.26,245.06 438.36,246.14 438.45,245.03 438.55,248.51 438.64,245.76 438.74,247.22 438.83,246.50 438.93,247.44 439.02,247.93 439.12,248.19 439.22,246.83 439.31,245.00 439.41,247.91 439.50,247.51 439.60,248.11 439.69,247.92 439.79,245.64 439.88,247.12 439.98,247.99 440.07,245.68 440.17,245.96 440.26,246.00 440.36,246.35 440.45,247.52 440.55,245.48 440.64,247.40 440.74,246.30 440.83,246.26 440.93,244.81 441.03,246.62 441.12,245.37 441.22,248.88 441.31,246.53 441.41,246.23 441.50,246.30 441.60,249.47 441.69,245.69 441.79,247.29 441.88,247.49 441.98,244.19 442.07,246.45 442.17,244.92 442.26,248.63 442.36,245.52 442.45,245.96 442.55,245.90 442.65,247.71 442.74,245.97 442.84,246.55 442.93,244.27 443.03,246.90 443.12,248.83 443.22,245.05 443.31,247.82 443.41,246.84 443.50,245.20 443.60,243.74 443.69,245.24 443.79,245.09 443.88,245.84 443.98,245.95 444.07,246.32 444.17,245.76 444.26,247.55 444.36,246.02 444.46,244.49 444.55,245.86 444.65,246.42 444.74,245.17 444.84,247.41 444.93,246.66 445.03,242.95 445.12,244.66 445.22,244.95 445.31,246.33 445.41,247.32 445.50,247.98 445.60,246.33 445.69,244.28 445.79,246.12 445.88,244.95 445.98,246.52 446.07,246.07 446.17,245.56 446.27,241.76 446.36,245.53 446.46,247.41 446.55,244.90 446.65,245.95 446.74,245.21 446.84,247.02 446.93,244.79 447.03,246.88 447.12,245.47 447.22,246.51 447.31,247.12 447.41,245.29 447.50,245.37 447.60,248.96 447.69,245.32 447.79,244.77 447.88,245.65 447.98,245.50 448.08,245.68 448.17,245.66 448.27,246.65 448.36,244.76 448.46,244.25 448.55,247.38 448.65,246.33 448.74,247.65 448.84,247.00 448.93,244.85 449.03,245.97 449.12,245.79 449.22,246.70 449.31,242.79 449.41,244.17 449.50,245.34 449.60,245.77 449.69,243.51 449.79,244.11 449.89,245.52 449.98,246.42 450.08,247.96 450.17,244.41 450.27,243.53 450.36,242.46 450.46,245.42 450.55,244.85 450.65,248.87 450.74,245.48 450.84,247.14 450.93,247.44 451.03,247.48 451.12,247.48 451.22,246.88 451.31,245.37 451.41,247.12 451.51,246.75 451.60,246.38 451.70,243.13 451.79,244.59 451.89,246.85 451.98,244.95 452.08,243.57 452.17,246.09 452.27,245.12 452.36,244.47 452.46,248.03 452.55,246.19 452.65,246.38 452.74,245.00 452.84,244.14 452.93,246.76 453.03,248.54 453.12,247.20 453.22,246.39 453.32,247.25 453.41,246.02 453.51,247.92 453.60,245.59 453.70,245.10 453.79,243.19 453.89,246.13 453.98,244.82 454.08,247.20 454.17,247.44 454.27,247.63 454.36,246.69 454.46,248.28 454.55,249.14 454.65,243.33 454.74,246.44 454.84,246.39 454.93,246.15 455.03,246.98 455.13,246.75 455.22,244.74 455.32,245.78 455.41,244.64 455.51,247.85 455.60,245.78 455.70,247.58 455.79,248.29 455.89,245.47 455.98,245.92 456.08,245.30 456.17,245.44 456.27,249.09 456.36,245.78 456.46,243.56 456.55,245.88 456.65,244.87 456.74,244.17 456.84,243.61 456.94,249.76 457.03,247.19 457.13,246.75 457.22,246.83 457.32,244.84 457.41,248.14 457.51,250.22 457.60,246.53 457.70,246.93 457.79,245.05 457.89,244.92 457.98,245.97 458.08,244.76 458.17,248.49 458.27,247.05 458.36,248.77 458.46,244.24 458.55,246.89 458.65,245.39 458.75,245.95 458.84,245.66 458.94,245.21 459.03,245.14 459.13,245.60 459.22,246.62 459.32,245.70 459.41,249.42 459.51,248.33 459.60,244.81 459.70,245.74 459.79,248.69 459.89,248.79 459.98,248.68 460.08,247.50 460.17,245.54 460.27,246.62 460.36,245.58 460.46,248.41 460.56,246.96 460.65,246.44 460.75,246.00 460.84,245.46 460.94,246.19 461.03,245.26 461.13,244.65 461.22,245.64 461.32,248.21 461.41,247.75 461.51,247.94 461.60,244.49 461.70,245.29 461.79,246.35 461.89,247.46 461.98,247.53 462.08,244.52 462.18,246.68 462.27,247.53 462.37,247.85 462.46,245.75 462.56,249.16 462.65,247.53 462.75,245.69 462.84,245.17 462.94,245.43 463.03,246.72 463.13,245.24 463.22,243.93 463.32,247.47 463.41,247.73 463.51,247.07 463.60,246.24 463.70,247.04 463.79,247.29 463.89,249.65 463.99,245.42 464.08,247.76 464.18,246.51 464.27,247.19 464.37,245.57 464.46,248.16 464.56,248.18 464.65,246.39 464.75,246.28 464.84,247.06 464.94,245.82 465.03,246.91 465.13,246.80 465.22,247.97 465.32,246.42 465.41,244.87 465.51,246.29 465.60,246.38 465.70,244.92" fill="none" stroke="#0072bd" stroke-width="0.42" opacity="0.85"/><text x="480.60" y="249.80" font-family='"Liberation Serif", serif' font-size="6.4" font-weight="bold" text-anchor="start" fill="#000" >H = 0.65</text><text x="413.20" y="269.80" font-family='"Liberation Sans", sans-serif' font-size="6.0" font-weight="bold" text-anchor="middle" fill="#000" >Time steps (TR)</text><text x="0.00" y="0.00" font-family='"Liberation Sans", sans-serif' font-size="6.0" font-weight="bold" text-anchor="middle" fill="#000" transform="translate(349.6,214.6) rotate(-90)">Z-scored BOLD signals</text><text x="334.90" y="295.80" font-family='"Liberation Serif", serif' font-size="13.0" font-weight="normal" text-anchor="middle" fill="#000" stroke="#000" stroke-width="0.15" >Brain criticality</text><circle cx="562.8" cy="66.1" r="6.1" fill="#fff" stroke="#222" stroke-width="0.6"/><text x="562.80" y="68.90" font-family='"Liberation Serif", serif' font-size="7.4" font-weight="normal" text-anchor="middle" fill="#000" stroke="#000" stroke-width="0.1" >A</text><circle cx="580.7" cy="66.1" r="6.1" fill="#fff" stroke="#222" stroke-width="0.6"/><text x="580.70" y="68.90" font-family='"Liberation Serif", serif' font-size="7.4" font-weight="normal" text-anchor="middle" fill="#000" stroke="#000" stroke-width="0.1" >C</text><circle cx="598.5" cy="66.1" r="6.1" fill="#fff" stroke="#222" stroke-width="0.6"/><text x="598.50" y="68.90" font-family='"Liberation Serif", serif' font-size="7.4" font-weight="normal" text-anchor="middle" fill="#000" stroke="#000" stroke-width="0.1" >E</text><circle cx="620.1" cy="66.1" r="6.1" fill="#fff" stroke="#222" stroke-width="0.6"/><text x="620.10" y="68.90" font-family='"Liberation Serif", serif' font-size="7.4" font-weight="normal" text-anchor="middle" fill="#000" stroke="#000" stroke-width="0.1" >A</text><circle cx="637.5" cy="66.1" r="6.1" fill="#fff" stroke="#222" stroke-width="0.6"/><text x="637.50" y="68.90" font-family='"Liberation Serif", serif' font-size="7.4" font-weight="normal" text-anchor="middle" fill="#000" stroke="#000" stroke-width="0.1" >C</text><circle cx="655.3" cy="66.1" r="6.1" fill="#fff" stroke="#222" stroke-width="0.6"/><text x="655.30" y="68.90" font-family='"Liberation Serif", serif' font-size="7.4" font-weight="normal" text-anchor="middle" fill="#000" stroke="#000" stroke-width="0.1" >E</text><rect x="567.3" y="80.3" width="28.3" height="15.0" fill="#fff" stroke="#222" stroke-width="0.6"/><text x="581.45" y="90.10" font-family='"Liberation Serif", serif' font-size="7.4" font-weight="normal" text-anchor="middle" fill="#000" stroke="#000" stroke-width="0.12" >Twin 1</text><rect x="623.5" y="80.3" width="28.3" height="15.0" fill="#fff" stroke="#222" stroke-width="0.6"/><text x="637.65" y="90.10" font-family='"Liberation Serif", serif' font-size="7.4" font-weight="normal" text-anchor="middle" fill="#000" stroke="#000" stroke-width="0.12" >Twin 2</text><line x1="566.0" y1="71.3" x2="572.8" y2="79.6" stroke="#222" stroke-width="0.5"/><path d="M573.10,80.00 L572.53,77.56 L570.73,79.17Z" fill="#000"/><line x1="580.7" y1="72.2" x2="580.7" y2="79.4" stroke="#222" stroke-width="0.5"/><path d="M580.70,80.00 L581.91,77.80 L579.49,77.80Z" fill="#000"/><line x1="595.3" y1="71.3" x2="590.3" y2="79.6" stroke="#222" stroke-width="0.5"/><path d="M589.90,80.00 L592.27,79.17 L590.47,77.56Z" fill="#000"/><line x1="623.3000000000001" y1="71.3" x2="629.0" y2="79.6" stroke="#222" stroke-width="0.5"/><path d="M629.30,80.00 L628.73,77.56 L626.93,79.17Z" fill="#000"/><line x1="637.5" y1="72.2" x2="637.5" y2="79.4" stroke="#222" stroke-width="0.5"/><path d="M637.50,80.00 L638.71,77.80 L636.29,77.80Z" fill="#000"/><line x1="652.0999999999999" y1="71.3" x2="646.5" y2="79.6" stroke="#222" stroke-width="0.5"/><path d="M646.10,80.00 L648.47,79.17 L646.67,77.56Z" fill="#000"/><path d="M563.2,59.6 C566,45 612,43 620.0,59.6" fill="none" stroke="#222" stroke-width="0.55"/><path d="M581.0,59.6 C584,45 630,43 637.4,59.6" fill="none" stroke="#222" stroke-width="0.55"/><path d="M563.00,60.00 L564.57,58.04 L562.19,57.62Z" fill="#000"/><path d="M620.10,60.00 L620.70,57.56 L618.36,58.19Z" fill="#000"/><path d="M580.80,60.00 L582.37,58.04 L579.99,57.62Z" fill="#000"/><path d="M637.50,60.00 L638.10,57.56 L635.76,58.19Z" fill="#000"/><text x="568.80" y="37.00" font-family='"Liberation Serif", serif' font-size="5.8" font-weight="bold" text-anchor="start" fill="#000" >r<tspan font-size="3.5" dy="1">A</tspan><tspan dy="-1"> = 1.0 MZ</tspan></text><text x="579.80" y="44.00" font-family='"Liberation Serif", serif' font-size="5.8" font-weight="bold" text-anchor="start" fill="#000" >0.5 DZ</text><text x="604.80" y="40.60" font-family='"Liberation Serif", serif' font-size="5.8" font-weight="bold" text-anchor="start" fill="#000" >r<tspan font-size="3.5" dy="1">C</tspan><tspan dy="-1"> = 1.0</tspan></text><text x="606.50" y="112.70" font-family='"Liberation Serif", serif' font-size="11.6" font-weight="normal" text-anchor="middle" fill="#000" stroke="#000" stroke-width="0.15" >ACE model</text><text x="606.50" y="126.20" font-family='"Liberation Serif", serif' font-size="11.6" font-weight="normal" text-anchor="middle" fill="#000" stroke="#000" stroke-width="0.15" >based on twins</text><path d="M558.65 161.03V162.40M560.95 159.00V162.40M563.25 156.91V162.40M565.55 155.03V162.40M567.85 153.60V161.27M570.15 152.77V159.28M572.45 152.63V157.17M574.75 153.20V155.26M577.05 153.76V154.41M579.35 152.84V156.13M581.65 152.61V158.17M583.95 153.09V160.27M586.25 154.22V162.05M588.55 155.89V161.50M590.85 157.90V159.55M594.30 156.43V160.99M596.60 154.64V162.37M598.90 153.34V160.83M601.20 152.67V158.77M603.50 152.71V156.69M605.80 153.43V154.85M609.25 153.02V155.64M611.55 152.60V157.62M613.85 152.90V159.74M616.15 153.87V161.65M618.45 155.41V161.92M620.75 157.35V160.09M623.05 157.99V159.46M625.35 155.97V161.43M627.65 154.28V162.11M629.95 153.12V160.36M632.25 152.62V158.27M634.55 152.82V156.22M636.85 153.70V154.48M640.30 152.86V156.09M642.60 152.61V158.13M644.90 153.07V160.23M647.20 154.19V162.02M649.50 155.85V162.40M651.80 157.85V162.40M654.10 159.96V162.40" stroke="#000" stroke-width="0.75" fill="none"/><path d="M559.80 160.05V162.40M562.10 157.94V162.40M564.40 155.93V162.40M566.70 154.25V162.08M569.00 153.10V160.31M571.30 152.61V158.22M573.60 152.83V156.18M575.90 153.73V154.44M578.20 153.22V155.22M580.50 152.64V157.13M582.80 152.76V159.23M585.10 153.58V161.23M587.40 155.00V162.24M589.70 156.86V160.57M593.15 157.44V160.01M595.45 155.49V161.86M597.75 153.92V161.72M600.05 152.92V159.83M602.35 152.60V157.72M604.65 152.99V155.72M608.10 153.48V154.78M610.40 152.72V156.60M612.70 152.66V158.68M615.00 153.30V160.74M617.30 154.58V162.34M619.60 156.34V161.07M621.90 158.40V159.05M624.20 156.95V160.49M626.50 155.07V162.19M628.80 153.63V161.31M631.10 152.78V159.33M633.40 152.63V157.22M635.70 153.18V155.29M639.15 153.24V155.18M641.45 152.64V157.08M643.75 152.75V159.19M646.05 153.55V161.19M648.35 154.96V162.40M650.65 156.82V162.40M652.95 158.91V162.40M655.25 160.95V162.40" stroke="#aaa" stroke-width="0.5" fill="none"/><polyline points="566.00,162.40 566.51,162.19 567.02,161.88 567.52,161.52 568.03,161.13 568.54,160.71 569.05,160.27 569.56,159.82 570.07,159.36 570.58,158.89 571.08,158.42 571.59,157.95 572.10,157.49 572.61,157.03 573.12,156.59 573.62,156.15 574.13,155.74 574.64,155.34 575.15,154.96 575.66,154.60 576.17,154.27 576.67,153.97 577.18,153.69 577.69,153.44 578.20,153.22 578.71,153.03 579.22,152.88 579.73,152.76 580.23,152.67 580.74,152.62 581.25,152.60" fill="none" stroke="#22a04a" stroke-width="1.7" stroke-linecap="round"/><polyline points="581.25,152.60 581.76,152.62 582.27,152.67 582.77,152.76 583.28,152.88 583.79,153.03 584.30,153.22 584.81,153.44 585.32,153.69 585.83,153.97 586.33,154.27 586.84,154.60 587.35,154.96 587.86,155.34 588.37,155.74 588.88,156.15 589.38,156.59 589.89,157.03 590.40,157.49 590.91,157.95 591.42,158.42 591.92,158.89 592.43,159.36 592.94,159.82 593.45,160.27 593.96,160.71 594.47,161.13 594.98,161.52 595.48,161.88 595.99,162.19 596.50,162.40" fill="none" stroke="#86c99a" stroke-width="1.7" stroke-linecap="round"/><polyline points="596.50,162.40 597.01,162.19 597.52,161.88 598.02,161.52 598.53,161.13 599.04,160.71 599.55,160.27 600.06,159.82 600.57,159.36 601.08,158.89 601.58,158.42 602.09,157.95 602.60,157.49 603.11,157.03 603.62,156.59 604.12,156.15 604.63,155.74 605.14,155.34 605.65,154.96 606.16,154.60 606.67,154.27 607.17,153.97 607.68,153.69 608.19,153.44 608.70,153.22 609.21,153.03 609.72,152.88 610.23,152.76 610.73,152.67 611.24,152.62 611.75,152.60" fill="none" stroke="#22a04a" stroke-width="1.7" stroke-linecap="round"/><polyline points="611.75,152.60 612.26,152.62 612.77,152.67 613.27,152.76 613.78,152.88 614.29,153.03 614.80,153.22 615.31,153.44 615.82,153.69 616.33,153.97 616.83,154.27 617.34,154.60 617.85,154.96 618.36,155.34 618.87,155.74 619.38,156.15 619.88,156.59 620.39,157.03 620.90,157.49 621.41,157.95 621.92,158.42 622.42,158.89 622.93,159.36 623.44,159.82 623.95,160.27 624.46,160.71 624.97,161.13 625.48,161.52 625.98,161.88 626.49,162.19 627.00,162.40" fill="none" stroke="#86c99a" stroke-width="1.7" stroke-linecap="round"/><polyline points="627.00,162.40 627.51,162.19 628.02,161.88 628.52,161.52 629.03,161.13 629.54,160.71 630.05,160.27 630.56,159.82 631.07,159.36 631.58,158.89 632.08,158.42 632.59,157.95 633.10,157.49 633.61,157.03 634.12,156.59 634.62,156.15 635.13,155.74 635.64,155.34 636.15,154.96 636.66,154.60 637.17,154.27 637.67,153.97 638.18,153.69 638.69,153.44 639.20,153.22 639.71,153.03 640.22,152.88 640.73,152.76 641.23,152.67 641.74,152.62 642.25,152.60" fill="none" stroke="#22a04a" stroke-width="1.7" stroke-linecap="round"/><polyline points="642.25,152.60 642.76,152.62 643.27,152.67 643.77,152.76 644.28,152.88 644.79,153.03 645.30,153.22 645.81,153.44 646.32,153.69 646.83,153.97 647.33,154.27 647.84,154.60 648.35,154.96 648.86,155.34 649.37,155.74 649.88,156.15 650.38,156.59 650.89,157.03 651.40,157.49 651.91,157.95 652.42,158.42 652.92,158.89 653.43,159.36 653.94,159.82 654.45,160.27 654.96,160.71 655.47,161.13 655.98,161.52 656.48,161.88 656.99,162.19 657.50,162.40" fill="none" stroke="#86c99a" stroke-width="1.7" stroke-linecap="round"/><polyline points="556.50,162.40 557.01,162.19 557.52,161.88 558.02,161.52 558.53,161.13 559.04,160.71 559.55,160.27 560.06,159.82 560.57,159.36 561.08,158.89 561.58,158.42 562.09,157.95 562.60,157.49 563.11,157.03 563.62,156.59 564.12,156.15 564.63,155.74 565.14,155.34 565.65,154.96 566.16,154.60 566.67,154.27 567.17,153.97 567.68,153.69 568.19,153.44 568.70,153.22 569.21,153.03 569.72,152.88 570.23,152.76 570.73,152.67 571.24,152.62 571.75,152.60" fill="none" stroke="#5ab4e8" stroke-width="1.7" stroke-linecap="round"/><polyline points="571.75,152.60 572.26,152.62 572.77,152.67 573.27,152.76 573.78,152.88 574.29,153.03 574.80,153.22 575.31,153.44 575.82,153.69 576.33,153.97 576.83,154.27 577.34,154.60 577.85,154.96 578.36,155.34 578.87,155.74 579.38,156.15 579.88,156.59 580.39,157.03 580.90,157.49 581.41,157.95 581.92,158.42 582.42,158.89 582.93,159.36 583.44,159.82 583.95,160.27 584.46,160.71 584.97,161.13 585.48,161.52 585.98,161.88 586.49,162.19 587.00,162.40" fill="none" stroke="#1a5fa8" stroke-width="1.7" stroke-linecap="round"/><polyline points="587.00,162.40 587.51,162.19 588.02,161.88 588.52,161.52 589.03,161.13 589.54,160.71 590.05,160.27 590.56,159.82 591.07,159.36 591.58,158.89 592.08,158.42 592.59,157.95 593.10,157.49 593.61,157.03 594.12,156.59 594.62,156.15 595.13,155.74 595.64,155.34 596.15,154.96 596.66,154.60 597.17,154.27 597.67,153.97 598.18,153.69 598.69,153.44 599.20,153.22 599.71,153.03 600.22,152.88 600.73,152.76 601.23,152.67 601.74,152.62 602.25,152.60" fill="none" stroke="#5ab4e8" stroke-width="1.7" stroke-linecap="round"/><polyline points="602.25,152.60 602.76,152.62 603.27,152.67 603.77,152.76 604.28,152.88 604.79,153.03 605.30,153.22 605.81,153.44 606.32,153.69 606.83,153.97 607.33,154.27 607.84,154.60 608.35,154.96 608.86,155.34 609.37,155.74 609.88,156.15 610.38,156.59 610.89,157.03 611.40,157.49 611.91,157.95 612.42,158.42 612.92,158.89 613.43,159.36 613.94,159.82 614.45,160.27 614.96,160.71 615.47,161.13 615.98,161.52 616.48,161.88 616.99,162.19 617.50,162.40" fill="none" stroke="#1a5fa8" stroke-width="1.7" stroke-linecap="round"/><polyline points="617.50,162.40 618.01,162.19 618.52,161.88 619.02,161.52 619.53,161.13 620.04,160.71 620.55,160.27 621.06,159.82 621.57,159.36 622.08,158.89 622.58,158.42 623.09,157.95 623.60,157.49 624.11,157.03 624.62,156.59 625.12,156.15 625.63,155.74 626.14,155.34 626.65,154.96 627.16,154.60 627.67,154.27 628.17,153.97 628.68,153.69 629.19,153.44 629.70,153.22 630.21,153.03 630.72,152.88 631.23,152.76 631.73,152.67 632.24,152.62 632.75,152.60" fill="none" stroke="#5ab4e8" stroke-width="1.7" stroke-linecap="round"/><polyline points="632.75,152.60 633.26,152.62 633.77,152.67 634.27,152.76 634.78,152.88 635.29,153.03 635.80,153.22 636.31,153.44 636.82,153.69 637.33,153.97 637.83,154.27 638.34,154.60 638.85,154.96 639.36,155.34 639.87,155.74 640.38,156.15 640.88,156.59 641.39,157.03 641.90,157.49 642.41,157.95 642.92,158.42 643.42,158.89 643.93,159.36 644.44,159.82 644.95,160.27 645.46,160.71 645.97,161.13 646.48,161.52 646.98,161.88 647.49,162.19 648.00,162.40" fill="none" stroke="#1a5fa8" stroke-width="1.7" stroke-linecap="round"/><line x1="555.0" y1="162.4" x2="558.5" y2="162.4" stroke="#5ab4e8" stroke-width="0.8"/><text x="609.60" y="182.60" font-family='"Liberation Serif", serif' font-size="11.7" font-weight="normal" text-anchor="middle" fill="#000" stroke="#000" stroke-width="0.15" >ABHB gene</text><text x="609.60" y="196.20" font-family='"Liberation Serif", serif' font-size="11.7" font-weight="normal" text-anchor="middle" fill="#000" stroke="#000" stroke-width="0.15" >expression</text><defs><clipPath id="brainclip"><path d="M536.9,252 C536,246 540,240 545.4,236.3 C548,233 552,229 555.9,226.5 C559,224.5 561,223.6 564.4,223.2 C568,222 572,221.7 576.2,221.7 C580,221.6 584,222.4 588.1,223.2 C592,224 595,225 598.6,226.5 C603,229 606,231 609,233.7 C612,236.5 614,239.5 615.6,242.9 C617,246 618.5,249 619,252.6 C619,256 617,259.5 614.3,261.7 C611.5,263.8 609,264.2 607.8,264.3 C604,264.6 601.5,264.5 600,265 C598,266 597.5,268.5 596.1,269.5 C594,271.5 592,273.4 589.6,273.4 C587,273.6 585,273.4 583.1,272.8 C580,271.5 578,269.5 576,268 C570,266 560,265.5 551,265 C546,264.5 543,264 540,262 C537.5,259.5 536.5,256 536.9,252 Z"/></clipPath></defs><g stroke-linejoin="round"><path d="M543.5,262 C544,266 544.5,269 545.4,270.8 C547.5,274 549.5,276 551.9,277.3 C554.5,279 557,280.4 559.7,280.6 C563,280.8 566,280.5 568.8,279.9 C572,279 574.5,278 576.6,276.7 C578.8,275 580.5,273.5 581.2,271.5 C582,269 580,267 576,266.5 C566,265 554,263.5 543.5,262 Z" fill="#c8a19c" stroke="#8a5a55" stroke-width="0.6"/><path d="M546,267 C555,270 567,271 579,269 M548,271.5 C557,274.5 567,275 578,273 M551,275.5 C558,278 566,278.5 574,277 M545,264.5 C556,267 566,267.5 578,267" fill="none" stroke="#9d726d" stroke-width="0.5"/><path d="M536.9,252 C536,246 540,240 545.4,236.3 C548,233 552,229 555.9,226.5 C559,224.5 561,223.6 564.4,223.2 C568,222 572,221.7 576.2,221.7 C580,221.6 584,222.4 588.1,223.2 C592,224 595,225 598.6,226.5 C603,229 606,231 609,233.7 C612,236.5 614,239.5 615.6,242.9 C617,246 618.5,249 619,252.6 C619,256 617,259.5 614.3,261.7 C611.5,263.8 609,264.2 607.8,264.3 C604,264.6 601.5,264.5 600,265 C598,266 597.5,268.5 596.1,269.5 C594,271.5 592,273.4 589.6,273.4 C587,273.6 585,273.4 583.1,272.8 C580,271.5 578,269.5 576,268 C570,266 560,265.5 551,265 C546,264.5 543,264 540,262 C537.5,259.5 536.5,256 536.9,252 Z" fill="#f1e0dd" stroke="#8a5852" stroke-width="0.75"/><g clip-path="url(#brainclip)"><path d="M550.0,231.0 L550.9,233.1 L551.3,235.4 L551.2,237.7 L552.2,239.7 L554.3,240.7 L556.5,241.3 M556.0,226.0 L557.3,227.9 L557.6,230.2 L557.4,232.5 L556.8,234.7 L556.0,236.9 L554.8,238.8 L554.6,241.1 L554.7,243.4 M565.0,223.0 L566.2,225.0 L566.1,227.3 L567.4,229.2 L567.8,231.5 L569.3,233.1 L570.4,235.2 L571.9,236.9 L573.6,238.5 L574.4,240.6 M576.0,222.0 L577.4,223.8 L579.6,224.5 L581.0,226.3 L582.4,228.1 L584.6,228.9 L585.8,230.8 L585.7,233.1 L586.7,235.2 L588.0,237.1 L590.0,238.2 M588.0,223.0 L588.3,225.3 L588.2,227.6 L589.2,229.7 L589.6,231.9 L591.2,233.6 L593.4,234.3 L595.0,235.9 L596.9,237.2 L598.9,238.4 L600.7,239.7 M598.0,226.0 L597.3,228.2 L597.0,230.5 L598.2,232.5 L598.6,234.7 L597.6,236.8 L595.6,237.8 L593.3,238.3 L591.2,239.3 L589.4,240.6 M607.0,232.0 L605.4,233.6 L603.4,234.8 L602.3,236.8 L602.0,239.1 L602.1,241.4 L602.2,243.7 L601.4,245.8 L600.5,247.9 M614.0,240.0 L613.6,242.3 L612.3,244.1 L611.1,246.1 L609.9,248.1 L609.6,250.4 L609.4,252.7 M537.0,250.0 L539.3,250.0 L541.4,250.8 L543.7,250.4 L546.0,250.2 L547.9,248.9 L550.1,248.3 L551.5,246.4 M541.0,242.0 L543.3,242.4 L545.6,242.4 L547.8,242.7 L549.9,241.7 L551.9,240.5 L553.2,238.7 M545.0,257.0 L547.2,256.4 L549.4,255.8 L551.6,256.6 L553.8,257.3 L555.1,259.2 L557.1,260.3 L558.1,262.3 L559.6,264.1 M558.0,248.0 L560.2,247.2 L562.5,247.3 L564.4,248.6 L566.7,248.3 L568.8,247.4 L571.1,247.3 L573.3,246.7 L575.1,245.3 L575.7,243.1 M572.0,255.0 L574.1,254.1 L576.4,253.6 L578.4,254.6 L579.4,256.7 L580.3,258.8 L582.3,259.9 L584.6,260.4 L586.4,261.8 L587.5,263.8 M588.0,258.0 L590.3,258.4 L592.5,258.0 L594.8,257.7 L597.1,257.3 L599.4,257.3 L601.5,256.5 L603.7,257.2 L605.3,258.9 M600.0,252.0 L602.3,251.7 L604.4,250.8 L606.7,251.0 L608.9,250.6 L611.0,251.5 L613.1,252.5 M580.0,238.0 L581.1,240.0 L581.6,242.3 L582.9,244.2 L584.7,245.6 L586.9,246.3 L588.8,247.5 M563.0,236.0 L563.9,238.1 L565.7,239.5 L566.6,241.7 L567.6,243.7 L569.4,245.2 L571.2,246.6 M595.0,240.0 L595.7,242.2 L596.2,244.4 L596.3,246.7 L595.1,248.7 L592.9,249.6 M604.0,262.0 L606.3,261.7 L608.5,261.1 L610.8,260.8 L612.9,261.8 M551.0,240.0 L551.2,242.3 L551.0,244.6 L551.4,246.9 L552.2,249.0 L552.3,251.3 M572.0,230.0 L573.1,232.0 L575.2,233.0 L576.9,234.5 L577.6,236.7 L577.3,238.9 M589.0,231.0 L588.4,233.2 L586.6,234.7 L584.8,236.1 L582.6,236.7 L580.5,237.7 M555.0,233.0 L557.2,232.4 L559.3,231.4 L561.0,229.8 L563.3,229.5 L565.5,229.9 M567.0,228.0 L565.5,229.8 L563.8,231.3 L563.0,233.5 L562.2,235.6 M579.0,234.0 L581.3,234.0 L583.6,233.6 L585.6,232.4 L587.4,231.0 L588.8,229.2 M601.0,236.0 L599.1,237.3 L598.0,239.3 L598.2,241.6 L599.0,243.8 L599.2,246.0 M609.0,248.0 L607.7,249.9 L606.0,251.5 L603.8,251.8 L601.6,252.6 L600.3,254.5 M612.0,256.0 L609.7,256.4 L607.5,256.9 L605.7,258.4 L603.6,259.4 M584.0,248.0 L586.3,248.4 L588.5,248.0 L590.6,247.0 L592.9,247.5 L594.9,246.4 L596.7,244.9 M553.0,262.0 L555.2,261.3 L556.9,259.8 L558.5,258.1 L559.3,255.9 L561.1,254.6 M566.0,245.0 L565.0,247.1 L563.5,248.8 L563.0,251.1 L562.6,253.3 M594.0,266.0 L596.3,265.9 L598.4,266.8 L600.7,267.0 L603.0,267.1 M546.0,230.0 L546.2,232.3 L545.3,234.4 L545.3,236.7 L545.1,239.0 M538.0,258.0 L540.3,258.2 L542.6,258.0 L544.9,258.3 M610.0,242.0 L607.7,242.3 L605.8,241.1 L603.9,239.7 L602.4,237.9 M617.0,250.0 L615.2,251.4 L613.0,252.1 L611.1,253.4" fill="none" stroke="#fff" stroke-width="1.2" stroke-linejoin="round" opacity="0.5" transform="translate(0.5,0.5)"/><path d="M550.0,231.0 L550.9,233.1 L551.3,235.4 L551.2,237.7 L552.2,239.7 L554.3,240.7 L556.5,241.3 M556.0,226.0 L557.3,227.9 L557.6,230.2 L557.4,232.5 L556.8,234.7 L556.0,236.9 L554.8,238.8 L554.6,241.1 L554.7,243.4 M565.0,223.0 L566.2,225.0 L566.1,227.3 L567.4,229.2 L567.8,231.5 L569.3,233.1 L570.4,235.2 L571.9,236.9 L573.6,238.5 L574.4,240.6 M576.0,222.0 L577.4,223.8 L579.6,224.5 L581.0,226.3 L582.4,228.1 L584.6,228.9 L585.8,230.8 L585.7,233.1 L586.7,235.2 L588.0,237.1 L590.0,238.2 M588.0,223.0 L588.3,225.3 L588.2,227.6 L589.2,229.7 L589.6,231.9 L591.2,233.6 L593.4,234.3 L595.0,235.9 L596.9,237.2 L598.9,238.4 L600.7,239.7 M598.0,226.0 L597.3,228.2 L597.0,230.5 L598.2,232.5 L598.6,234.7 L597.6,236.8 L595.6,237.8 L593.3,238.3 L591.2,239.3 L589.4,240.6 M607.0,232.0 L605.4,233.6 L603.4,234.8 L602.3,236.8 L602.0,239.1 L602.1,241.4 L602.2,243.7 L601.4,245.8 L600.5,247.9 M614.0,240.0 L613.6,242.3 L612.3,244.1 L611.1,246.1 L609.9,248.1 L609.6,250.4 L609.4,252.7 M537.0,250.0 L539.3,250.0 L541.4,250.8 L543.7,250.4 L546.0,250.2 L547.9,248.9 L550.1,248.3 L551.5,246.4 M541.0,242.0 L543.3,242.4 L545.6,242.4 L547.8,242.7 L549.9,241.7 L551.9,240.5 L553.2,238.7 M545.0,257.0 L547.2,256.4 L549.4,255.8 L551.6,256.6 L553.8,257.3 L555.1,259.2 L557.1,260.3 L558.1,262.3 L559.6,264.1 M558.0,248.0 L560.2,247.2 L562.5,247.3 L564.4,248.6 L566.7,248.3 L568.8,247.4 L571.1,247.3 L573.3,246.7 L575.1,245.3 L575.7,243.1 M572.0,255.0 L574.1,254.1 L576.4,253.6 L578.4,254.6 L579.4,256.7 L580.3,258.8 L582.3,259.9 L584.6,260.4 L586.4,261.8 L587.5,263.8 M588.0,258.0 L590.3,258.4 L592.5,258.0 L594.8,257.7 L597.1,257.3 L599.4,257.3 L601.5,256.5 L603.7,257.2 L605.3,258.9 M600.0,252.0 L602.3,251.7 L604.4,250.8 L606.7,251.0 L608.9,250.6 L611.0,251.5 L613.1,252.5 M580.0,238.0 L581.1,240.0 L581.6,242.3 L582.9,244.2 L584.7,245.6 L586.9,246.3 L588.8,247.5 M563.0,236.0 L563.9,238.1 L565.7,239.5 L566.6,241.7 L567.6,243.7 L569.4,245.2 L571.2,246.6 M595.0,240.0 L595.7,242.2 L596.2,244.4 L596.3,246.7 L595.1,248.7 L592.9,249.6 M604.0,262.0 L606.3,261.7 L608.5,261.1 L610.8,260.8 L612.9,261.8 M551.0,240.0 L551.2,242.3 L551.0,244.6 L551.4,246.9 L552.2,249.0 L552.3,251.3 M572.0,230.0 L573.1,232.0 L575.2,233.0 L576.9,234.5 L577.6,236.7 L577.3,238.9 M589.0,231.0 L588.4,233.2 L586.6,234.7 L584.8,236.1 L582.6,236.7 L580.5,237.7 M555.0,233.0 L557.2,232.4 L559.3,231.4 L561.0,229.8 L563.3,229.5 L565.5,229.9 M567.0,228.0 L565.5,229.8 L563.8,231.3 L563.0,233.5 L562.2,235.6 M579.0,234.0 L581.3,234.0 L583.6,233.6 L585.6,232.4 L587.4,231.0 L588.8,229.2 M601.0,236.0 L599.1,237.3 L598.0,239.3 L598.2,241.6 L599.0,243.8 L599.2,246.0 M609.0,248.0 L607.7,249.9 L606.0,251.5 L603.8,251.8 L601.6,252.6 L600.3,254.5 M612.0,256.0 L609.7,256.4 L607.5,256.9 L605.7,258.4 L603.6,259.4 M584.0,248.0 L586.3,248.4 L588.5,248.0 L590.6,247.0 L592.9,247.5 L594.9,246.4 L596.7,244.9 M553.0,262.0 L555.2,261.3 L556.9,259.8 L558.5,258.1 L559.3,255.9 L561.1,254.6 M566.0,245.0 L565.0,247.1 L563.5,248.8 L563.0,251.1 L562.6,253.3 M594.0,266.0 L596.3,265.9 L598.4,266.8 L600.7,267.0 L603.0,267.1 M546.0,230.0 L546.2,232.3 L545.3,234.4 L545.3,236.7 L545.1,239.0 M538.0,258.0 L540.3,258.2 L542.6,258.0 L544.9,258.3 M610.0,242.0 L607.7,242.3 L605.8,241.1 L603.9,239.7 L602.4,237.9 M617.0,250.0 L615.2,251.4 L613.0,252.1 L611.1,253.4" fill="none" stroke="#733f3a" stroke-width="0.7" stroke-linejoin="round"/></g><path d="M538,252 C543,250 546,254 551,253 C556,252 558,256 563,256 C568,257 572,260 578,260 C584,260 588,263 594,262 C600,262 604,265 609,263" fill="none" stroke="#7c4742" stroke-width="0.6"/></g><circle cx="623.4" cy="243.2" r="2.1" fill="#fff" stroke="#3a62b8" stroke-width="0.9"/><circle cx="635.0" cy="237.9" r="3.6" fill="#fff" stroke="#3a62b8" stroke-width="0.9"/><path d="M676.86,232.92 A4.5,4.5 0 0,1 672.78,239.80 A4.5,4.5 0 0,1 664.87,243.75 A4.5,4.5 0 0,1 655.63,243.53 A4.5,4.5 0 0,1 648.00,239.21 A4.5,4.5 0 0,1 644.41,232.15 A4.5,4.5 0 0,1 645.98,224.60 A4.5,4.5 0 0,1 652.23,218.95 A4.5,4.5 0 0,1 661.17,217.01 A4.5,4.5 0 0,1 669.96,219.37 A4.5,4.5 0 0,1 675.81,225.31 A4.5,4.5 0 0,1 676.86,232.92Z" fill="#fff" stroke="#3556b5" stroke-width="0.95"/><path d="M661,220.6 A6.0,6.0 0 0,1 667.0,226.6 C667.0,229.0 664.4,230.3 663.8,232.8 L658.2,232.8 C657.6,230.3 655.0,229.0 655.0,226.6 A6.0,6.0 0 0,1 661,220.6 Z" fill="#fff" stroke="#efc300" stroke-width="1.35"/><path d="M659.2,227.6 L661,229.2 L662.8,227.6 M661,229.2 L661,232.6" fill="none" stroke="#e0b400" stroke-width="0.9"/><rect x="658.20" y="234.2" width="5.6" height="1.1" fill="#555"/><rect x="658.20" y="235.9" width="5.6" height="1.1" fill="#555"/><rect x="658.40" y="237.6" width="5.2" height="1.1" fill="#555"/><rect x="659.8" y="239.0" width="2.4" height="0.9" fill="#555"/><text x="609.10" y="298.90" font-family='"Liberation Serif", serif' font-size="11.5" font-weight="normal" text-anchor="middle" fill="#000" stroke="#000" stroke-width="0.15" >Total cognition</text></svg></body></html>
